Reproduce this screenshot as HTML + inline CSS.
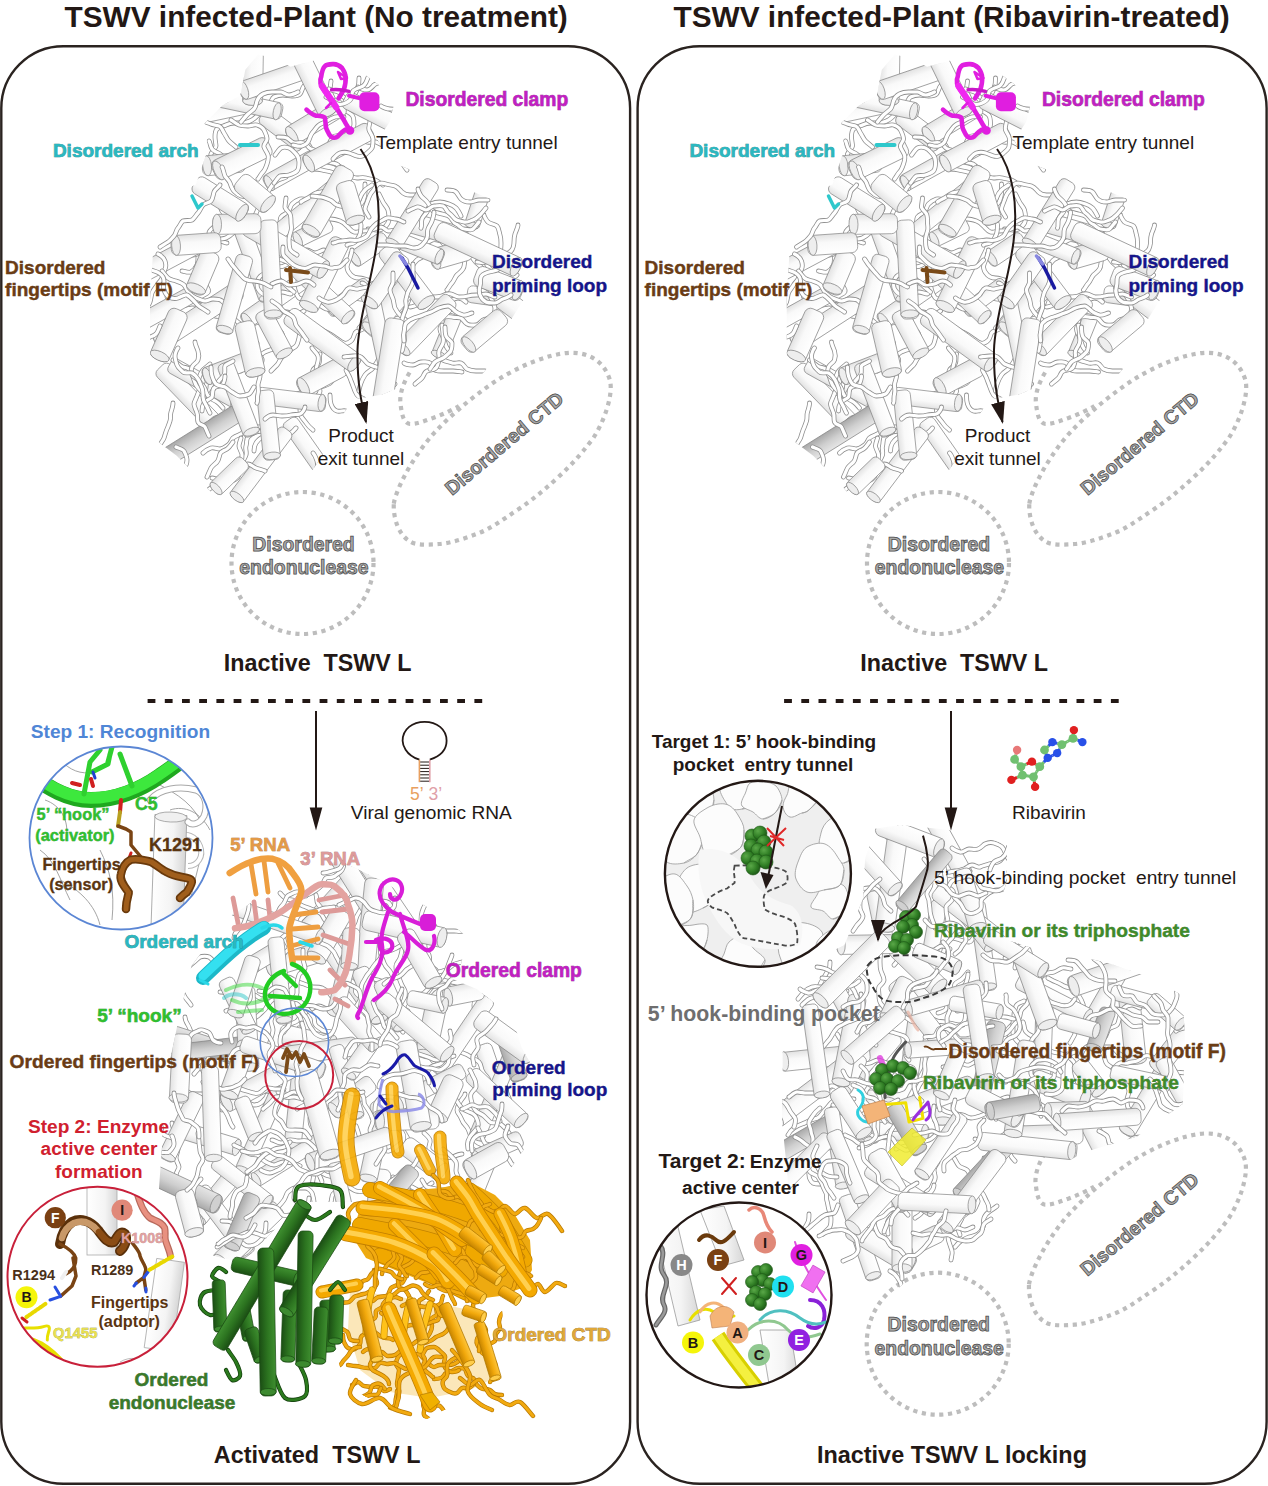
<!DOCTYPE html><html><head><meta charset="utf-8"><style>html,body{margin:0;padding:0;background:#fff;width:1268px;height:1486px;overflow:hidden;}svg{display:block;font-family:"Liberation Sans",sans-serif;}.cw{fill:url(#gW);stroke:#858585;stroke-width:.7}.ew{fill:#eeeeee;stroke:#858585;stroke-width:.7}.cd{fill:url(#gD);stroke:#858585;stroke-width:.7}.ed{fill:#d0d0d0;stroke:#858585;stroke-width:.7}.ow{fill:none;stroke:#8f8f8f;stroke-width:4.8;stroke-linecap:round;stroke-linejoin:round}.iw{fill:none;stroke:#fff;stroke-width:3.2;stroke-linecap:round;stroke-linejoin:round}.cg{fill:url(#gG);stroke:#1a4a12;stroke-width:.7}.eg{fill:#3d8a30;stroke:#1a4a12;stroke-width:.7}.og{fill:none;stroke:#1f5516;stroke-width:4.6;stroke-linecap:round;stroke-linejoin:round}.ig{fill:none;stroke:#3b8a2d;stroke-width:2.8;stroke-linecap:round;stroke-linejoin:round}.co{fill:url(#gO);stroke:#b07800;stroke-width:.7}.eo{fill:#ffcd4a;stroke:#b07800;stroke-width:.7}.oo{fill:none;stroke:#c08400;stroke-width:4.4;stroke-linecap:round;stroke-linejoin:round}.io{fill:none;stroke:#f7b420;stroke-width:2.8;stroke-linecap:round;stroke-linejoin:round}</style></head><body><svg width="1268" height="1486" viewBox="0 0 1268 1486"><defs><linearGradient id="gW" x1="0" y1="0" x2="0" y2="1"><stop offset="0" stop-color="#ffffff"/><stop offset="0.6" stop-color="#f9f9f9"/><stop offset="1" stop-color="#e2e2e2"/></linearGradient><linearGradient id="gD" x1="0" y1="0" x2="0" y2="1"><stop offset="0" stop-color="#e6e6e6"/><stop offset="0.5" stop-color="#cfcfcf"/><stop offset="1" stop-color="#a9a9a9"/></linearGradient><linearGradient id="gG" x1="0" y1="0" x2="0" y2="1"><stop offset="0" stop-color="#3f8f30"/><stop offset="0.5" stop-color="#2c7420"/><stop offset="1" stop-color="#1b4e14"/></linearGradient><linearGradient id="gO" x1="0" y1="0" x2="0" y2="1"><stop offset="0" stop-color="#ffc53a"/><stop offset="0.5" stop-color="#f2a90c"/><stop offset="1" stop-color="#c68400"/></linearGradient><linearGradient id="gV" x1="0" y1="0" x2="1" y2="0"><stop offset="0" stop-color="#ffffff"/><stop offset="0.6" stop-color="#f4f4f4"/><stop offset="1" stop-color="#d6d6d6"/></linearGradient><radialGradient id="gR" cx="0.35" cy="0.35" r="0.7"><stop offset="0" stop-color="#5aa848"/><stop offset="0.6" stop-color="#2f7d24"/><stop offset="1" stop-color="#1d5716"/></radialGradient><marker id="ah" viewBox="0 0 22 14" refX="20" refY="7" markerWidth="22" markerHeight="14" markerUnits="userSpaceOnUse" orient="auto"><path d="M0 0 L22 7 L0 14 Z" fill="#231815"/></marker></defs><rect width="1268" height="1486" fill="#ffffff"/><rect x="1.3" y="46.2" width="628.8" height="1437.6" rx="62" ry="62" fill="none" stroke="#2a2320" stroke-width="2.4"/><rect x="637.6" y="46.2" width="629" height="1437.6" rx="62" ry="62" fill="none" stroke="#2a2320" stroke-width="2.4"/><text x="64.5" y="26.5" font-size="29.8" font-weight="bold" fill="#231815" text-anchor="start">TSWV infected-Plant (No treatment)</text><text x="673.5" y="26.5" font-size="29.8" font-weight="bold" fill="#231815" text-anchor="start">TSWV infected-Plant (Ribavirin-treated)</text><g id="topP"><clipPath id="k1"><path d="M258.2 54.4 L273.7 58.3 L290.5 66.7 L319.8 58.9 L352.1 65.3 L383 88 L395.6 98.1 L389.6 122 L377.8 140.3 L388.6 161 L411.7 170.3 L451.7 183.3 L502 203.4 L533.5 218.1 L542.2 233 L534.8 281.8 L509.6 322.1 L499.5 352.4 L478.1 379.2 L451.5 389.8 L408 400.6 L398.3 388 L381.4 394.8 L353 399.6 L334.4 427.3 L324.4 452.3 L312.8 469.7 L282.8 472.7 L260.6 505 L237.3 505 L217.2 499.4 L196.3 475.4 L176.7 455.8 L155.2 439.6 L150 375.2 L150 299.8 L155.1 220.3 L171.6 196.1 L195.9 184.4 L207.9 149.5 L204.7 123.2 L221.9 106 L240.5 94.9 L245.3 69.8 Z"/></clipPath><g clip-path="url(#k1)"><g transform="translate(291 171)rotate(151)"><rect class="cw" x="-28" y="-8" width="57" height="17" rx="5.1"/><ellipse class="ew" cx="25" rx="3.7" ry="8.4"/></g><g class="ow"><path id="p1" d="M312 80C310 81 306 84 304 86S302 92 300 94S294 96 292 96S286 95 283 95S276 96 274 97S270 104 270 105"/></g><use href="#p1" class="iw"/><g transform="translate(188 396)rotate(46)"><rect class="cw" x="-40" y="-9" width="80" height="18" rx="5.3"/><ellipse class="ew" cx="36" rx="3.9" ry="8.8"/></g><g class="ow"><path id="p2" d="M265 108C264 109 261 112 259 114S254 119 252 120S246 123 243 123S237 123 234 123S228 124 226 125S219 127 217 129S215 134 215 137S216 144 216 146S212 151 211 154S213 161 214 163"/></g><use href="#p2" class="iw"/><g class="ow"><path id="p3" d="M203 453C204 452 208 449 211 448S217 449 220 449S225 447 228 445S231 440 233 438S239 435 241 434S245 428 247 427S253 427 256 427S264 427 265 426"/></g><use href="#p3" class="iw"/><g class="ow"><path id="p4" d="M346 304C348 303 351 299 353 298S360 300 362 299S367 295 369 293S374 289 377 288S383 290 385 290S392 285 393 285"/></g><use href="#p4" class="iw"/><g class="ow"><path id="p5" d="M220 176C221 175 226 172 227 169S227 163 226 160S222 156 220 154S214 152 212 149S210 142 209 141"/></g><use href="#p5" class="iw"/><g class="ow"><path id="p6" d="M249 329C250 328 253 324 255 323S261 323 264 323S270 322 273 320S276 315 278 313S284 312 287 312S293 316 296 315S302 312 304 311"/></g><use href="#p6" class="iw"/><g class="ow"><path id="p7" d="M329 145C329 144 331 139 333 137S339 136 341 135S348 133 350 132S354 127 354 124S354 117 352 115S347 112 345 110S339 108 337 106S334 101 333 98S330 93 330 90S331 82 331 81"/></g><use href="#p7" class="iw"/><g transform="translate(279 298)rotate(145)"><rect class="cw" x="-43" y="-8" width="86" height="17" rx="5.1"/><ellipse class="ew" cx="39" rx="3.7" ry="8.4"/></g><g class="ow"><path id="p8" d="M443 360C445 361 449 362 452 363S458 362 461 363S465 368 467 369S473 371 476 371S483 371 485 371"/></g><use href="#p8" class="iw"/><g transform="translate(369 249)rotate(146)"><rect class="cw" x="-21" y="-9" width="42" height="17" rx="5.2"/><ellipse class="ew" cx="17" rx="3.8" ry="8.7"/></g><g class="ow"><path id="p9" d="M271 231C273 230 277 228 279 226S279 220 281 217S286 214 288 212S290 206 292 204S297 200 300 199S306 200 309 200S315 200 318 199S324 194 325 194"/></g><use href="#p9" class="iw"/><g class="ow"><path id="p10" d="M399 267C400 267 404 270 406 272S410 278 410 280S408 286 408 289S409 295 409 298S407 304 406 307S404 312 402 315S397 319 395 319S389 317 386 317S379 321 378 322"/></g><use href="#p10" class="iw"/><g class="ow"><path id="p11" d="M379 194C380 196 382 200 383 202S387 207 388 210S389 216 389 219S387 225 385 227S379 230 377 230S369 229 368 229"/></g><use href="#p11" class="iw"/><g transform="translate(227 110)rotate(168)"><rect class="cw" x="-35" y="-8" width="70" height="15" rx="4.5"/><ellipse class="ew" cx="32" rx="3.3" ry="7.5"/></g><g class="ow"><path id="p12" d="M284 402C286 401 289 398 292 396S297 394 300 393S305 389 307 387S310 381 311 379S312 372 313 370S318 366 319 363S319 356 320 354"/></g><use href="#p12" class="iw"/><g class="ow"><path id="p13" d="M173 403C173 405 172 409 171 412S171 418 170 421S168 427 167 429S165 435 164 438S160 443 160 446S161 453 161 455"/></g><use href="#p13" class="iw"/><g transform="translate(446 336)rotate(112)"><rect class="cw" x="-23" y="-8" width="46" height="15" rx="4.6"/><ellipse class="ew" cx="20" rx="3.4" ry="7.7"/></g><g class="ow"><path id="p14" d="M300 139C302 140 306 142 308 144S311 149 313 152S316 157 319 159S324 161 327 162S333 163 335 164S342 168 343 168"/></g><use href="#p14" class="iw"/><g class="ow"><path id="p15" d="M335 364C335 365 336 370 336 373S333 379 332 381S327 385 324 386S318 387 315 388S310 390 308 392S303 396 302 399S300 405 300 408S300 414 301 416S305 421 307 424S312 429 313 430"/></g><use href="#p15" class="iw"/><g class="ow"><path id="p16" d="M312 348C313 350 317 353 318 356S318 362 317 365S316 370 316 373S316 379 317 382S320 388 320 391S316 397 315 398"/></g><use href="#p16" class="iw"/><g class="ow"><path id="p17" d="M466 302C465 301 461 298 458 298S452 300 449 301S443 302 441 304S437 309 437 312S441 317 442 320S440 326 440 329S442 334 443 337S445 343 446 346S451 352 451 353"/></g><use href="#p17" class="iw"/><g transform="translate(479 202)rotate(108)"><rect class="cw" x="-27" y="-8" width="54" height="15" rx="4.6"/><ellipse class="ew" cx="24" rx="3.4" ry="7.7"/></g><g class="ow"><path id="p18" d="M167 297C169 297 173 299 175 301S181 304 183 305S189 304 192 304S199 304 201 305S207 308 209 309S212 315 215 316S221 316 224 316S230 317 232 318S239 323 240 324"/></g><use href="#p18" class="iw"/><g transform="translate(488 297)rotate(8)"><rect class="cw" x="-21" y="-9" width="42" height="17" rx="5.1"/><ellipse class="ew" cx="17" rx="3.7" ry="8.5"/></g><g class="ow"><path id="p19" d="M291 323C292 324 297 327 298 329S300 335 299 338S298 344 296 346S291 349 289 351S284 355 282 357S279 363 277 365S272 370 271 371"/></g><use href="#p19" class="iw"/><g class="ow"><path id="p20" d="M352 250C352 251 351 255 350 258S347 264 347 267S349 273 351 275S356 278 359 278S367 280 368 280"/></g><use href="#p20" class="iw"/><g transform="translate(204 383)rotate(29)"><rect class="cw" x="-39" y="-8" width="78" height="16" rx="4.7"/><ellipse class="ew" cx="36" rx="3.4" ry="7.8"/></g><g transform="translate(307 446)rotate(55)"><rect class="cw" x="-32" y="-8" width="65" height="17" rx="5"/><ellipse class="ew" cx="29" rx="3.7" ry="8.3"/></g><g class="ow"><path id="p21" d="M205 240C204 241 201 245 200 248S198 253 198 256S198 263 197 265S193 271 191 272S183 271 182 271"/></g><use href="#p21" class="iw"/><g transform="translate(283 130)rotate(37)"><rect class="cw" x="-26" y="-10" width="52" height="19" rx="5.8"/><ellipse class="ew" cx="22" rx="4.3" ry="9.7"/></g><g transform="translate(204 434)rotate(148)"><rect class="cd" x="-47" y="-9" width="94" height="18" rx="5.3"/><ellipse class="ed" cx="43" rx="3.9" ry="8.8"/></g><g class="ow"><path id="p22" d="M496 263C495 262 490 262 487 261S483 256 481 255S474 253 472 254S466 257 465 260S465 266 463 269S459 273 457 275S454 281 452 283S448 289 447 290"/></g><use href="#p22" class="iw"/><g class="ow"><path id="p23" d="M278 445C277 443 274 440 272 437S268 433 265 432S259 431 256 432S250 435 248 437S247 443 246 446S247 452 246 455S243 461 242 463"/></g><use href="#p23" class="iw"/><g transform="translate(170 307)rotate(151)"><rect class="cw" x="-44" y="-8" width="88" height="17" rx="5"/><ellipse class="ew" cx="40" rx="3.7" ry="8.4"/></g><g class="ow"><path id="p24" d="M188 255C190 255 195 255 197 254S200 248 202 246S208 245 211 244S216 241 219 241S226 243 227 243"/></g><use href="#p24" class="iw"/><g transform="translate(303 212)rotate(141)"><rect class="cw" x="-45" y="-8" width="89" height="16" rx="4.8"/><ellipse class="ew" cx="41" rx="3.5" ry="8"/></g><g transform="translate(316 121)rotate(149)"><rect class="cw" x="-32" y="-10" width="64" height="20" rx="6"/><ellipse class="ew" cx="28" rx="4.4" ry="10"/></g><g class="ow"><path id="p25" d="M324 250C322 250 318 253 315 253S310 250 307 250S301 251 298 252S292 254 290 256S289 263 286 265S279 267 278 267"/></g><use href="#p25" class="iw"/><g transform="translate(322 377)rotate(152)"><rect class="cw" x="-26" y="-10" width="52" height="20" rx="6.1"/><ellipse class="ew" cx="21" rx="4.5" ry="10.2"/></g><g transform="translate(255 263)rotate(70)"><rect class="cw" x="-40" y="-8" width="80" height="17" rx="5.1"/><ellipse class="ew" cx="36" rx="3.7" ry="8.5"/></g><g class="ow"><path id="p26" d="M383 185C381 184 378 181 375 180S369 179 366 178S360 178 357 178S351 176 348 176S342 176 339 175S334 173 331 172S325 171 322 170S315 169 313 169"/></g><use href="#p26" class="iw"/><g class="ow"><path id="p27" d="M468 252C469 254 472 257 474 260S478 264 480 266S484 270 486 272S491 277 492 280S492 287 492 289"/></g><use href="#p27" class="iw"/><g transform="translate(238 103)rotate(12)"><rect class="cw" x="-44" y="-9" width="89" height="17" rx="5.2"/><ellipse class="ew" cx="40" rx="3.8" ry="8.7"/></g><g transform="translate(253 74)rotate(91)"><rect class="cw" x="-31" y="-10" width="62" height="20" rx="5.9"/><ellipse class="ew" cx="27" rx="4.4" ry="9.9"/></g><g class="ow"><path id="p28" d="M315 217C316 218 320 221 323 221S328 219 331 219S337 220 340 221S345 224 347 226S351 231 354 232S360 231 363 231S369 231 372 230S378 227 381 227S386 231 388 231S396 230 397 230"/></g><use href="#p28" class="iw"/><g transform="translate(198 316)rotate(147)"><rect class="cw" x="-50" y="-10" width="100" height="19" rx="5.8"/><ellipse class="ew" cx="46" rx="4.3" ry="9.7"/></g><g class="ow"><path id="p29" d="M236 200C236 201 235 206 236 209S239 214 240 217S240 223 239 226S235 231 233 233S228 237 226 238S218 239 217 240"/></g><use href="#p29" class="iw"/><g class="ow"><path id="p30" d="M278 137C280 137 285 137 287 138S292 143 295 143S301 142 304 143S308 148 311 149S317 150 319 152S324 158 325 159"/></g><use href="#p30" class="iw"/><g transform="translate(512 305)rotate(37)"><rect class="cw" x="-35" y="-10" width="70" height="21" rx="6.2"/><ellipse class="ew" cx="31" rx="4.5" ry="10.3"/></g><g transform="translate(291 399)rotate(7)"><rect class="cw" x="-35" y="-8" width="70" height="17" rx="5.1"/><ellipse class="ew" cx="31" rx="3.7" ry="8.5"/></g><g class="ow"><path id="p31" d="M286 177C285 178 280 179 278 180S273 184 271 187S268 192 267 194S266 201 264 203S259 207 258 209S255 216 254 218"/></g><use href="#p31" class="iw"/><g transform="translate(224 164)rotate(174)"><rect class="cw" x="-21" y="-10" width="43" height="20" rx="6"/><ellipse class="ew" cx="17" rx="4.4" ry="10.1"/></g><g transform="translate(273 80)rotate(161)"><rect class="cw" x="-36" y="-10" width="71" height="19" rx="5.7"/><ellipse class="ew" cx="31" rx="4.2" ry="9.6"/></g><g class="ow"><path id="p32" d="M358 140C360 140 364 141 367 142S373 141 376 142S381 145 384 146S391 146 393 147S396 152 398 155S400 160 402 163S406 169 407 170"/></g><use href="#p32" class="iw"/><g class="ow"><path id="p33" d="M233 442C232 443 230 447 227 449S221 451 220 454S219 460 217 462S212 466 211 468S208 475 207 477"/></g><use href="#p33" class="iw"/><g class="ow"><path id="p34" d="M176 447C178 448 183 449 184 451S187 457 187 460S186 466 184 468S180 473 178 475S172 476 169 478S165 482 163 484S162 490 160 493S157 498 155 500S153 506 152 508S150 516 150 517"/></g><use href="#p34" class="iw"/><g class="ow"><path id="p35" d="M329 89C331 90 335 91 338 92S342 97 345 98S352 97 354 95S357 90 358 87S359 80 359 78"/></g><use href="#p35" class="iw"/><g class="ow"><path id="p36" d="M241 371C239 371 235 370 232 370S226 369 223 369S217 370 214 372S211 377 209 379S206 386 206 388"/></g><use href="#p36" class="iw"/><g transform="translate(348 297)rotate(144)"><rect class="cw" x="-25" y="-8" width="50" height="15" rx="4.5"/><ellipse class="ew" cx="21" rx="3.3" ry="7.5"/></g><g class="ow"><path id="p37" d="M274 258C275 259 279 259 282 260S288 262 290 264S294 269 294 272S294 278 294 281S294 287 295 290S297 296 299 298S305 298 308 299S314 302 316 303S321 306 324 308S331 309 333 310"/></g><use href="#p37" class="iw"/><g class="ow"><path id="p38" d="M294 292C293 291 289 288 287 286S282 282 280 280S276 275 273 274S267 273 264 274S259 277 258 280S257 287 258 289S262 294 265 295S271 296 274 296S279 292 282 292S289 294 291 294"/></g><use href="#p38" class="iw"/><g class="ow"><path id="p39" d="M447 190C449 190 454 190 456 192S459 197 461 199S467 202 470 202S476 200 479 200S486 200 488 200"/></g><use href="#p39" class="iw"/><g class="ow"><path id="p40" d="M236 147C235 146 231 143 229 141S226 136 224 133S222 127 219 126S213 125 211 124S204 122 202 120S200 114 200 111S201 105 202 102S202 96 203 93S204 86 204 85"/></g><use href="#p40" class="iw"/><g class="ow"><path id="p41" d="M301 202C302 201 306 199 308 198S313 194 316 193S322 192 325 191S331 190 334 189S339 185 340 183S342 177 341 174S340 167 338 165S331 163 330 162"/></g><use href="#p41" class="iw"/><g transform="translate(162 262)rotate(152)"><rect class="cw" x="-42" y="-10" width="85" height="19" rx="5.8"/><ellipse class="ew" cx="38" rx="4.2" ry="9.6"/></g><g class="ow"><path id="p42" d="M479 288C480 289 484 291 487 293S491 298 492 300S495 306 495 309S494 315 492 317S486 318 483 320S479 325 476 325S470 326 467 324S463 319 461 318S455 318 452 317S444 317 443 317"/></g><use href="#p42" class="iw"/><g class="ow"><path id="p43" d="M313 453C314 454 316 458 317 461S318 467 316 470S312 475 310 476S304 477 301 479S297 483 294 484S286 483 285 483"/></g><use href="#p43" class="iw"/><g transform="translate(169 335)rotate(114)"><rect class="cw" x="-27" y="-10" width="54" height="20" rx="6.1"/><ellipse class="ew" cx="23" rx="4.5" ry="10.2"/></g><g class="ow"><path id="p44" d="M313 324C314 325 318 327 321 329S326 332 328 333S333 336 336 338S341 342 344 343S350 342 352 340S354 333 356 332S362 330 364 328S368 323 370 322S376 320 379 321S386 323 387 324"/></g><use href="#p44" class="iw"/><g class="ow"><path id="p45" d="M456 247C455 247 450 248 447 247S443 242 441 241S434 239 432 240S426 243 425 246S425 252 424 255S419 258 417 260S412 265 412 268S412 275 412 277"/></g><use href="#p45" class="iw"/><g class="ow"><path id="p46" d="M262 354C263 353 267 351 270 350S276 350 279 348S283 343 283 341S283 334 281 332S275 328 274 327"/></g><use href="#p46" class="iw"/><g class="ow"><path id="p47" d="M369 217C368 215 365 211 365 209S367 203 368 200S370 194 372 192S375 187 377 185S383 183 386 184S392 185 395 186S400 190 402 192S407 195 410 195S418 195 419 195"/></g><use href="#p47" class="iw"/><g transform="translate(451 255)rotate(164)"><rect class="cw" x="-21" y="-10" width="42" height="21" rx="6.2"/><ellipse class="ew" cx="16" rx="4.6" ry="10.3"/></g><g class="ow"><path id="p48" d="M346 370C346 371 349 375 350 378S352 383 353 386S355 392 357 395S362 397 364 399S368 404 369 407S370 413 371 416S374 421 376 423S380 427 383 429S389 430 392 431S399 430 401 430"/></g><use href="#p48" class="iw"/><g class="ow"><path id="p49" d="M158 254C160 255 164 258 165 261S166 267 165 269S163 275 162 278S158 283 157 285S153 290 152 293S151 299 150 302S146 308 145 309"/></g><use href="#p49" class="iw"/><g class="ow"><path id="p50" d="M358 87C359 88 364 90 367 90S372 87 374 85S381 83 382 81S383 75 384 72S385 66 387 63S390 58 393 56S399 55 401 54S409 53 410 53"/></g><use href="#p50" class="iw"/><g class="ow"><path id="p51" d="M404 363C405 364 410 365 413 365S418 362 421 362S428 361 430 363S433 369 435 370S441 371 444 371S450 371 453 371S461 372 462 372"/></g><use href="#p51" class="iw"/><g transform="translate(274 334)rotate(62)"><rect class="cw" x="-26" y="-9" width="51" height="18" rx="5.4"/><ellipse class="ew" cx="22" rx="4" ry="9"/></g><g class="ow"><path id="p52" d="M210 364C209 365 205 368 203 370S200 375 199 378S200 384 200 387S198 393 197 396S194 402 194 404S196 410 197 413S197 419 198 422S204 425 205 427S208 434 209 436"/></g><use href="#p52" class="iw"/><g transform="translate(311 77)rotate(64)"><rect class="cw" x="-44" y="-9" width="87" height="19" rx="5.6"/><ellipse class="ew" cx="39" rx="4.1" ry="9.4"/></g><g transform="translate(436 230)rotate(16)"><rect class="cw" x="-32" y="-10" width="64" height="20" rx="6.1"/><ellipse class="ew" cx="27" rx="4.5" ry="10.2"/></g><g class="ow"><path id="p53" d="M410 307C411 307 416 306 418 304S422 299 425 297S431 297 433 297S440 297 442 296S448 293 451 294S457 297 459 297S465 297 468 296S474 295 477 295S483 294 486 294S493 297 495 297"/></g><use href="#p53" class="iw"/><g class="ow"><path id="p54" d="M229 307C228 306 224 303 222 301S216 299 213 299S207 301 205 301S199 299 196 298S191 295 189 293S186 287 184 285S179 282 176 281S170 280 168 278S163 272 162 271"/></g><use href="#p54" class="iw"/><g transform="translate(226 369)rotate(159)"><rect class="cw" x="-24" y="-9" width="48" height="18" rx="5.3"/><ellipse class="ew" cx="20" rx="3.9" ry="8.9"/></g><g class="ow"><path id="p55" d="M517 275C516 276 512 278 509 279S503 279 500 278S495 274 493 272S489 268 487 265S484 259 485 257S489 250 490 249"/></g><use href="#p55" class="iw"/><g transform="translate(323 294)rotate(43)"><rect class="cw" x="-38" y="-9" width="76" height="17" rx="5.1"/><ellipse class="ew" cx="34" rx="3.8" ry="8.5"/></g><g class="ow"><path id="p56" d="M296 428C295 429 292 433 289 434S283 432 280 432S275 435 272 436S266 436 263 437S258 440 256 443S254 450 254 451"/></g><use href="#p56" class="iw"/><g class="ow"><path id="p57" d="M359 328C360 327 363 324 365 321S369 316 370 314S370 308 370 305S373 299 373 296S371 290 369 288S363 283 362 283"/></g><use href="#p57" class="iw"/><g class="ow"><path id="p58" d="M160 326C159 328 158 332 156 334S150 337 148 338S142 341 140 343S138 350 136 351S130 352 127 353S121 356 120 358S118 364 119 367S121 374 121 376"/></g><use href="#p58" class="iw"/><g transform="translate(313 232)rotate(154)"><rect class="cw" x="-20" y="-8" width="40" height="16" rx="4.9"/><ellipse class="ew" cx="17" rx="3.6" ry="8.2"/></g><g transform="translate(338 148)rotate(152)"><rect class="cw" x="-38" y="-9" width="75" height="19" rx="5.7"/><ellipse class="ew" cx="33" rx="4.2" ry="9.4"/></g><g transform="translate(324 275)rotate(116)"><rect class="cw" x="-40" y="-10" width="79" height="20" rx="6.1"/><ellipse class="ew" cx="35" rx="4.5" ry="10.1"/></g><g transform="translate(418 248)rotate(22)"><rect class="cw" x="-27" y="-8" width="54" height="16" rx="4.8"/><ellipse class="ew" cx="23" rx="3.5" ry="8"/></g><g class="ow"><path id="p59" d="M382 328C381 329 377 333 377 335S377 341 378 344S380 350 380 353S379 359 377 362S374 367 372 369S367 372 365 375S362 380 361 383S359 390 359 391"/></g><use href="#p59" class="iw"/><g transform="translate(412 214)rotate(122)"><rect class="cw" x="-39" y="-9" width="77" height="17" rx="5.2"/><ellipse class="ew" cx="35" rx="3.8" ry="8.7"/></g><g transform="translate(485 331)rotate(140)"><rect class="cw" x="-25" y="-9" width="51" height="19" rx="5.7"/><ellipse class="ew" cx="21" rx="4.2" ry="9.5"/></g><g class="ow"><path id="p60" d="M347 245C348 244 353 244 355 242S359 237 360 234S361 228 361 225S358 220 357 217S356 210 357 208S362 204 363 201S365 196 365 193S365 185 365 184"/></g><use href="#p60" class="iw"/><g class="ow"><path id="p61" d="M221 219C220 221 217 224 215 226S209 230 209 233S210 239 210 242S207 247 207 250S205 256 205 259S207 265 207 268S205 273 204 276S204 283 202 285S195 288 194 289"/></g><use href="#p61" class="iw"/><g transform="translate(391 306)rotate(131)"><rect class="cw" x="-35" y="-10" width="71" height="21" rx="6.2"/><ellipse class="ew" cx="31" rx="4.5" ry="10.3"/></g><g transform="translate(239 399)rotate(69)"><rect class="cw" x="-39" y="-8" width="78" height="17" rx="5"/><ellipse class="ew" cx="35" rx="3.6" ry="8.3"/></g><g transform="translate(203 272)rotate(113)"><rect class="cw" x="-22" y="-10" width="45" height="20" rx="6.1"/><ellipse class="ew" cx="18" rx="4.5" ry="10.2"/></g><g class="ow"><path id="p62" d="M241 438C241 439 239 443 239 446S242 452 242 455S242 461 240 464S236 467 233 469S228 472 226 474S223 480 221 482S216 485 214 486S208 490 207 492S204 498 204 501S207 508 207 509"/></g><use href="#p62" class="iw"/><g class="ow"><path id="p63" d="M208 397C209 396 212 392 213 390S216 385 218 382S222 378 224 375S224 368 225 366S232 362 233 361"/></g><use href="#p63" class="iw"/><g class="ow"><path id="p64" d="M421 228C422 227 421 222 422 219S426 214 427 212S429 205 431 204S437 202 440 202S446 203 449 204S454 206 456 208S460 214 461 216"/></g><use href="#p64" class="iw"/><g transform="translate(261 465)rotate(127)"><rect class="cw" x="-44" y="-8" width="87" height="16" rx="4.9"/><ellipse class="ew" cx="40" rx="3.6" ry="8.2"/></g><g class="ow"><path id="p65" d="M330 395C330 397 330 401 331 404S334 410 337 411S343 410 346 411S351 414 354 414S360 415 363 415S369 412 371 411S375 406 377 404S382 400 383 397S386 392 388 390S394 385 395 384"/></g><use href="#p65" class="iw"/><g transform="translate(242 159)rotate(154)"><rect class="cw" x="-31" y="-10" width="62" height="21" rx="6.2"/><ellipse class="ew" cx="26" rx="4.5" ry="10.3"/></g><g class="ow"><path id="p66" d="M173 360C175 361 178 364 181 366S187 367 189 369S192 374 193 377S195 383 196 385S201 391 202 392"/></g><use href="#p66" class="iw"/><g class="ow"><path id="p67" d="M333 159C334 158 337 154 340 153S346 152 349 153S354 155 357 156S364 156 366 154S371 150 372 148S373 142 373 139S370 133 369 130S370 124 370 121S369 114 368 113"/></g><use href="#p67" class="iw"/><g transform="translate(286 248)rotate(30)"><rect class="cw" x="-47" y="-10" width="94" height="20" rx="5.9"/><ellipse class="ew" cx="43" rx="4.3" ry="9.9"/></g><g transform="translate(328 201)rotate(120)"><rect class="cw" x="-38" y="-10" width="77" height="20" rx="5.9"/><ellipse class="ew" cx="34" rx="4.3" ry="9.8"/></g><g transform="translate(323 340)rotate(36)"><rect class="cw" x="-44" y="-10" width="87" height="20" rx="6"/><ellipse class="ew" cx="39" rx="4.4" ry="10"/></g><g class="ow"><path id="p68" d="M209 187C211 188 215 189 217 192S219 197 220 200S220 206 221 209S224 214 227 215S233 216 236 217S242 216 245 216S250 220 253 221S258 224 260 226S265 229 268 231S274 235 275 236"/></g><use href="#p68" class="iw"/><g class="ow"><path id="p69" d="M391 375C390 374 387 370 385 369S379 368 376 367S370 365 368 364S364 359 361 357S356 356 353 356S345 357 344 357"/></g><use href="#p69" class="iw"/><g transform="translate(269 425)rotate(84)"><rect class="cw" x="-35" y="-8" width="70" height="17" rx="5"/><ellipse class="ew" cx="31" rx="3.7" ry="8.4"/></g><g class="ow"><path id="p70" d="M384 286C382 285 378 283 375 283S370 286 367 287S361 288 358 289S352 287 349 288S345 293 343 295S338 299 336 300S330 303 327 302S320 299 319 298"/></g><use href="#p70" class="iw"/><g transform="translate(271 269)rotate(87)"><rect class="cw" x="-49" y="-9" width="99" height="18" rx="5.4"/><ellipse class="ew" cx="45" rx="4" ry="9"/></g><g class="ow"><path id="p71" d="M272 301C273 302 277 304 279 306S283 311 285 312S291 315 293 317S295 323 296 325S300 330 302 333S306 339 307 340"/></g><use href="#p71" class="iw"/><g transform="translate(380 336)rotate(78)"><rect class="cw" x="-43" y="-8" width="86" height="16" rx="4.9"/><ellipse class="ew" cx="40" rx="3.6" ry="8.1"/></g><g transform="translate(407 277)rotate(53)"><rect class="cw" x="-37" y="-10" width="73" height="20" rx="6"/><ellipse class="ew" cx="32" rx="4.4" ry="10"/></g><g class="ow"><path id="p72" d="M372 185C371 186 367 188 365 190S361 195 360 198S357 204 355 205S349 207 346 207S340 206 337 205S333 201 330 200S324 197 321 197S314 196 312 196"/></g><use href="#p72" class="iw"/><g class="ow"><path id="p73" d="M257 343C257 344 256 349 257 352S261 356 262 359S260 364 260 367S260 373 260 376S258 382 258 385S259 391 258 394S258 402 257 403"/></g><use href="#p73" class="iw"/><g class="ow"><path id="p74" d="M484 215C484 216 486 220 488 222S495 224 497 226S499 232 500 235S501 241 501 243S501 250 500 252S497 258 495 260S489 261 486 262S479 262 477 262"/></g><use href="#p74" class="iw"/><g class="ow"><path id="p75" d="M195 342C195 344 197 348 198 351S199 357 198 360S193 364 192 367S191 374 193 376S198 379 200 382S204 386 205 389S207 395 209 397S214 400 217 402S222 407 223 408"/></g><use href="#p75" class="iw"/><g class="ow"><path id="p76" d="M225 376C225 378 224 383 222 385S216 386 214 388S213 395 212 397S206 400 204 403S202 410 202 411"/></g><use href="#p76" class="iw"/><g class="ow"><path id="p77" d="M344 117C343 117 338 116 335 117S330 119 327 121S322 123 319 125S315 130 313 132S310 137 309 140S305 145 302 146S294 145 293 145"/></g><use href="#p77" class="iw"/><g class="ow"><path id="p78" d="M250 197C249 196 244 197 241 196S236 193 234 191S231 186 230 183S226 178 225 176S223 168 222 167"/></g><use href="#p78" class="iw"/><g class="ow"><path id="p79" d="M518 225C518 227 516 231 515 234S514 240 514 242S513 249 511 251S506 255 503 255S497 253 495 251S489 249 486 248S480 246 477 246S471 250 470 251"/></g><use href="#p79" class="iw"/><g class="ow"><path id="p80" d="M208 312C207 311 203 309 200 307S196 303 194 301S189 296 187 295S181 297 178 298S171 298 169 297S165 293 164 290S164 284 164 281S162 275 159 273S154 271 151 270S144 267 143 267"/></g><use href="#p80" class="iw"/><g transform="translate(426 325)rotate(134)"><rect class="cw" x="-37" y="-9" width="74" height="18" rx="5.3"/><ellipse class="ew" cx="33" rx="3.9" ry="8.9"/></g><g transform="translate(385 280)rotate(125)"><rect class="cw" x="-31" y="-10" width="62" height="19" rx="5.8"/><ellipse class="ew" cx="27" rx="4.3" ry="9.7"/></g><g class="ow"><path id="p81" d="M407 321C406 320 402 317 400 315S396 310 395 308S394 302 393 299S390 293 390 290S393 285 393 282S393 275 393 273"/></g><use href="#p81" class="iw"/><g class="ow"><path id="p82" d="M314 285C313 284 309 281 306 281S301 283 298 284S292 285 289 285S284 281 281 281S274 283 272 284"/></g><use href="#p82" class="iw"/><g class="ow"><path id="p83" d="M254 387C253 388 251 393 249 394S243 396 240 396S234 393 232 392S227 388 225 387S218 386 216 384S213 379 212 376S211 369 211 367"/></g><use href="#p83" class="iw"/><g transform="translate(499 283)rotate(21)"><rect class="cw" x="-25" y="-10" width="50" height="21" rx="6.2"/><ellipse class="ew" cx="20" rx="4.6" ry="10.4"/></g><g class="ow"><path id="p84" d="M413 264C413 266 413 270 413 273S414 279 413 282S411 287 409 290S407 296 406 299S407 305 406 308S404 313 403 316S401 322 402 325S404 330 404 333S405 339 404 342S403 350 402 351"/></g><use href="#p84" class="iw"/><g class="ow"><path id="p85" d="M479 222C478 223 475 227 473 229S467 229 464 229S459 225 456 224S452 219 450 217S445 215 442 214S435 213 433 211S430 206 428 203S424 199 422 197S418 190 418 189"/></g><use href="#p85" class="iw"/><g class="ow"><path id="p86" d="M210 413C209 412 208 408 206 405S203 399 203 397S203 390 202 388S200 382 198 379S194 374 192 373S185 374 183 372S178 368 177 365S175 359 175 356S177 349 178 348"/></g><use href="#p86" class="iw"/><g transform="translate(237 224)rotate(179)"><rect class="cw" x="-24" y="-10" width="48" height="20" rx="6.1"/><ellipse class="ew" cx="20" rx="4.5" ry="10.2"/></g><g transform="translate(388 367)rotate(99)"><rect class="cw" x="-49" y="-10" width="99" height="20" rx="5.9"/><ellipse class="ew" cx="45" rx="4.4" ry="9.9"/></g><g class="ow"><path id="p87" d="M442 325C442 326 443 331 443 334S444 340 443 343S440 348 439 351S440 357 439 360S438 366 436 368S430 370 427 371S424 376 422 378S416 383 415 384"/></g><use href="#p87" class="iw"/><g class="ow"><path id="p88" d="M472 313C470 313 466 316 463 315S457 313 455 311S450 306 448 306S442 307 439 308S434 311 431 312S425 314 423 315S417 317 414 318S408 321 406 323S405 329 404 332S404 339 404 341"/></g><use href="#p88" class="iw"/><g class="ow"><path id="p89" d="M378 245C379 245 384 245 387 245S393 246 396 246S402 246 405 246S411 248 414 248S420 247 422 245S426 241 427 238S427 232 428 229S431 224 432 221S434 214 434 212"/></g><use href="#p89" class="iw"/><g transform="translate(373 113)rotate(27)"><rect class="cw" x="-32" y="-9" width="64" height="18" rx="5.4"/><ellipse class="ew" cx="28" rx="4" ry="9.1"/></g><g class="ow"><path id="p90" d="M265 419C266 418 270 415 273 415S279 416 282 416S288 416 291 415S297 415 300 414S305 408 305 407"/></g><use href="#p90" class="iw"/><g class="ow"><path id="p91" d="M265 471C263 470 259 469 256 468S251 464 248 464S242 467 240 469S240 475 238 477S233 481 230 481S224 480 221 480S214 478 212 478"/></g><use href="#p91" class="iw"/><g transform="translate(250 349)rotate(77)"><rect class="cw" x="-28" y="-10" width="56" height="20" rx="5.9"/><ellipse class="ew" cx="24" rx="4.3" ry="9.8"/></g><g class="ow"><path id="p92" d="M274 183C275 182 278 177 280 176S286 176 289 175S295 173 297 171S299 165 299 162S298 156 296 154S292 149 289 148S283 147 281 148S276 154 275 155"/></g><use href="#p92" class="iw"/><g class="ow"><path id="p93" d="M511 295C510 296 506 298 503 299S498 303 495 303S488 303 486 302S481 298 480 295S479 289 480 286S480 280 481 277S486 273 489 272S495 271 497 270S502 264 502 262"/></g><use href="#p93" class="iw"/><g class="ow"><path id="p94" d="M297 255C296 254 291 252 290 249S289 243 289 240S290 234 291 231S291 225 291 222S291 216 290 214S285 209 285 207S286 199 286 198"/></g><use href="#p94" class="iw"/><g class="ow"><path id="p95" d="M231 120C233 121 236 124 239 125S245 126 248 126S254 124 257 125S263 128 264 130S267 136 267 139S263 144 264 147S267 152 268 155S268 161 267 164S265 170 263 172S259 178 258 179"/></g><use href="#p95" class="iw"/><g transform="translate(229 476)rotate(136)"><rect class="cw" x="-22" y="-8" width="43" height="16" rx="4.8"/><ellipse class="ew" cx="18" rx="3.5" ry="7.9"/></g><g transform="translate(235 294)rotate(106)"><rect class="cw" x="-40" y="-8" width="81" height="17" rx="5"/><ellipse class="ew" cx="37" rx="3.7" ry="8.4"/></g><g class="ow"><path id="p96" d="M381 106C382 107 387 109 390 109S396 110 399 109S403 105 405 102S410 98 411 96S413 90 413 87S412 81 410 78S405 75 403 73S400 67 398 66S391 66 389 65S382 62 381 61"/></g><use href="#p96" class="iw"/><g transform="translate(255 193)rotate(40)"><rect class="cw" x="-21" y="-10" width="42" height="21" rx="6.2"/><ellipse class="ew" cx="17" rx="4.5" ry="10.3"/></g><g transform="translate(478 249)rotate(25)"><rect class="cw" x="-46" y="-10" width="92" height="20" rx="6.1"/><ellipse class="ew" cx="42" rx="4.5" ry="10.2"/></g><g class="ow"><path id="p97" d="M326 97C328 98 332 100 334 102S340 105 343 104S349 102 351 99S351 93 353 91S358 88 361 87S366 83 367 80S370 74 370 71S367 65 366 63"/></g><use href="#p97" class="iw"/><g transform="translate(220 199)rotate(32)"><rect class="cw" x="-30" y="-10" width="60" height="19" rx="5.8"/><ellipse class="ew" cx="26" rx="4.3" ry="9.7"/></g><g class="ow"><path id="p98" d="M298 92C296 93 292 95 289 95S283 92 281 92S275 92 272 92S265 93 263 94S258 98 257 101S256 107 254 109S249 113 247 115S242 121 241 122"/></g><use href="#p98" class="iw"/><g class="ow"><path id="p99" d="M228 259C229 260 231 264 233 266S237 271 239 273S243 278 245 279S251 281 254 281S260 282 263 283S270 287 271 287"/></g><use href="#p99" class="iw"/><g class="ow"><path id="p100" d="M408 211C410 210 414 208 417 207S423 210 426 210S431 206 434 206S440 205 443 206S446 211 449 213S453 217 455 219S461 221 464 222S470 221 473 220S478 217 480 215S485 209 486 208"/></g><use href="#p100" class="iw"/><g transform="translate(196 244)rotate(176)"><rect class="cw" x="-25" y="-10" width="50" height="20" rx="6"/><ellipse class="ew" cx="20" rx="4.4" ry="10"/></g><g class="ow"><path id="p101" d="M430 369C431 368 433 364 435 362S441 359 443 358S448 354 450 352S452 345 452 343S447 339 446 336S445 329 445 327"/></g><use href="#p101" class="iw"/><g class="ow"><path id="p102" d="M283 247C283 249 282 254 284 256S288 260 290 262S295 266 298 267S304 269 307 268S312 265 315 265S321 266 324 266S330 269 333 268S339 268 341 266S346 261 347 260"/></g><use href="#p102" class="iw"/><g class="ow"><path id="p103" d="M333 243C334 243 338 241 341 241S347 240 350 240S356 241 359 240S365 238 367 236S370 230 372 228S376 223 379 222S384 219 387 218S393 219 396 219S403 222 404 222"/></g><use href="#p103" class="iw"/><g transform="translate(350 203)rotate(73)"><rect class="cw" x="-22" y="-10" width="44" height="19" rx="5.8"/><ellipse class="ew" cx="18" rx="4.3" ry="9.7"/></g><g class="ow"><path id="p104" d="M160 247C161 246 165 244 168 242S172 238 174 236S176 230 178 228S181 222 183 221S190 221 192 220S196 215 198 213S201 207 203 205S209 203 211 201S213 195 214 192S219 187 220 185"/></g><use href="#p104" class="iw"/></g><g fill="none" stroke-linecap="round" stroke-linejoin="round"><path d="M324.7 91.4 C320 85 319.5 80 321.2 76.7 C322 71 323 68 324.7 66.3 C327 64 330 64 333.4 64.1 C337 64 340 66 342 68 C344 71 345.5 74 345.5 76.7 C346 81 345 86 343.8 89.7 C342 93 340 96 338.6 98.4" stroke="#e01ee0" stroke-width="4.6"/><path d="M331.6 89.7 C338 89 344 90 349 91.4" stroke="#c818c8" stroke-width="3.5"/><path d="M349 95.8 L360 98.4" stroke="#e01ee0" stroke-width="4"/><path d="M306.5 109.7 C310 113 313 115 316 115.7 C320 116 323 116 324.7 117.5 C326 121 325 125 326.4 128.7 C328 132 329 135 330.8 136.5 C333 138 336 138 337.7 136.5 C340 134 343 131 345.5 129.6 C347 129 349 130 350.7 131.3" stroke="#e01ee0" stroke-width="4.6"/><path d="M336 107 C340 114 344 120 346 124 C348 127 349 129 350.7 131.3" stroke="#e01ee0" stroke-width="4.6"/><path d="M322 86 L336 107" stroke="#f028f0" stroke-width="6.5"/><path d="M338 72 L347 78 L341 79 Z M326 108 L331 103" stroke="#e01ee0" stroke-width="2.5"/><path d="M240 145 L258 145" stroke="#2ec8cc" stroke-width="4"/><path d="M192 196 L198 208 L202 204" stroke="#2ec8cc" stroke-width="3.5"/><path d="M286 270 L308 272.5 M290 268 L291 282" stroke="#7a4a18" stroke-width="4"/><path d="M402 258 L408 268 L418 288" stroke="#1a1aa0" stroke-width="3.5"/><path d="M400 256 L406 264" stroke="#8888e0" stroke-width="3.5"/></g><rect x="359.4" y="92.3" width="20" height="19" rx="5" fill="#e01ee0"/><circle cx="350" cy="130.5" r="4.3" fill="#e01ee0"/><path d="M360.5 149 C376 170 382 204 377 242 C372 280 358 320 357.5 350 C357 385 362 405 366 422" fill="none" stroke="#231815" stroke-width="2" marker-end="url(#ah)"/></g><use href="#topP" transform="translate(636.5 0)"/><g id="disG"><path d="M393.8 503.6 C396 490 410 462 429.3 438.6 C444 421 470 398 498.3 379.4 C520 366 548 354 569.3 352.8 C590 352 604 362 609.7 379.4 C614 394 604 422 592.9 438.6 C580 456 570 466 557.4 478 C542 492 532 500 518 509.6 C502 520 492 528 478.6 533.2 C466 538 452 543 439.1 544 C426 545 414 545 409.6 541.1 C400 536 393 520 393.8 503.6 Z" fill="none" stroke="#bdbdbd" stroke-width="4.2" stroke-dasharray="4.2 4.6"/><path d="M409.6 372.5 C402 385 399 397 400.7 405 C402 416 404 423 410 424 C418 424 424 421 433 418 C444 414 452 410 458.9 406" fill="none" stroke="#bdbdbd" stroke-width="4.2" stroke-dasharray="4.2 4.6"/><circle cx="302.5" cy="563" r="71" fill="none" stroke="#bdbdbd" stroke-width="4.2" stroke-dasharray="4.2 4.6"/><g font-size="19.4" font-weight="bold" fill="#a8a8a8" stroke="#4a4a4a" stroke-width="0.75" text-anchor="middle"><text x="303.5" y="550.8">Disordered</text><text x="304" y="574.3">endonuclease</text></g><text transform="translate(452 496) rotate(-40)" font-size="19.4" font-weight="bold" fill="#a8a8a8" stroke="#4a4a4a" stroke-width="0.75">Disordered CTD</text></g><use href="#disG" transform="translate(635.5 0)"/><use href="#disG" transform="translate(635.2 780.7)"/><text x="405.4" y="105.6" font-size="19.3" font-weight="bold" fill="#c21fc2" text-anchor="start" stroke="#8a1a8a" stroke-width="0.6" paint-order="stroke">Disordered clamp</text><text x="376" y="148.7" font-size="19" font-weight="normal" fill="#231815" text-anchor="start">Template entry tunnel</text><text x="52.9" y="157" font-size="19" font-weight="bold" fill="#2bb8c0" text-anchor="start" stroke="#1a7f86" stroke-width="0.6" paint-order="stroke">Disordered arch</text><text x="5.1" y="273.5" font-size="19" font-weight="bold" fill="#6b3c14" text-anchor="start" stroke="#4a2a0e" stroke-width="0.4" paint-order="stroke">Disordered</text><text x="5.1" y="295.5" font-size="19" font-weight="bold" fill="#6b3c14" text-anchor="start" stroke="#4a2a0e" stroke-width="0.4" paint-order="stroke">fingertips (motif F)</text><text x="492" y="268" font-size="19" font-weight="bold" fill="#15158c" text-anchor="start" stroke="#0e0e60" stroke-width="0.4" paint-order="stroke">Disordered</text><text x="492" y="291.5" font-size="19" font-weight="bold" fill="#15158c" text-anchor="start" stroke="#0e0e60" stroke-width="0.4" paint-order="stroke">priming loop</text><text x="361" y="441.6" font-size="19" font-weight="normal" fill="#231815" text-anchor="middle">Product</text><text x="361" y="465" font-size="19" font-weight="normal" fill="#231815" text-anchor="middle">exit tunnel</text><text x="317.7" y="671.2" font-size="23.3" font-weight="bold" fill="#231815" text-anchor="middle">Inactive&#160;&#160;TSWV L</text><path d="M147.6 701 L483 701" stroke="#231815" stroke-width="4" stroke-dasharray="7.8 9.4" transform="translate(0 0)"/><text x="1041.9" y="105.6" font-size="19.3" font-weight="bold" fill="#c21fc2" text-anchor="start" stroke="#8a1a8a" stroke-width="0.6" paint-order="stroke">Disordered clamp</text><text x="1012.5" y="148.7" font-size="19" font-weight="normal" fill="#231815" text-anchor="start">Template entry tunnel</text><text x="689.4" y="157" font-size="19" font-weight="bold" fill="#2bb8c0" text-anchor="start" stroke="#1a7f86" stroke-width="0.6" paint-order="stroke">Disordered arch</text><text x="644.6" y="273.5" font-size="19" font-weight="bold" fill="#6b3c14" text-anchor="start" stroke="#4a2a0e" stroke-width="0.4" paint-order="stroke">Disordered</text><text x="644.6" y="295.5" font-size="19" font-weight="bold" fill="#6b3c14" text-anchor="start" stroke="#4a2a0e" stroke-width="0.4" paint-order="stroke">fingertips (motif F)</text><text x="1128.5" y="268" font-size="19" font-weight="bold" fill="#15158c" text-anchor="start" stroke="#0e0e60" stroke-width="0.4" paint-order="stroke">Disordered</text><text x="1128.5" y="291.5" font-size="19" font-weight="bold" fill="#15158c" text-anchor="start" stroke="#0e0e60" stroke-width="0.4" paint-order="stroke">priming loop</text><text x="997.5" y="441.6" font-size="19" font-weight="normal" fill="#231815" text-anchor="middle">Product</text><text x="997.5" y="465" font-size="19" font-weight="normal" fill="#231815" text-anchor="middle">exit tunnel</text><text x="954.2" y="671.2" font-size="23.3" font-weight="bold" fill="#231815" text-anchor="middle">Inactive&#160;&#160;TSWV L</text><path d="M147.6 701 L483 701" stroke="#231815" stroke-width="4" stroke-dasharray="7.8 9.4" transform="translate(636.5 0)"/><path d="M316 711 L316 810.5" stroke="#231815" stroke-width="2"/><path d="M309.7 807.5 L322.3 807.5 L316 830.5 Z" fill="#231815"/><path d="M951 711 L951 810.5" stroke="#231815" stroke-width="2"/><path d="M944.7 807.5 L957.3 807.5 L951 830.5 Z" fill="#231815"/><path d="M419.4 759.7 C405 755 402.6 744 402.6 740.8 C402.6 729 412.6 721.8 424.6 721.8 C436.6 721.8 446.6 729 446.6 740.8 C446.6 750 441 756 429.8 759.7" fill="none" stroke="#231815" stroke-width="1.8"/><path d="M419.4 759.7 L419.4 782.2" stroke="#e8a060" stroke-width="1.6"/><path d="M429.8 759.7 L429.8 782.2" stroke="#e0a0a8" stroke-width="1.6"/><path d="M420 " stroke="#231815" stroke-width="1"/><path d="M420.2 762 L429 762 M420.2 765.2 L429 765.2 M420.2 768.4 L429 768.4 M420.2 771.6 L429 771.6 M420.2 774.8 L429 774.8 M420.2 778 L429 778 M420.2 781.2 L429 781.2 " stroke="#231815" stroke-width="1"/><text x="410" y="800" font-size="17.5" font-weight="normal" fill="#e8a060" text-anchor="start">5&#8217;</text><text x="428.5" y="800" font-size="17.5" font-weight="normal" fill="#e0a0a8" text-anchor="start">3&#8217;</text><text x="350.8" y="819.3" font-size="19.1" font-weight="normal" fill="#231815" text-anchor="start">Viral genomic RNA</text><clipPath id="k2"><path d="M339.6 860.5 L379.3 879.8 L438 913.2 L467.9 937.4 L460.5 965.9 L451.7 978.8 L476.6 988.9 L512 1016.8 L521.5 1047.2 L538.1 1077.4 L534.9 1133.4 L512 1166.6 L493.4 1202.7 L430 1207 L359.8 1202 L302.8 1202 L267.5 1236.4 L250.3 1265.1 L205.3 1253.5 L169.9 1232.5 L158.9 1189.6 L162 1146.8 L162 1107.4 L169.1 1064.7 L179.2 1016.5 L191.5 966 L226.1 918.8 L297 873.6 Z"/></clipPath><g clip-path="url(#k2)"><g class="ow"><path id="p105" d="M479 1148C477 1147 473 1145 472 1143S471 1137 470 1134S468 1128 466 1126S462 1121 461 1118S457 1113 457 1110S459 1104 460 1102S465 1096 465 1094"/></g><use href="#p105" class="iw"/><g class="ow"><path id="p106" d="M266 1088C265 1088 260 1087 257 1087S251 1088 249 1089S243 1092 241 1093S237 1098 234 1099S228 1100 225 1098S221 1094 219 1092S212 1090 210 1089"/></g><use href="#p106" class="iw"/><g transform="translate(492 1074)rotate(71)"><rect class="cw" x="-31" y="-9" width="62" height="17" rx="5.2"/><ellipse class="ew" cx="27" rx="3.8" ry="8.6"/></g><g transform="translate(352 1097)rotate(143)"><rect class="cw" x="-26" y="-9" width="52" height="18" rx="5.5"/><ellipse class="ew" cx="22" rx="4" ry="9.2"/></g><g class="ow"><path id="p107" d="M203 1082C204 1083 205 1088 207 1090S212 1094 215 1095S221 1094 223 1093S229 1091 232 1091S238 1092 241 1094S244 1100 246 1101S251 1105 254 1105S260 1104 262 1102S267 1096 267 1095"/></g><use href="#p107" class="iw"/><g class="ow"><path id="p108" d="M220 992C221 992 226 992 228 993S233 997 236 998S242 997 245 996S251 995 254 995S259 999 262 999S268 998 270 996S274 990 275 988"/></g><use href="#p108" class="iw"/><g transform="translate(261 1130)rotate(114)"><rect class="cw" x="-47" y="-8" width="94" height="16" rx="4.7"/><ellipse class="ew" cx="44" rx="3.4" ry="7.8"/></g><g class="ow"><path id="p109" d="M235 1010C236 1012 238 1016 239 1019S242 1024 243 1026S244 1032 245 1035S247 1041 246 1044S243 1049 241 1052S239 1059 239 1060"/></g><use href="#p109" class="iw"/><g transform="translate(392 1127)rotate(60)"><rect class="cw" x="-31" y="-10" width="61" height="20" rx="6"/><ellipse class="ew" cx="26" rx="4.4" ry="9.9"/></g><g class="ow"><path id="p110" d="M320 1065C319 1065 314 1065 311 1065S306 1062 303 1061S298 1057 297 1054S297 1048 297 1045S295 1039 295 1036S298 1030 299 1028"/></g><use href="#p110" class="iw"/><g class="ow"><path id="p111" d="M356 1126C357 1128 358 1132 359 1135S361 1141 363 1143S369 1145 371 1146S377 1147 380 1148S386 1152 389 1151S394 1149 396 1147S402 1143 403 1141S404 1135 402 1132S397 1128 396 1125S396 1118 396 1116"/></g><use href="#p111" class="iw"/><g class="ow"><path id="p112" d="M371 930C372 931 375 935 377 937S379 943 380 946S380 952 381 955S383 960 384 963S387 968 389 970S393 977 393 978"/></g><use href="#p112" class="iw"/><g transform="translate(336 897)rotate(132)"><rect class="cw" x="-47" y="-9" width="93" height="18" rx="5.3"/><ellipse class="ew" cx="43" rx="3.9" ry="8.9"/></g><g class="ow"><path id="p113" d="M222 1110C222 1108 222 1104 221 1101S217 1095 215 1094S209 1094 206 1094S200 1094 197 1094S190 1094 188 1092S185 1087 182 1086S175 1085 173 1085"/></g><use href="#p113" class="iw"/><g class="ow"><path id="p114" d="M496 1068C497 1069 500 1073 501 1076S504 1081 505 1084S506 1090 507 1093S509 1098 510 1101S512 1108 512 1110"/></g><use href="#p114" class="iw"/><g class="ow"><path id="p115" d="M280 893C281 894 284 898 287 899S293 900 295 901S300 905 303 906S308 908 311 909S317 911 320 913S323 918 325 920S328 925 330 927S337 931 338 931"/></g><use href="#p115" class="iw"/><g class="ow"><path id="p116" d="M326 951C327 950 330 947 332 944S337 939 339 938S345 939 348 939S354 940 357 940S363 938 365 936S366 929 368 927S373 924 376 923S384 924 385 924"/></g><use href="#p116" class="iw"/><g class="ow"><path id="p117" d="M416 1040C417 1041 422 1042 424 1044S429 1048 430 1051S430 1057 432 1060S437 1062 439 1065S441 1071 441 1073S439 1079 437 1081S431 1085 428 1085S421 1082 420 1082"/></g><use href="#p117" class="iw"/><g class="ow"><path id="p118" d="M194 1074C195 1073 198 1069 200 1067S205 1063 207 1061S209 1055 209 1052S207 1046 206 1044S203 1039 200 1037S194 1035 192 1033S190 1028 188 1025S185 1018 185 1017"/></g><use href="#p118" class="iw"/><g transform="translate(298 1099)rotate(96)"><rect class="cw" x="-50" y="-8" width="100" height="17" rx="5"/><ellipse class="ew" cx="46" rx="3.7" ry="8.3"/></g><g transform="translate(290 1158)rotate(148)"><rect class="cw" x="-43" y="-8" width="86" height="15" rx="4.5"/><ellipse class="ew" cx="40" rx="3.3" ry="7.5"/></g><g class="ow"><path id="p119" d="M490 1086C490 1084 489 1079 487 1077S483 1073 482 1070S481 1064 479 1062S474 1059 471 1057S466 1054 463 1053S456 1050 455 1049"/></g><use href="#p119" class="iw"/><g class="ow"><path id="p120" d="M190 1207C190 1206 188 1201 187 1199S182 1195 181 1192S180 1186 179 1183S176 1178 176 1175S179 1169 179 1167S176 1161 176 1158S178 1152 178 1149S176 1144 175 1141S174 1135 174 1132S172 1125 172 1123"/></g><use href="#p120" class="iw"/><g transform="translate(390 898)rotate(56)"><rect class="cw" x="-45" y="-8" width="90" height="17" rx="5.1"/><ellipse class="ew" cx="41" rx="3.7" ry="8.4"/></g><g transform="translate(214 1199)rotate(129)"><rect class="cw" x="-29" y="-9" width="58" height="18" rx="5.3"/><ellipse class="ew" cx="25" rx="3.9" ry="8.9"/></g><g class="ow"><path id="p121" d="M360 981C362 980 366 979 369 979S375 979 378 980S384 982 386 984S391 988 392 991S392 997 394 1000S398 1004 400 1006S407 1010 408 1011"/></g><use href="#p121" class="iw"/><g transform="translate(224 1221)rotate(53)"><rect class="cw" x="-41" y="-9" width="83" height="18" rx="5.4"/><ellipse class="ew" cx="37" rx="3.9" ry="8.9"/></g><g transform="translate(261 1084)rotate(152)"><rect class="cw" x="-43" y="-10" width="86" height="20" rx="6"/><ellipse class="ew" cx="39" rx="4.4" ry="10.1"/></g><g transform="translate(494 1096)rotate(113)"><rect class="cw" x="-47" y="-8" width="94" height="16" rx="4.8"/><ellipse class="ew" cx="44" rx="3.5" ry="8"/></g><g transform="translate(249 1236)rotate(136)"><rect class="cw" x="-42" y="-10" width="85" height="21" rx="6.2"/><ellipse class="ew" cx="38" rx="4.6" ry="10.4"/></g><g transform="translate(249 1119)rotate(68)"><rect class="cw" x="-23" y="-8" width="45" height="16" rx="4.8"/><ellipse class="ew" cx="19" rx="3.5" ry="8.1"/></g><g class="ow"><path id="p122" d="M321 1095C319 1095 315 1097 312 1097S306 1099 303 1099S297 1097 294 1097S288 1098 285 1097S279 1093 278 1092"/></g><use href="#p122" class="iw"/><g class="ow"><path id="p123" d="M393 1177C394 1178 396 1183 399 1184S405 1185 408 1186S413 1189 416 1190S422 1190 425 1188S430 1184 432 1183"/></g><use href="#p123" class="iw"/><g transform="translate(202 1045)rotate(18)"><rect class="cd" x="-34" y="-10" width="68" height="19" rx="5.8"/><ellipse class="ed" cx="30" rx="4.2" ry="9.6"/></g><g class="ow"><path id="p124" d="M241 1089C243 1090 247 1091 250 1092S256 1094 259 1093S263 1089 266 1088S272 1089 275 1089S282 1089 284 1089"/></g><use href="#p124" class="iw"/><g class="ow"><path id="p125" d="M272 1140C274 1140 278 1143 281 1143S286 1141 289 1140S295 1141 298 1141S305 1140 307 1141S312 1145 314 1147S317 1152 318 1155S320 1161 320 1164S319 1170 319 1173S322 1180 322 1182"/></g><use href="#p125" class="iw"/><g transform="translate(379 1196)rotate(95)"><rect class="cw" x="-27" y="-10" width="55" height="21" rx="6.3"/><ellipse class="ew" cx="23" rx="4.6" ry="10.5"/></g><g class="ow"><path id="p126" d="M402 949C402 950 401 955 400 958S396 963 396 966S396 972 397 974S400 980 401 983S404 988 405 991S405 997 404 1000S399 1006 398 1007"/></g><use href="#p126" class="iw"/><g class="ow"><path id="p127" d="M340 1007C339 1006 336 1003 334 1000S331 995 329 993S324 989 322 988S315 987 313 987S307 985 304 984S298 982 296 981S290 977 288 977S281 978 279 977S273 972 272 971"/></g><use href="#p127" class="iw"/><g transform="translate(434 1018)rotate(102)"><rect class="cw" x="-41" y="-10" width="82" height="21" rx="6.2"/><ellipse class="ew" cx="37" rx="4.5" ry="10.3"/></g><g transform="translate(184 1189)rotate(25)"><rect class="cd" x="-40" y="-10" width="80" height="20" rx="5.9"/><ellipse class="ed" cx="35" rx="4.3" ry="9.8"/></g><g transform="translate(209 1139)rotate(17)"><rect class="cw" x="-33" y="-9" width="65" height="17" rx="5.1"/><ellipse class="ew" cx="29" rx="3.7" ry="8.5"/></g><g class="ow"><path id="p128" d="M291 984C290 985 287 988 285 990S281 995 279 997S273 999 271 1001S267 1006 266 1008S261 1013 259 1015S254 1018 252 1021S252 1028 252 1030"/></g><use href="#p128" class="iw"/><g transform="translate(456 1194)rotate(161)"><rect class="cw" x="-25" y="-10" width="50" height="19" rx="5.8"/><ellipse class="ew" cx="21" rx="4.3" ry="9.7"/></g><g class="ow"><path id="p129" d="M365 1191C364 1191 359 1192 356 1191S351 1188 349 1187S342 1187 340 1185S336 1180 334 1178S328 1176 326 1175S320 1172 318 1170S315 1163 314 1162"/></g><use href="#p129" class="iw"/><g class="ow"><path id="p130" d="M233 1127C232 1126 230 1122 229 1119S227 1114 225 1111S221 1107 219 1104S218 1098 218 1095S221 1089 223 1088S231 1088 232 1087"/></g><use href="#p130" class="iw"/><g transform="translate(307 956)rotate(163)"><rect class="cw" x="-43" y="-10" width="85" height="20" rx="6"/><ellipse class="ew" cx="38" rx="4.4" ry="10"/></g><g class="ow"><path id="p131" d="M393 911C392 910 391 905 389 903S383 901 380 901S374 902 372 903S365 904 363 906S360 911 358 914S356 919 355 922S351 927 350 930S351 936 351 939S352 946 352 948"/></g><use href="#p131" class="iw"/><g transform="translate(182 1127)rotate(116)"><rect class="cw" x="-37" y="-8" width="74" height="17" rx="5.1"/><ellipse class="ew" cx="33" rx="3.7" ry="8.5"/></g><g transform="translate(214 1048)rotate(173)"><rect class="cd" x="-40" y="-8" width="80" height="16" rx="4.8"/><ellipse class="ed" cx="37" rx="3.5" ry="7.9"/></g><g transform="translate(475 1191)rotate(112)"><rect class="cw" x="-34" y="-9" width="68" height="17" rx="5.2"/><ellipse class="ew" cx="30" rx="3.8" ry="8.7"/></g><g transform="translate(247 1029)rotate(87)"><rect class="cw" x="-43" y="-10" width="85" height="20" rx="5.9"/><ellipse class="ew" cx="38" rx="4.3" ry="9.8"/></g><g class="ow"><path id="p132" d="M410 1003C412 1002 416 1001 419 999S424 996 427 995S431 991 434 989S439 985 441 984S447 986 450 986S456 987 459 988S465 990 468 991S475 992 476 992"/></g><use href="#p132" class="iw"/><g class="ow"><path id="p133" d="M247 982C247 983 250 987 250 990S251 996 250 999S246 1004 243 1005S238 1008 235 1009S228 1010 226 1011"/></g><use href="#p133" class="iw"/><g transform="translate(308 1039)rotate(13)"><rect class="cw" x="-29" y="-9" width="58" height="19" rx="5.6"/><ellipse class="ew" cx="25" rx="4.1" ry="9.3"/></g><g class="ow"><path id="p134" d="M375 1112C375 1110 375 1105 376 1103S380 1098 382 1097S388 1097 391 1097S398 1099 400 1098S406 1093 407 1092"/></g><use href="#p134" class="iw"/><g class="ow"><path id="p135" d="M484 1019C483 1018 478 1016 476 1014S474 1008 474 1005S476 999 478 997S484 995 487 995S494 996 496 997S501 1003 502 1004"/></g><use href="#p135" class="iw"/><g class="ow"><path id="p136" d="M284 1032C285 1031 287 1027 289 1025S295 1023 297 1021S300 1016 303 1014S308 1011 310 1010S316 1006 319 1006S325 1009 327 1009S334 1007 336 1006"/></g><use href="#p136" class="iw"/><g class="ow"><path id="p137" d="M424 1133C425 1134 429 1137 430 1140S428 1146 429 1149S433 1153 436 1155S442 1157 444 1157S451 1158 453 1157S460 1154 462 1154"/></g><use href="#p137" class="iw"/><g class="ow"><path id="p138" d="M463 1189C461 1190 457 1192 455 1193S449 1195 446 1197S444 1202 442 1205S437 1208 435 1210S432 1217 432 1219"/></g><use href="#p138" class="iw"/><g class="ow"><path id="p139" d="M456 1100C457 1101 459 1105 461 1107S466 1111 469 1112S475 1115 476 1117S479 1123 478 1126S475 1131 473 1133S469 1138 468 1141S468 1148 468 1149"/></g><use href="#p139" class="iw"/><g class="ow"><path id="p140" d="M482 1002C484 1002 488 1000 490 998S492 992 492 989S491 983 491 980S494 974 496 972S503 972 505 970S507 964 508 962S513 956 514 954"/></g><use href="#p140" class="iw"/><g transform="translate(497 1098)rotate(43)"><rect class="cw" x="-37" y="-9" width="74" height="18" rx="5.5"/><ellipse class="ew" cx="33" rx="4" ry="9.1"/></g><g transform="translate(348 973)rotate(55)"><rect class="cw" x="-49" y="-9" width="99" height="19" rx="5.7"/><ellipse class="ew" cx="45" rx="4.2" ry="9.5"/></g><g class="ow"><path id="p141" d="M263 1109C264 1108 268 1105 270 1103S274 1098 276 1097S282 1097 285 1096S291 1092 294 1092S300 1094 302 1096S305 1101 307 1103S313 1108 314 1109"/></g><use href="#p141" class="iw"/><g transform="translate(463 1036)rotate(124)"><rect class="cw" x="-46" y="-8" width="92" height="16" rx="4.7"/><ellipse class="ew" cx="42" rx="3.5" ry="7.9"/></g><g class="ow"><path id="p142" d="M443 1149C444 1150 448 1153 450 1155S455 1160 456 1162S456 1168 456 1171S459 1177 459 1180S460 1186 459 1189S456 1194 454 1196S448 1201 447 1202"/></g><use href="#p142" class="iw"/><g transform="translate(329 936)rotate(120)"><rect class="cw" x="-29" y="-10" width="58" height="21" rx="6.2"/><ellipse class="ew" cx="25" rx="4.5" ry="10.3"/></g><g class="ow"><path id="p143" d="M478 1128C479 1130 481 1134 482 1137S484 1143 486 1144S493 1145 495 1147S497 1153 499 1155S506 1156 508 1158S511 1164 513 1165S520 1166 522 1166"/></g><use href="#p143" class="iw"/><g transform="translate(375 1147)rotate(102)"><rect class="cw" x="-36" y="-9" width="72" height="18" rx="5.3"/><ellipse class="ew" cx="32" rx="3.9" ry="8.8"/></g><g class="ow"><path id="p144" d="M201 1179C200 1180 197 1183 195 1186S194 1192 193 1195S195 1200 195 1203S195 1210 196 1212S200 1217 201 1220S201 1227 201 1229"/></g><use href="#p144" class="iw"/><g class="ow"><path id="p145" d="M362 1017C362 1016 362 1011 362 1008S364 1002 363 1000S358 996 356 993S357 987 355 984S350 980 349 979"/></g><use href="#p145" class="iw"/><g transform="translate(353 879)rotate(58)"><rect class="cw" x="-43" y="-10" width="87" height="20" rx="6.1"/><ellipse class="ew" cx="39" rx="4.5" ry="10.2"/></g><g transform="translate(268 956)rotate(149)"><rect class="cw" x="-21" y="-8" width="42" height="17" rx="5"/><ellipse class="ew" cx="17" rx="3.7" ry="8.4"/></g><g transform="translate(369 928)rotate(96)"><rect class="cw" x="-50" y="-10" width="99" height="19" rx="5.8"/><ellipse class="ew" cx="45" rx="4.3" ry="9.7"/></g><g class="ow"><path id="p146" d="M301 1081C300 1079 298 1075 297 1073S296 1066 295 1064S291 1059 289 1057S284 1053 283 1051S280 1045 280 1042S280 1036 282 1033S286 1029 288 1027S289 1021 290 1018S292 1011 292 1009"/></g><use href="#p146" class="iw"/><g class="ow"><path id="p147" d="M274 979C275 978 279 975 281 972S284 967 284 964S282 958 283 955S288 951 289 948S289 942 288 939S287 932 287 931"/></g><use href="#p147" class="iw"/><g transform="translate(238 1070)rotate(110)"><rect class="cw" x="-30" y="-9" width="60" height="19" rx="5.6"/><ellipse class="ew" cx="26" rx="4.1" ry="9.3"/></g><g class="ow"><path id="p148" d="M221 1043C219 1043 215 1042 213 1040S211 1033 208 1032S202 1029 200 1030S194 1032 192 1034S189 1039 187 1042S183 1046 181 1048S176 1052 174 1054S166 1056 165 1056"/></g><use href="#p148" class="iw"/><g class="ow"><path id="p149" d="M429 968C431 968 434 972 437 972S443 971 446 970S450 967 453 965S459 963 462 962S468 961 470 959S474 955 477 953S483 951 484 948S485 942 486 940S492 935 493 934"/></g><use href="#p149" class="iw"/><g class="ow"><path id="p150" d="M452 955C452 956 450 960 449 963S447 969 446 971S443 976 441 979S436 983 434 985S430 989 428 992S425 998 425 1000"/></g><use href="#p150" class="iw"/><g transform="translate(317 1051)rotate(172)"><rect class="cw" x="-41" y="-10" width="82" height="19" rx="5.8"/><ellipse class="ew" cx="37" rx="4.2" ry="9.6"/></g><g class="ow"><path id="p151" d="M172 1138C170 1137 165 1136 163 1134S162 1128 161 1126S156 1122 154 1120S148 1117 146 1115S143 1109 141 1108S134 1107 132 1106"/></g><use href="#p151" class="iw"/><g class="ow"><path id="p152" d="M341 1189C340 1190 335 1191 333 1194S332 1199 331 1202S328 1208 327 1210S326 1217 324 1219S318 1223 316 1222S309 1219 307 1219"/></g><use href="#p152" class="iw"/><g class="ow"><path id="p153" d="M423 917C424 918 428 919 431 921S434 926 436 928S442 931 445 931S451 931 454 931S460 932 463 931S468 929 471 927S476 923 479 923S485 925 488 926S494 926 497 926S504 924 505 924"/></g><use href="#p153" class="iw"/><g transform="translate(346 1082)rotate(73)"><rect class="cw" x="-38" y="-8" width="77" height="15" rx="4.6"/><ellipse class="ew" cx="35" rx="3.4" ry="7.6"/></g><g transform="translate(359 1059)rotate(125)"><rect class="cw" x="-22" y="-9" width="44" height="17" rx="5.1"/><ellipse class="ew" cx="18" rx="3.8" ry="8.5"/></g><g class="ow"><path id="p154" d="M229 1059C230 1058 232 1053 234 1051S239 1048 242 1048S247 1051 250 1051S256 1051 259 1050S266 1049 268 1047S270 1041 271 1038S273 1033 273 1030S271 1024 271 1021S274 1014 274 1012"/></g><use href="#p154" class="iw"/><g class="ow"><path id="p155" d="M454 1056C453 1056 448 1058 445 1059S439 1060 436 1060S431 1058 428 1057S422 1055 419 1054S413 1053 411 1052S404 1049 403 1048"/></g><use href="#p155" class="iw"/><g class="ow"><path id="p156" d="M344 986C344 985 345 980 345 977S346 971 345 968S340 965 339 962S336 957 335 954S331 949 329 947S322 944 321 943"/></g><use href="#p156" class="iw"/><g transform="translate(512 1056)rotate(71)"><rect class="cd" x="-25" y="-8" width="51" height="17" rx="5"/><ellipse class="ed" cx="22" rx="3.6" ry="8.3"/></g><g class="ow"><path id="p157" d="M511 1136C510 1135 508 1131 506 1129S501 1124 499 1123S492 1124 490 1122S486 1118 484 1116S478 1113 476 1111S473 1106 472 1103S470 1097 471 1094S476 1089 476 1087S476 1081 474 1078S471 1071 470 1070"/></g><use href="#p157" class="iw"/><g class="ow"><path id="p158" d="M300 1166C299 1165 295 1164 292 1163S286 1162 283 1162S277 1165 274 1165S268 1163 266 1162S261 1158 259 1156S253 1155 250 1154S245 1151 242 1149S235 1146 234 1145"/></g><use href="#p158" class="iw"/><g transform="translate(242 1182)rotate(38)"><rect class="cw" x="-35" y="-8" width="71" height="16" rx="4.7"/><ellipse class="ew" cx="32" rx="3.5" ry="7.9"/></g><g transform="translate(180 1068)rotate(93)"><rect class="cw" x="-34" y="-10" width="69" height="19" rx="5.7"/><ellipse class="ew" cx="30" rx="4.2" ry="9.6"/></g><g transform="translate(370 995)rotate(68)"><rect class="cw" x="-29" y="-9" width="59" height="18" rx="5.3"/><ellipse class="ew" cx="26" rx="3.9" ry="8.9"/></g><g class="ow"><path id="p159" d="M376 1164C377 1163 379 1159 381 1156S385 1151 385 1149S384 1143 384 1140S384 1134 383 1131S381 1124 380 1122S373 1119 372 1118"/></g><use href="#p159" class="iw"/><g transform="translate(430 1087)rotate(153)"><rect class="cw" x="-38" y="-8" width="77" height="16" rx="4.8"/><ellipse class="ew" cx="35" rx="3.5" ry="7.9"/></g><g class="ow"><path id="p160" d="M403 1032C402 1031 399 1027 398 1025S396 1018 397 1016S402 1012 403 1009S405 1004 407 1001S410 996 413 994S419 995 422 994S427 990 429 988S435 986 438 986S444 985 447 986S452 992 453 993"/></g><use href="#p160" class="iw"/><g class="ow"><path id="p161" d="M204 1060C204 1062 202 1067 202 1069S206 1074 208 1077S211 1082 213 1084S218 1088 221 1089S227 1088 230 1088S235 1086 238 1085S244 1080 245 1079"/></g><use href="#p161" class="iw"/><g class="ow"><path id="p162" d="M436 970C435 969 431 967 430 964S430 958 429 955S425 950 425 947S424 941 424 938S421 933 421 930S421 924 421 921S421 915 422 912S425 905 426 904"/></g><use href="#p162" class="iw"/><g class="ow"><path id="p163" d="M338 1110C339 1108 341 1104 341 1101S339 1095 340 1092S343 1087 344 1084S344 1078 345 1075S350 1071 352 1070S359 1071 361 1070S366 1066 369 1065S376 1066 378 1066"/></g><use href="#p163" class="iw"/><g class="ow"><path id="p164" d="M450 1031C450 1033 452 1037 451 1040S447 1045 446 1048S446 1054 445 1057S442 1063 440 1064S433 1065 431 1067S427 1072 427 1075S429 1081 430 1083S434 1089 435 1091"/></g><use href="#p164" class="iw"/><g class="ow"><path id="p165" d="M471 1192C469 1192 465 1193 462 1193S456 1190 453 1190S448 1192 445 1192S439 1195 436 1195S430 1197 427 1197S423 1192 420 1191S414 1188 412 1187"/></g><use href="#p165" class="iw"/><g class="ow"><path id="p166" d="M215 963C214 962 211 958 209 957S202 956 200 957S196 961 193 963S189 967 187 969S180 971 179 973S176 979 176 982S179 987 181 990S184 995 185 997S190 1003 191 1005"/></g><use href="#p166" class="iw"/><g class="ow"><path id="p167" d="M298 898C300 898 304 896 307 895S312 893 315 891S320 887 322 885S324 879 326 878S333 878 335 876S340 873 342 870S344 864 344 861S342 854 342 853"/></g><use href="#p167" class="iw"/><g class="ow"><path id="p168" d="M172 1136C173 1137 174 1142 174 1144S171 1150 169 1152S162 1151 160 1153S156 1158 155 1160S151 1166 149 1167S143 1169 140 1170S134 1167 132 1168S127 1172 124 1172S118 1173 115 1172S109 1167 108 1166"/></g><use href="#p168" class="iw"/><g transform="translate(283 1057)rotate(19)"><rect class="cw" x="-44" y="-8" width="88" height="17" rx="5"/><ellipse class="ew" cx="40" rx="3.6" ry="8.3"/></g><g class="ow"><path id="p169" d="M349 899C348 900 345 904 342 905S337 908 334 909S328 911 325 910S320 907 318 904S317 897 316 895"/></g><use href="#p169" class="iw"/><g class="ow"><path id="p170" d="M290 1142C289 1143 286 1146 284 1147S277 1148 275 1149S269 1152 267 1153S262 1157 260 1159S257 1164 255 1166S248 1171 247 1172"/></g><use href="#p170" class="iw"/><g class="ow"><path id="p171" d="M410 1053C410 1054 412 1059 414 1061S418 1066 421 1067S427 1068 430 1068S436 1070 439 1070S445 1067 447 1065S449 1059 449 1057S447 1051 445 1049S438 1046 436 1046"/></g><use href="#p171" class="iw"/><g class="ow"><path id="p172" d="M408 941C406 942 403 944 400 946S395 949 392 950S386 951 384 952S381 958 379 960S375 964 373 967S370 972 368 974S365 979 363 982S361 988 361 991S361 997 360 1000S356 1006 356 1007"/></g><use href="#p172" class="iw"/><g transform="translate(393 1005)rotate(66)"><rect class="cw" x="-28" y="-9" width="55" height="19" rx="5.6"/><ellipse class="ew" cx="23" rx="4.1" ry="9.4"/></g><g transform="translate(424 1159)rotate(37)"><rect class="cw" x="-26" y="-10" width="51" height="20" rx="6"/><ellipse class="ew" cx="21" rx="4.4" ry="10.1"/></g><g transform="translate(446 1099)rotate(115)"><rect class="cw" x="-24" y="-10" width="48" height="21" rx="6.3"/><ellipse class="ew" cx="19" rx="4.6" ry="10.5"/></g><g class="ow"><path id="p173" d="M372 1138C372 1137 370 1132 370 1130S373 1124 373 1121S371 1115 370 1113S367 1108 365 1105S365 1099 363 1096S358 1091 357 1090"/></g><use href="#p173" class="iw"/><g transform="translate(464 994)rotate(169)"><rect class="cw" x="-20" y="-9" width="41" height="19" rx="5.6"/><ellipse class="ew" cx="16" rx="4.1" ry="9.3"/></g><g transform="translate(189 1213)rotate(75)"><rect class="cw" x="-24" y="-10" width="48" height="19" rx="5.7"/><ellipse class="ew" cx="20" rx="4.2" ry="9.6"/></g><g transform="translate(407 1120)rotate(178)"><rect class="cw" x="-32" y="-10" width="64" height="21" rx="6.2"/><ellipse class="ew" cx="27" rx="4.5" ry="10.3"/></g><g class="ow"><path id="p174" d="M247 1177C247 1179 246 1184 245 1186S239 1189 237 1191S234 1196 233 1199S233 1205 232 1208S230 1215 230 1217"/></g><use href="#p174" class="iw"/><g class="ow"><path id="p175" d="M331 1032C329 1031 324 1032 322 1030S316 1027 315 1024S315 1018 313 1016S309 1010 307 1009S299 1009 298 1009"/></g><use href="#p175" class="iw"/><g transform="translate(415 1027)rotate(40)"><rect class="cw" x="-46" y="-9" width="92" height="19" rx="5.7"/><ellipse class="ew" cx="42" rx="4.2" ry="9.4"/></g><g transform="translate(342 985)rotate(104)"><rect class="cw" x="-32" y="-8" width="64" height="16" rx="4.8"/><ellipse class="ew" cx="29" rx="3.5" ry="7.9"/></g><g transform="translate(498 1149)rotate(156)"><rect class="cw" x="-26" y="-8" width="53" height="17" rx="5"/><ellipse class="ew" cx="23" rx="3.7" ry="8.3"/></g><g transform="translate(349 1149)rotate(161)"><rect class="cw" x="-45" y="-9" width="90" height="18" rx="5.5"/><ellipse class="ew" cx="41" rx="4" ry="9.2"/></g><g class="ow"><path id="p176" d="M418 1158C417 1160 415 1164 413 1166S407 1168 405 1169S400 1174 398 1176S393 1179 391 1181S388 1186 387 1189S384 1194 384 1197S383 1204 383 1206S389 1212 390 1213"/></g><use href="#p176" class="iw"/><g class="ow"><path id="p177" d="M508 1126C508 1128 505 1132 505 1135S508 1141 510 1143S516 1143 518 1145S521 1150 523 1153S528 1157 531 1158S538 1157 540 1157"/></g><use href="#p177" class="iw"/><g transform="translate(506 1037)rotate(36)"><rect class="cw" x="-35" y="-10" width="69" height="21" rx="6.3"/><ellipse class="ew" cx="30" rx="4.6" ry="10.5"/></g><g class="ow"><path id="p178" d="M363 1092C362 1092 358 1094 355 1094S349 1092 346 1091S340 1090 337 1090S333 1094 330 1096S325 1100 323 1101S317 1103 314 1104S308 1104 305 1105S299 1108 297 1109"/></g><use href="#p178" class="iw"/><g transform="translate(414 1086)rotate(80)"><rect class="cw" x="-46" y="-10" width="92" height="21" rx="6.3"/><ellipse class="ew" cx="41" rx="4.6" ry="10.5"/></g><g class="ow"><path id="p179" d="M279 1073C280 1074 284 1078 285 1080S284 1086 283 1089S282 1095 281 1098S277 1103 276 1106S274 1112 275 1115S279 1119 281 1121S284 1127 286 1129S292 1130 295 1130S302 1130 304 1131S309 1137 310 1138"/></g><use href="#p179" class="iw"/><g transform="translate(358 1024)rotate(48)"><rect class="cw" x="-31" y="-10" width="62" height="20" rx="5.9"/><ellipse class="ew" cx="27" rx="4.3" ry="9.8"/></g><g class="ow"><path id="p180" d="M278 1207C279 1206 282 1203 284 1200S286 1194 288 1192S293 1188 296 1188S302 1188 305 1188S311 1191 312 1193S314 1201 314 1202"/></g><use href="#p180" class="iw"/><g class="ow"><path id="p181" d="M462 1109C464 1109 468 1106 471 1105S476 1107 479 1107S486 1106 488 1107S493 1111 495 1113S499 1119 500 1121"/></g><use href="#p181" class="iw"/><g transform="translate(399 1187)rotate(130)"><rect class="cd" x="-24" y="-8" width="48" height="17" rx="5.1"/><ellipse class="ed" cx="20" rx="3.7" ry="8.5"/></g><g class="ow"><path id="p182" d="M372 1050C372 1049 372 1044 372 1041S370 1036 369 1033S370 1027 369 1024S368 1018 367 1015S362 1011 361 1008S362 1002 361 999S361 993 359 990S354 987 351 985S344 983 343 983"/></g><use href="#p182" class="iw"/><g class="ow"><path id="p183" d="M261 1170C262 1171 267 1173 270 1173S275 1171 278 1170S283 1167 285 1164S287 1159 288 1156S289 1149 288 1147S286 1141 284 1139S280 1134 277 1133S271 1130 269 1131S264 1134 261 1136S256 1142 255 1143"/></g><use href="#p183" class="iw"/><g transform="translate(486 1161)rotate(151)"><rect class="cw" x="-23" y="-10" width="46" height="21" rx="6.2"/><ellipse class="ew" cx="18" rx="4.6" ry="10.4"/></g><g transform="translate(428 1002)rotate(12)"><rect class="cw" x="-21" y="-8" width="41" height="16" rx="4.8"/><ellipse class="ew" cx="17" rx="3.5" ry="8"/></g><g class="ow"><path id="p184" d="M303 950C303 951 303 956 303 959S305 965 305 968S300 972 299 975S297 981 297 984S297 990 297 993S294 998 293 1001S294 1007 295 1010S299 1015 300 1017S302 1024 302 1026"/></g><use href="#p184" class="iw"/><g transform="translate(238 1006)rotate(64)"><rect class="cw" x="-30" y="-8" width="59" height="16" rx="4.8"/><ellipse class="ew" cx="26" rx="3.5" ry="8.1"/></g><g class="ow"><path id="p185" d="M373 1002C373 1003 375 1007 376 1010S380 1015 381 1017S383 1023 384 1026S389 1029 391 1031S396 1037 397 1038"/></g><use href="#p185" class="iw"/><g class="ow"><path id="p186" d="M276 943C277 942 281 939 283 937S288 933 290 932S296 929 298 927S299 921 301 919S305 915 308 913S314 912 317 911S322 908 325 908S333 907 334 907"/></g><use href="#p186" class="iw"/><g transform="translate(244 987)rotate(108)"><rect class="cw" x="-32" y="-8" width="63" height="16" rx="4.9"/><ellipse class="ew" cx="28" rx="3.6" ry="8.2"/></g><g class="ow"><path id="p187" d="M300 1008C301 1010 303 1014 305 1016S308 1021 309 1024S312 1029 314 1032S319 1036 322 1037S328 1036 330 1035S334 1030 335 1027S336 1021 337 1018S339 1013 340 1010S340 1002 340 1001"/></g><use href="#p187" class="iw"/><g class="ow"><path id="p188" d="M442 1009C442 1007 439 1003 439 1000S438 994 439 991S444 988 446 986S449 980 452 979S458 979 461 977S464 972 466 970S474 971 475 971"/></g><use href="#p188" class="iw"/><g class="ow"><path id="p189" d="M222 1221C224 1221 229 1221 231 1222S236 1227 237 1229S237 1236 238 1238S242 1243 245 1245S251 1246 254 1245S259 1242 261 1240S264 1235 265 1232S266 1225 266 1223"/></g><use href="#p189" class="iw"/><g transform="translate(350 949)rotate(93)"><rect class="cw" x="-21" y="-9" width="42" height="17" rx="5.1"/><ellipse class="ew" cx="17" rx="3.8" ry="8.5"/></g><g transform="translate(340 1188)rotate(77)"><rect class="cw" x="-26" y="-8" width="52" height="15" rx="4.5"/><ellipse class="ew" cx="23" rx="3.3" ry="7.5"/></g><g transform="translate(277 922)rotate(19)"><rect class="cw" x="-49" y="-8" width="98" height="16" rx="4.9"/><ellipse class="ew" cx="45" rx="3.6" ry="8.2"/></g><g transform="translate(405 929)rotate(13)"><rect class="cw" x="-43" y="-10" width="85" height="20" rx="6.1"/><ellipse class="ew" cx="38" rx="4.5" ry="10.1"/></g><g class="ow"><path id="p190" d="M339 905C341 904 345 902 348 901S353 898 356 898S362 900 364 902S367 907 370 909S375 911 378 912S385 913 387 912S393 909 394 907S395 899 395 898"/></g><use href="#p190" class="iw"/><g class="ow"><path id="p191" d="M187 1190C188 1189 192 1186 193 1184S196 1179 197 1176S198 1170 199 1167S203 1162 203 1159S200 1154 200 1151S199 1145 199 1142S198 1134 198 1133"/></g><use href="#p191" class="iw"/><g class="ow"><path id="p192" d="M310 1118C310 1120 310 1125 312 1127S316 1131 318 1134S322 1139 323 1141S322 1147 321 1150S317 1155 317 1158S317 1164 317 1167S315 1173 314 1175S313 1183 312 1184"/></g><use href="#p192" class="iw"/><g transform="translate(242 1222)rotate(113)"><rect class="cd" x="-30" y="-8" width="60" height="17" rx="5.1"/><ellipse class="ed" cx="26" rx="3.7" ry="8.4"/></g><g class="ow"><path id="p193" d="M397 1047C396 1046 392 1044 389 1043S383 1044 380 1043S375 1040 372 1040S366 1041 363 1041S357 1040 354 1041S350 1046 348 1048S346 1055 345 1057"/></g><use href="#p193" class="iw"/><g class="ow"><path id="p194" d="M323 873C324 873 329 872 332 871S338 870 340 868S343 862 345 860S351 859 354 860S360 861 363 862S367 866 370 868S376 871 378 871"/></g><use href="#p194" class="iw"/><g class="ow"><path id="p195" d="M429 1083C429 1082 428 1077 426 1075S420 1072 417 1071S411 1071 408 1072S403 1074 400 1074S394 1074 391 1075S385 1077 383 1079S379 1085 379 1087"/></g><use href="#p195" class="iw"/><g class="ow"><path id="p196" d="M384 984C385 983 388 980 391 979S397 978 400 976S404 972 406 970S411 967 413 965S418 959 418 958"/></g><use href="#p196" class="iw"/><g class="ow"><path id="p197" d="M234 938C234 936 236 932 238 930S243 926 244 923S246 918 247 915S249 909 249 906S247 900 246 897S244 892 242 889S236 885 235 884"/></g><use href="#p197" class="iw"/><g class="ow"><path id="p198" d="M242 1151C243 1151 248 1153 251 1153S257 1153 259 1152S266 1149 268 1150S273 1154 276 1155S282 1155 285 1157S290 1159 292 1161S296 1166 298 1168S304 1171 306 1172S312 1174 315 1174S322 1171 323 1170"/></g><use href="#p198" class="iw"/><g class="ow"><path id="p199" d="M402 989C402 991 399 995 398 998S401 1003 400 1006S398 1012 397 1014S391 1017 390 1020S389 1026 388 1029S385 1034 383 1037S380 1043 380 1045"/></g><use href="#p199" class="iw"/><g class="ow"><path id="p200" d="M399 1094C401 1095 405 1096 408 1097S414 1097 417 1098S423 1100 425 1102S429 1107 431 1108S437 1111 439 1113S442 1120 442 1121"/></g><use href="#p200" class="iw"/><g class="ow"><path id="p201" d="M306 896C305 896 301 893 298 892S292 894 289 895S286 900 284 903S280 907 279 910S274 916 273 917"/></g><use href="#p201" class="iw"/><g class="ow"><path id="p202" d="M232 1042C232 1040 230 1036 231 1033S235 1028 238 1027S243 1028 246 1028S253 1026 255 1027S261 1030 263 1031S268 1035 270 1038S273 1043 273 1046S269 1051 269 1054S271 1060 272 1063S275 1070 275 1071"/></g><use href="#p202" class="iw"/><g class="ow"><path id="p203" d="M217 1247C218 1247 222 1244 224 1243S229 1240 232 1238S238 1236 241 1235S246 1232 249 1232S255 1233 258 1234S264 1237 266 1236S272 1233 275 1232S282 1233 283 1233"/></g><use href="#p203" class="iw"/><g class="ow"><path id="p204" d="M302 1023C302 1024 304 1028 304 1031S305 1037 305 1040S302 1046 301 1049S302 1055 301 1058S298 1064 297 1065"/></g><use href="#p204" class="iw"/><g transform="translate(280 980)rotate(84)"><rect class="cw" x="-43" y="-8" width="87" height="16" rx="4.7"/><ellipse class="ew" cx="40" rx="3.5" ry="7.9"/></g><g class="ow"><path id="p205" d="M255 1225C254 1227 252 1231 250 1233S245 1237 242 1237S236 1235 233 1235S228 1238 225 1239S219 1244 218 1244"/></g><use href="#p205" class="iw"/><g class="ow"><path id="p206" d="M340 1165C338 1166 335 1169 332 1169S326 1169 323 1169S317 1171 314 1172S308 1173 306 1175S302 1180 301 1182S296 1186 295 1189S294 1195 294 1198S298 1202 300 1205S305 1211 306 1212"/></g><use href="#p206" class="iw"/><g class="ow"><path id="p207" d="M502 1104C502 1105 502 1110 501 1112S499 1118 498 1121S497 1127 495 1129S490 1132 487 1133S480 1134 478 1135S473 1139 472 1142S472 1149 472 1151"/></g><use href="#p207" class="iw"/><g class="ow"><path id="p208" d="M474 1065C474 1063 472 1059 473 1056S477 1051 478 1048S476 1042 477 1039S481 1035 484 1033S488 1029 490 1027S495 1021 496 1019"/></g><use href="#p208" class="iw"/><g transform="translate(319 1115)rotate(74)"><rect class="cw" x="-46" y="-10" width="92" height="21" rx="6.2"/><ellipse class="ew" cx="41" rx="4.6" ry="10.4"/></g><g class="ow"><path id="p209" d="M299 1056C299 1057 296 1061 296 1064S298 1070 298 1073S297 1079 297 1082S297 1088 298 1091S301 1097 302 1099"/></g><use href="#p209" class="iw"/><g class="ow"><path id="p210" d="M246 1218C247 1217 252 1215 254 1213S257 1208 260 1206S266 1206 269 1206S275 1207 277 1208S281 1214 283 1215S289 1215 292 1215S299 1215 301 1214S306 1209 307 1207S309 1200 309 1198"/></g><use href="#p210" class="iw"/><g transform="translate(212 1114)rotate(88)"><rect class="cw" x="-48" y="-8" width="95" height="17" rx="5.1"/><ellipse class="ew" cx="44" rx="3.7" ry="8.5"/></g><g class="ow"><path id="p211" d="M259 991C261 991 266 993 268 992S273 987 276 987S282 988 284 989S287 995 289 997S295 999 298 1000S302 1004 305 1005S311 1005 314 1006S320 1009 323 1009S329 1009 332 1007S336 1001 337 1000"/></g><use href="#p211" class="iw"/><g transform="translate(420 959)rotate(60)"><rect class="cw" x="-32" y="-9" width="63" height="19" rx="5.7"/><ellipse class="ew" cx="27" rx="4.2" ry="9.4"/></g><g class="ow"><path id="p212" d="M422 1180C423 1181 425 1186 427 1187S433 1188 436 1189S442 1190 445 1190S451 1192 454 1192S461 1193 463 1193"/></g><use href="#p212" class="iw"/><g class="ow"><path id="p213" d="M199 1137C199 1135 199 1130 198 1128S193 1124 191 1122S184 1121 183 1119S180 1113 179 1111S177 1105 176 1102S174 1095 174 1093"/></g><use href="#p213" class="iw"/></g><g opacity="0.9"><path d="M352 1096C351 1103 346 1126 346 1140S351 1172 352 1178" fill="none" stroke="#c07e00" stroke-width="17" stroke-linecap="round"/><path d="M352 1096C351 1103 346 1126 346 1140S351 1172 352 1178" fill="none" stroke="#f4a900" stroke-width="15.4" stroke-linecap="round"/><path d="M352 1096C351 1103 346 1126 346 1140S351 1172 352 1178" fill="none" stroke="#ffd050" stroke-width="5.4" stroke-linecap="round" transform="translate(-1 -1.5)"/><path d="M392 1088C392 1093 393 1109 394 1120S397 1147 398 1152" fill="none" stroke="#c07e00" stroke-width="13" stroke-linecap="round"/><path d="M392 1088C392 1093 393 1109 394 1120S397 1147 398 1152" fill="none" stroke="#f4a900" stroke-width="11.4" stroke-linecap="round"/><path d="M392 1088C392 1093 393 1109 394 1120S397 1147 398 1152" fill="none" stroke="#ffd050" stroke-width="4.2" stroke-linecap="round" transform="translate(-1 -1.5)"/><path d="M440 1137C440 1141 441 1153 442 1160S444 1175 444 1178" fill="none" stroke="#c07e00" stroke-width="13" stroke-linecap="round"/><path d="M440 1137C440 1141 441 1153 442 1160S444 1175 444 1178" fill="none" stroke="#f4a900" stroke-width="11.4" stroke-linecap="round"/><path d="M440 1137C440 1141 441 1153 442 1160S444 1175 444 1178" fill="none" stroke="#ffd050" stroke-width="4.2" stroke-linecap="round" transform="translate(-1 -1.5)"/><path d="M420 1150C422 1153 428 1167 430 1170" fill="none" stroke="#c07e00" stroke-width="12" stroke-linecap="round"/><path d="M420 1150C422 1153 428 1167 430 1170" fill="none" stroke="#f4a900" stroke-width="10.4" stroke-linecap="round"/><path d="M420 1150C422 1153 428 1167 430 1170" fill="none" stroke="#ffd050" stroke-width="3.8" stroke-linecap="round" transform="translate(-1 -1.5)"/></g><path d="M360 1208 L390 1192 L440 1188 L470 1182 L495 1195 L515 1215 L530 1240 L532 1270 L522 1288 L500 1296 L470 1300 L440 1288 L400 1272 L366 1258 L352 1236 Z" fill="#eeaa10" stroke="none"/><path d="M370 1190C378 1192 403 1196 420 1200S462 1212 470 1215" fill="none" stroke="#c08200" stroke-width="16" stroke-linecap="round" stroke-linejoin="round"/><path d="M370 1190C378 1192 403 1196 420 1200S462 1212 470 1215" fill="none" stroke="#f0a800" stroke-width="14.6" stroke-linecap="round" stroke-linejoin="round"/><path d="M360 1225C368 1227 393 1231 410 1235S445 1244 460 1250S493 1267 500 1270" fill="none" stroke="#c08200" stroke-width="16" stroke-linecap="round" stroke-linejoin="round"/><path d="M360 1225C368 1227 393 1231 410 1235S445 1244 460 1250S493 1267 500 1270" fill="none" stroke="#f0a800" stroke-width="14.6" stroke-linecap="round" stroke-linejoin="round"/><path d="M380 1255C388 1258 415 1268 430 1275S463 1292 470 1295" fill="none" stroke="#c08200" stroke-width="15" stroke-linecap="round" stroke-linejoin="round"/><path d="M380 1255C388 1258 415 1268 430 1275S463 1292 470 1295" fill="none" stroke="#f0a800" stroke-width="13.6" stroke-linecap="round" stroke-linejoin="round"/><path d="M470 1190C475 1195 491 1208 500 1220S521 1253 525 1260" fill="none" stroke="#c08200" stroke-width="15" stroke-linecap="round" stroke-linejoin="round"/><path d="M470 1190C475 1195 491 1208 500 1220S521 1253 525 1260" fill="none" stroke="#f0a800" stroke-width="13.6" stroke-linecap="round" stroke-linejoin="round"/><path d="M350 1290 L420 1300 L470 1310 L488 1340 L500 1375 L470 1390 L430 1398 L390 1392 L360 1370 L348 1330 Z" fill="#f2ae18" opacity="0.3"/><clipPath id="clOL"><path d="M300 1240 L430 1250 L500 1290 L505 1340 L540 1400 L520 1419 L477 1406 L444 1410 L427 1419 L390 1410 L345 1385 L330 1330 Z"/></clipPath><g clip-path="url(#clOL)"><path d="M390 1389C389 1389 386 1392 384 1391S380 1388 378 1387S373 1387 371 1387S366 1386 364 1386S360 1382 358 1382S353 1385 352 1385" fill="none" stroke="#b87800" stroke-width="4.4" stroke-linecap="round" stroke-linejoin="round"/><path d="M390 1389C389 1389 386 1392 384 1391S380 1388 378 1387S373 1387 371 1387S366 1386 364 1386S360 1382 358 1382S353 1385 352 1385" fill="none" stroke="#f2aa10" stroke-width="3" stroke-linecap="round" stroke-linejoin="round"/><path d="M397 1391C397 1392 397 1395 396 1398S396 1403 395 1405S391 1407 390 1409S389 1414 389 1416S389 1421 390 1423S394 1425 396 1427S398 1431 399 1433S400 1438 401 1440S406 1443 407 1444" fill="none" stroke="#b87800" stroke-width="4.4" stroke-linecap="round" stroke-linejoin="round"/><path d="M397 1391C397 1392 397 1395 396 1398S396 1403 395 1405S391 1407 390 1409S389 1414 389 1416S389 1421 390 1423S394 1425 396 1427S398 1431 399 1433S400 1438 401 1440S406 1443 407 1444" fill="none" stroke="#f2aa10" stroke-width="3" stroke-linecap="round" stroke-linejoin="round"/><path d="M382 1274C382 1273 383 1270 385 1268S387 1264 389 1263S393 1260 394 1258S393 1253 393 1251S395 1246 397 1245S401 1242 403 1241S405 1235 405 1234" fill="none" stroke="#b87800" stroke-width="4.4" stroke-linecap="round" stroke-linejoin="round"/><path d="M382 1274C382 1273 383 1270 385 1268S387 1264 389 1263S393 1260 394 1258S393 1253 393 1251S395 1246 397 1245S401 1242 403 1241S405 1235 405 1234" fill="none" stroke="#f2aa10" stroke-width="3" stroke-linecap="round" stroke-linejoin="round"/><path d="M406 1276C406 1277 404 1280 403 1282S399 1284 397 1285S392 1287 391 1288S389 1293 388 1295S388 1300 387 1302S383 1305 382 1307S377 1309 376 1311S377 1316 375 1318S371 1320 370 1322S369 1328 369 1329" fill="none" stroke="#b87800" stroke-width="4.4" stroke-linecap="round" stroke-linejoin="round"/><path d="M406 1276C406 1277 404 1280 403 1282S399 1284 397 1285S392 1287 391 1288S389 1293 388 1295S388 1300 387 1302S383 1305 382 1307S377 1309 376 1311S377 1316 375 1318S371 1320 370 1322S369 1328 369 1329" fill="none" stroke="#f2aa10" stroke-width="3" stroke-linecap="round" stroke-linejoin="round"/><path d="M443 1296C442 1297 442 1301 441 1303S436 1305 436 1307S437 1312 437 1314S432 1317 431 1319S432 1324 432 1326S431 1331 430 1333S428 1337 426 1338S421 1339 419 1340S414 1343 413 1344" fill="none" stroke="#b87800" stroke-width="4.4" stroke-linecap="round" stroke-linejoin="round"/><path d="M443 1296C442 1297 442 1301 441 1303S436 1305 436 1307S437 1312 437 1314S432 1317 431 1319S432 1324 432 1326S431 1331 430 1333S428 1337 426 1338S421 1339 419 1340S414 1343 413 1344" fill="none" stroke="#f2aa10" stroke-width="3" stroke-linecap="round" stroke-linejoin="round"/><path d="M393 1340C392 1339 389 1338 386 1338S382 1337 380 1336S376 1332 374 1332S369 1332 367 1333S362 1335 361 1337S361 1342 360 1344S357 1348 355 1349S350 1349 348 1348S345 1344 344 1342S343 1336 343 1335" fill="none" stroke="#b87800" stroke-width="4.4" stroke-linecap="round" stroke-linejoin="round"/><path d="M393 1340C392 1339 389 1338 386 1338S382 1337 380 1336S376 1332 374 1332S369 1332 367 1333S362 1335 361 1337S361 1342 360 1344S357 1348 355 1349S350 1349 348 1348S345 1344 344 1342S343 1336 343 1335" fill="none" stroke="#f2aa10" stroke-width="3" stroke-linecap="round" stroke-linejoin="round"/><path d="M434 1379C435 1379 438 1379 441 1378S444 1374 446 1373S450 1372 452 1371S456 1368 459 1368S464 1368 465 1369S466 1374 468 1376S473 1377 474 1379S476 1384 477 1385S481 1389 483 1389S488 1389 490 1390S493 1393 495 1394S501 1395 502 1395" fill="none" stroke="#b87800" stroke-width="4.4" stroke-linecap="round" stroke-linejoin="round"/><path d="M434 1379C435 1379 438 1379 441 1378S444 1374 446 1373S450 1372 452 1371S456 1368 459 1368S464 1368 465 1369S466 1374 468 1376S473 1377 474 1379S476 1384 477 1385S481 1389 483 1389S488 1389 490 1390S493 1393 495 1394S501 1395 502 1395" fill="none" stroke="#f2aa10" stroke-width="3" stroke-linecap="round" stroke-linejoin="round"/><path d="M374 1270C374 1271 374 1274 375 1277S377 1281 377 1283S375 1287 373 1289S369 1292 367 1293S362 1294 360 1295S355 1296 354 1297S351 1301 349 1302S344 1302 342 1303S339 1307 338 1309S334 1311 332 1313S330 1317 329 1319S329 1325 329 1326" fill="none" stroke="#b87800" stroke-width="4.4" stroke-linecap="round" stroke-linejoin="round"/><path d="M374 1270C374 1271 374 1274 375 1277S377 1281 377 1283S375 1287 373 1289S369 1292 367 1293S362 1294 360 1295S355 1296 354 1297S351 1301 349 1302S344 1302 342 1303S339 1307 338 1309S334 1311 332 1313S330 1317 329 1319S329 1325 329 1326" fill="none" stroke="#f2aa10" stroke-width="3" stroke-linecap="round" stroke-linejoin="round"/><path d="M429 1291C428 1292 427 1295 425 1297S420 1299 419 1301S419 1305 419 1308S416 1312 416 1314S418 1319 419 1321S423 1324 425 1324S430 1323 432 1322S437 1321 438 1320S439 1315 441 1313S444 1309 445 1308" fill="none" stroke="#b87800" stroke-width="4.4" stroke-linecap="round" stroke-linejoin="round"/><path d="M429 1291C428 1292 427 1295 425 1297S420 1299 419 1301S419 1305 419 1308S416 1312 416 1314S418 1319 419 1321S423 1324 425 1324S430 1323 432 1322S437 1321 438 1320S439 1315 441 1313S444 1309 445 1308" fill="none" stroke="#f2aa10" stroke-width="3" stroke-linecap="round" stroke-linejoin="round"/><path d="M398 1397C398 1396 400 1392 399 1390S397 1386 397 1384S398 1379 398 1377S399 1372 399 1370S396 1366 396 1364S397 1359 398 1357S402 1354 404 1354S409 1355 411 1355S416 1354 418 1354S423 1358 424 1359" fill="none" stroke="#b87800" stroke-width="4.4" stroke-linecap="round" stroke-linejoin="round"/><path d="M398 1397C398 1396 400 1392 399 1390S397 1386 397 1384S398 1379 398 1377S399 1372 399 1370S396 1366 396 1364S397 1359 398 1357S402 1354 404 1354S409 1355 411 1355S416 1354 418 1354S423 1358 424 1359" fill="none" stroke="#f2aa10" stroke-width="3" stroke-linecap="round" stroke-linejoin="round"/><path d="M433 1377C432 1377 430 1374 428 1373S424 1369 423 1367S425 1363 425 1360S422 1356 423 1354S425 1349 427 1348S432 1347 434 1347S438 1349 440 1351S444 1354 445 1356S444 1360 444 1363S445 1368 446 1369S450 1372 452 1372S458 1371 459 1370" fill="none" stroke="#b87800" stroke-width="4.4" stroke-linecap="round" stroke-linejoin="round"/><path d="M433 1377C432 1377 430 1374 428 1373S424 1369 423 1367S425 1363 425 1360S422 1356 423 1354S425 1349 427 1348S432 1347 434 1347S438 1349 440 1351S444 1354 445 1356S444 1360 444 1363S445 1368 446 1369S450 1372 452 1372S458 1371 459 1370" fill="none" stroke="#f2aa10" stroke-width="3" stroke-linecap="round" stroke-linejoin="round"/><path d="M385 1389C384 1388 382 1385 380 1384S375 1384 373 1385S371 1390 370 1392S366 1395 364 1396S360 1398 358 1399S354 1401 351 1401S347 1398 345 1398S340 1397 338 1398S335 1402 333 1402S327 1401 326 1401" fill="none" stroke="#b87800" stroke-width="4.4" stroke-linecap="round" stroke-linejoin="round"/><path d="M385 1389C384 1388 382 1385 380 1384S375 1384 373 1385S371 1390 370 1392S366 1395 364 1396S360 1398 358 1399S354 1401 351 1401S347 1398 345 1398S340 1397 338 1398S335 1402 333 1402S327 1401 326 1401" fill="none" stroke="#f2aa10" stroke-width="3" stroke-linecap="round" stroke-linejoin="round"/><path d="M358 1341C357 1341 353 1341 351 1340S349 1335 348 1333S344 1330 342 1329S337 1328 335 1327S331 1324 330 1323S328 1318 327 1316S322 1316 320 1315S315 1316 313 1315S309 1312 308 1311S303 1307 302 1306" fill="none" stroke="#b87800" stroke-width="4.4" stroke-linecap="round" stroke-linejoin="round"/><path d="M358 1341C357 1341 353 1341 351 1340S349 1335 348 1333S344 1330 342 1329S337 1328 335 1327S331 1324 330 1323S328 1318 327 1316S322 1316 320 1315S315 1316 313 1315S309 1312 308 1311S303 1307 302 1306" fill="none" stroke="#f2aa10" stroke-width="3" stroke-linecap="round" stroke-linejoin="round"/><path d="M489 1344C490 1344 494 1342 495 1341S495 1336 496 1334S500 1330 500 1328S499 1324 499 1322S500 1317 501 1315S505 1311 507 1311S512 1310 514 1311S517 1314 518 1316S521 1321 521 1323S520 1327 519 1330S518 1334 517 1336S514 1341 513 1342" fill="none" stroke="#b87800" stroke-width="4.4" stroke-linecap="round" stroke-linejoin="round"/><path d="M489 1344C490 1344 494 1342 495 1341S495 1336 496 1334S500 1330 500 1328S499 1324 499 1322S500 1317 501 1315S505 1311 507 1311S512 1310 514 1311S517 1314 518 1316S521 1321 521 1323S520 1327 519 1330S518 1334 517 1336S514 1341 513 1342" fill="none" stroke="#f2aa10" stroke-width="3" stroke-linecap="round" stroke-linejoin="round"/><path d="M360 1347C358 1347 355 1347 353 1349S350 1352 349 1354S346 1358 344 1360S342 1364 340 1365S335 1366 333 1368S330 1370 328 1372S324 1375 323 1377S322 1381 321 1384S320 1389 319 1390S314 1392 312 1393S307 1396 306 1396" fill="none" stroke="#b87800" stroke-width="4.4" stroke-linecap="round" stroke-linejoin="round"/><path d="M360 1347C358 1347 355 1347 353 1349S350 1352 349 1354S346 1358 344 1360S342 1364 340 1365S335 1366 333 1368S330 1370 328 1372S324 1375 323 1377S322 1381 321 1384S320 1389 319 1390S314 1392 312 1393S307 1396 306 1396" fill="none" stroke="#f2aa10" stroke-width="3" stroke-linecap="round" stroke-linejoin="round"/><path d="M466 1348C466 1349 466 1353 465 1355S462 1358 460 1360S456 1363 454 1364S450 1365 447 1365S443 1365 440 1365S436 1367 434 1367S429 1364 428 1363" fill="none" stroke="#b87800" stroke-width="4.4" stroke-linecap="round" stroke-linejoin="round"/><path d="M466 1348C466 1349 466 1353 465 1355S462 1358 460 1360S456 1363 454 1364S450 1365 447 1365S443 1365 440 1365S436 1367 434 1367S429 1364 428 1363" fill="none" stroke="#f2aa10" stroke-width="3" stroke-linecap="round" stroke-linejoin="round"/><path d="M424 1339C424 1338 423 1335 422 1333S419 1329 418 1327S413 1325 411 1325S407 1327 404 1327S400 1327 397 1327S394 1324 392 1322S389 1319 387 1317S382 1314 381 1313" fill="none" stroke="#b87800" stroke-width="4.4" stroke-linecap="round" stroke-linejoin="round"/><path d="M424 1339C424 1338 423 1335 422 1333S419 1329 418 1327S413 1325 411 1325S407 1327 404 1327S400 1327 397 1327S394 1324 392 1322S389 1319 387 1317S382 1314 381 1313" fill="none" stroke="#f2aa10" stroke-width="3" stroke-linecap="round" stroke-linejoin="round"/><path d="M401 1299C400 1299 397 1297 395 1297S390 1298 388 1299S384 1302 383 1304S384 1309 385 1311S388 1314 389 1316S394 1320 395 1321" fill="none" stroke="#b87800" stroke-width="4.4" stroke-linecap="round" stroke-linejoin="round"/><path d="M401 1299C400 1299 397 1297 395 1297S390 1298 388 1299S384 1302 383 1304S384 1309 385 1311S388 1314 389 1316S394 1320 395 1321" fill="none" stroke="#f2aa10" stroke-width="3" stroke-linecap="round" stroke-linejoin="round"/><path d="M441 1357C440 1357 436 1356 434 1357S430 1360 429 1362S426 1366 425 1367S420 1368 418 1369S413 1371 411 1372S407 1374 405 1375S401 1378 400 1380S399 1384 399 1386S399 1391 399 1393S399 1398 398 1400S397 1406 396 1407" fill="none" stroke="#b87800" stroke-width="4.4" stroke-linecap="round" stroke-linejoin="round"/><path d="M441 1357C440 1357 436 1356 434 1357S430 1360 429 1362S426 1366 425 1367S420 1368 418 1369S413 1371 411 1372S407 1374 405 1375S401 1378 400 1380S399 1384 399 1386S399 1391 399 1393S399 1398 398 1400S397 1406 396 1407" fill="none" stroke="#f2aa10" stroke-width="3" stroke-linecap="round" stroke-linejoin="round"/><path d="M402 1306C403 1305 407 1304 408 1303S410 1298 409 1296S407 1292 405 1290S400 1289 399 1287S398 1282 398 1280S399 1275 400 1273S401 1268 403 1267S407 1265 409 1264S413 1261 414 1259S415 1253 415 1252" fill="none" stroke="#b87800" stroke-width="4.4" stroke-linecap="round" stroke-linejoin="round"/><path d="M402 1306C403 1305 407 1304 408 1303S410 1298 409 1296S407 1292 405 1290S400 1289 399 1287S398 1282 398 1280S399 1275 400 1273S401 1268 403 1267S407 1265 409 1264S413 1261 414 1259S415 1253 415 1252" fill="none" stroke="#f2aa10" stroke-width="3" stroke-linecap="round" stroke-linejoin="round"/><path d="M427 1402C428 1402 431 1404 434 1405S439 1405 440 1406S444 1410 444 1412S443 1417 442 1419S440 1423 439 1425S434 1426 432 1428S430 1433 430 1434" fill="none" stroke="#b87800" stroke-width="4.4" stroke-linecap="round" stroke-linejoin="round"/><path d="M427 1402C428 1402 431 1404 434 1405S439 1405 440 1406S444 1410 444 1412S443 1417 442 1419S440 1423 439 1425S434 1426 432 1428S430 1433 430 1434" fill="none" stroke="#f2aa10" stroke-width="3" stroke-linecap="round" stroke-linejoin="round"/><path d="M406 1369C405 1369 402 1367 400 1366S396 1363 394 1363S389 1364 387 1364S382 1362 380 1363S377 1367 375 1368S371 1368 368 1368S364 1368 361 1367S357 1366 355 1366S349 1365 348 1365" fill="none" stroke="#b87800" stroke-width="4.4" stroke-linecap="round" stroke-linejoin="round"/><path d="M406 1369C405 1369 402 1367 400 1366S396 1363 394 1363S389 1364 387 1364S382 1362 380 1363S377 1367 375 1368S371 1368 368 1368S364 1368 361 1367S357 1366 355 1366S349 1365 348 1365" fill="none" stroke="#f2aa10" stroke-width="3" stroke-linecap="round" stroke-linejoin="round"/><path d="M478 1337C477 1338 476 1342 477 1344S479 1348 480 1350S483 1354 485 1355S490 1356 491 1357S494 1361 495 1363S496 1368 496 1370S496 1375 495 1377S490 1381 490 1382" fill="none" stroke="#b87800" stroke-width="4.4" stroke-linecap="round" stroke-linejoin="round"/><path d="M478 1337C477 1338 476 1342 477 1344S479 1348 480 1350S483 1354 485 1355S490 1356 491 1357S494 1361 495 1363S496 1368 496 1370S496 1375 495 1377S490 1381 490 1382" fill="none" stroke="#f2aa10" stroke-width="3" stroke-linecap="round" stroke-linejoin="round"/><path d="M379 1348C378 1349 374 1350 373 1352S372 1356 372 1359S370 1363 370 1365S372 1370 374 1371S378 1373 380 1374S384 1376 386 1378S389 1383 389 1384" fill="none" stroke="#b87800" stroke-width="4.4" stroke-linecap="round" stroke-linejoin="round"/><path d="M379 1348C378 1349 374 1350 373 1352S372 1356 372 1359S370 1363 370 1365S372 1370 374 1371S378 1373 380 1374S384 1376 386 1378S389 1383 389 1384" fill="none" stroke="#f2aa10" stroke-width="3" stroke-linecap="round" stroke-linejoin="round"/><path d="M433 1300C432 1299 429 1299 427 1297S423 1294 422 1292S420 1288 418 1287S413 1285 411 1286S407 1288 405 1289S400 1289 398 1291S395 1294 393 1295S388 1296 386 1296S381 1297 379 1297S374 1300 373 1301" fill="none" stroke="#b87800" stroke-width="4.4" stroke-linecap="round" stroke-linejoin="round"/><path d="M433 1300C432 1299 429 1299 427 1297S423 1294 422 1292S420 1288 418 1287S413 1285 411 1286S407 1288 405 1289S400 1289 398 1291S395 1294 393 1295S388 1296 386 1296S381 1297 379 1297S374 1300 373 1301" fill="none" stroke="#f2aa10" stroke-width="3" stroke-linecap="round" stroke-linejoin="round"/><path d="M413 1310C414 1310 416 1306 418 1306S423 1307 425 1307S429 1304 431 1304S436 1306 437 1308S438 1313 440 1315S445 1315 446 1317S450 1320 450 1323S449 1327 448 1329S445 1333 443 1334S438 1336 436 1337S433 1340 430 1341S425 1343 424 1343" fill="none" stroke="#b87800" stroke-width="4.4" stroke-linecap="round" stroke-linejoin="round"/><path d="M413 1310C414 1310 416 1306 418 1306S423 1307 425 1307S429 1304 431 1304S436 1306 437 1308S438 1313 440 1315S445 1315 446 1317S450 1320 450 1323S449 1327 448 1329S445 1333 443 1334S438 1336 436 1337S433 1340 430 1341S425 1343 424 1343" fill="none" stroke="#f2aa10" stroke-width="3" stroke-linecap="round" stroke-linejoin="round"/><path d="M476 1300C475 1301 473 1304 473 1306S474 1311 475 1313S478 1317 479 1319S481 1323 483 1325S486 1329 486 1331S484 1335 483 1337S481 1342 480 1344S479 1350 479 1351" fill="none" stroke="#b87800" stroke-width="4.4" stroke-linecap="round" stroke-linejoin="round"/><path d="M476 1300C475 1301 473 1304 473 1306S474 1311 475 1313S478 1317 479 1319S481 1323 483 1325S486 1329 486 1331S484 1335 483 1337S481 1342 480 1344S479 1350 479 1351" fill="none" stroke="#f2aa10" stroke-width="3" stroke-linecap="round" stroke-linejoin="round"/><path d="M381 1388C380 1389 379 1393 378 1394S373 1395 371 1395S366 1397 364 1397S359 1397 357 1398S352 1399 350 1398S345 1395 344 1394" fill="none" stroke="#b87800" stroke-width="4.4" stroke-linecap="round" stroke-linejoin="round"/><path d="M381 1388C380 1389 379 1393 378 1394S373 1395 371 1395S366 1397 364 1397S359 1397 357 1398S352 1399 350 1398S345 1395 344 1394" fill="none" stroke="#f2aa10" stroke-width="3" stroke-linecap="round" stroke-linejoin="round"/><path d="M423 1401C423 1402 423 1406 424 1408S423 1413 424 1415S428 1418 430 1420S435 1421 436 1423S436 1428 437 1429S441 1432 442 1434S445 1439 444 1441S442 1446 441 1447S436 1448 434 1448S428 1446 427 1446" fill="none" stroke="#b87800" stroke-width="4.4" stroke-linecap="round" stroke-linejoin="round"/><path d="M423 1401C423 1402 423 1406 424 1408S423 1413 424 1415S428 1418 430 1420S435 1421 436 1423S436 1428 437 1429S441 1432 442 1434S445 1439 444 1441S442 1446 441 1447S436 1448 434 1448S428 1446 427 1446" fill="none" stroke="#f2aa10" stroke-width="3" stroke-linecap="round" stroke-linejoin="round"/><path d="M399 1330C400 1331 401 1334 401 1337S401 1341 401 1344S402 1349 400 1351S397 1354 395 1355S390 1356 388 1356S384 1353 382 1352S377 1353 375 1353S371 1349 369 1349S364 1351 363 1352" fill="none" stroke="#b87800" stroke-width="4.4" stroke-linecap="round" stroke-linejoin="round"/><path d="M399 1330C400 1331 401 1334 401 1337S401 1341 401 1344S402 1349 400 1351S397 1354 395 1355S390 1356 388 1356S384 1353 382 1352S377 1353 375 1353S371 1349 369 1349S364 1351 363 1352" fill="none" stroke="#f2aa10" stroke-width="3" stroke-linecap="round" stroke-linejoin="round"/><path d="M474 1384C473 1385 471 1387 469 1388S464 1387 462 1388S459 1392 457 1393S452 1393 450 1392S445 1390 444 1388S442 1383 443 1381S446 1378 447 1376S447 1371 447 1369S448 1363 449 1362S453 1359 455 1358S461 1356 462 1356" fill="none" stroke="#b87800" stroke-width="4.4" stroke-linecap="round" stroke-linejoin="round"/><path d="M474 1384C473 1385 471 1387 469 1388S464 1387 462 1388S459 1392 457 1393S452 1393 450 1392S445 1390 444 1388S442 1383 443 1381S446 1378 447 1376S447 1371 447 1369S448 1363 449 1362S453 1359 455 1358S461 1356 462 1356" fill="none" stroke="#f2aa10" stroke-width="3" stroke-linecap="round" stroke-linejoin="round"/><path d="M402 1279C401 1279 398 1278 396 1277S393 1273 391 1272S387 1271 384 1270S380 1268 378 1269S374 1271 372 1273S370 1277 368 1279S363 1280 362 1282S359 1287 358 1288" fill="none" stroke="#b87800" stroke-width="4.4" stroke-linecap="round" stroke-linejoin="round"/><path d="M402 1279C401 1279 398 1278 396 1277S393 1273 391 1272S387 1271 384 1270S380 1268 378 1269S374 1271 372 1273S370 1277 368 1279S363 1280 362 1282S359 1287 358 1288" fill="none" stroke="#f2aa10" stroke-width="3" stroke-linecap="round" stroke-linejoin="round"/></g><path d="M480 1204C482 1205 491 1212 495 1212S502 1206 505 1206S512 1214 515 1214S521 1207 525 1208S533 1217 537 1218S544 1212 548 1214S560 1228 562 1231" fill="none" stroke="#b87800" stroke-width="4.4" stroke-linecap="round" stroke-linejoin="round"/><path d="M480 1204C482 1205 491 1212 495 1212S502 1206 505 1206S512 1214 515 1214S521 1207 525 1208S533 1217 537 1218S544 1212 548 1214S560 1228 562 1231" fill="none" stroke="#f2aa10" stroke-width="3" stroke-linecap="round" stroke-linejoin="round"/><path d="M530 1290C531 1289 536 1284 538 1284S542 1292 545 1292S553 1284 556 1283S564 1286 565 1286" fill="none" stroke="#b87800" stroke-width="4.4" stroke-linecap="round" stroke-linejoin="round"/><path d="M530 1290C531 1289 536 1284 538 1284S542 1292 545 1292S553 1284 556 1283S564 1286 565 1286" fill="none" stroke="#f2aa10" stroke-width="3" stroke-linecap="round" stroke-linejoin="round"/><path d="M460 1378C462 1379 467 1385 470 1385S477 1378 480 1380S487 1392 490 1395S497 1398 500 1400S507 1405 510 1405S516 1400 520 1402S531 1414 533 1416" fill="none" stroke="#b87800" stroke-width="4.4" stroke-linecap="round" stroke-linejoin="round"/><path d="M460 1378C462 1379 467 1385 470 1385S477 1378 480 1380S487 1392 490 1395S497 1398 500 1400S507 1405 510 1405S516 1400 520 1402S531 1414 533 1416" fill="none" stroke="#f2aa10" stroke-width="3" stroke-linecap="round" stroke-linejoin="round"/><path d="M452 1350C454 1352 459 1358 462 1362S469 1371 470 1376S466 1387 468 1392S476 1401 480 1404S490 1409 492 1410" fill="none" stroke="#b87800" stroke-width="4.4" stroke-linecap="round" stroke-linejoin="round"/><path d="M452 1350C454 1352 459 1358 462 1362S469 1371 470 1376S466 1387 468 1392S476 1401 480 1404S490 1409 492 1410" fill="none" stroke="#f2aa10" stroke-width="3" stroke-linecap="round" stroke-linejoin="round"/><path d="M356 1380C355 1382 349 1390 350 1394S357 1403 362 1404S375 1397 380 1398S387 1405 392 1408S407 1413 410 1414" fill="none" stroke="#b87800" stroke-width="4.4" stroke-linecap="round" stroke-linejoin="round"/><path d="M356 1380C355 1382 349 1390 350 1394S357 1403 362 1404S375 1397 380 1398S387 1405 392 1408S407 1413 410 1414" fill="none" stroke="#f2aa10" stroke-width="3" stroke-linecap="round" stroke-linejoin="round"/><path d="M481 1229C482 1228 485 1226 486 1224S486 1219 485 1217S482 1214 481 1212S482 1207 482 1205S479 1201 478 1199S475 1195 474 1193S472 1189 471 1187S469 1182 468 1180" fill="none" stroke="#b87800" stroke-width="4.4" stroke-linecap="round" stroke-linejoin="round"/><path d="M481 1229C482 1228 485 1226 486 1224S486 1219 485 1217S482 1214 481 1212S482 1207 482 1205S479 1201 478 1199S475 1195 474 1193S472 1189 471 1187S469 1182 468 1180" fill="none" stroke="#f2aa10" stroke-width="3" stroke-linecap="round" stroke-linejoin="round"/><path d="M523 1257C522 1256 520 1252 518 1251S513 1251 512 1249S510 1245 509 1243S507 1238 506 1237S501 1234 499 1234S494 1236 493 1238S491 1243 492 1245S496 1247 497 1249S498 1255 499 1256" fill="none" stroke="#b87800" stroke-width="4.4" stroke-linecap="round" stroke-linejoin="round"/><path d="M523 1257C522 1256 520 1252 518 1251S513 1251 512 1249S510 1245 509 1243S507 1238 506 1237S501 1234 499 1234S494 1236 493 1238S491 1243 492 1245S496 1247 497 1249S498 1255 499 1256" fill="none" stroke="#f2aa10" stroke-width="3" stroke-linecap="round" stroke-linejoin="round"/><path d="M496 1211C497 1212 499 1215 500 1217S500 1222 501 1224S501 1229 502 1231S507 1232 509 1233S511 1238 512 1239S515 1244 517 1245S522 1247 523 1248" fill="none" stroke="#b87800" stroke-width="4.4" stroke-linecap="round" stroke-linejoin="round"/><path d="M496 1211C497 1212 499 1215 500 1217S500 1222 501 1224S501 1229 502 1231S507 1232 509 1233S511 1238 512 1239S515 1244 517 1245S522 1247 523 1248" fill="none" stroke="#f2aa10" stroke-width="3" stroke-linecap="round" stroke-linejoin="round"/><path d="M508 1294C509 1293 511 1291 513 1289S514 1285 515 1283S517 1278 518 1276S522 1273 524 1273S530 1275 531 1276" fill="none" stroke="#b87800" stroke-width="4.4" stroke-linecap="round" stroke-linejoin="round"/><path d="M508 1294C509 1293 511 1291 513 1289S514 1285 515 1283S517 1278 518 1276S522 1273 524 1273S530 1275 531 1276" fill="none" stroke="#f2aa10" stroke-width="3" stroke-linecap="round" stroke-linejoin="round"/><path d="M490 1204C489 1205 485 1205 483 1207S479 1209 478 1211S476 1216 475 1218S471 1220 470 1222S468 1227 467 1229S467 1233 467 1236S465 1240 465 1242S464 1248 464 1249" fill="none" stroke="#b87800" stroke-width="4.4" stroke-linecap="round" stroke-linejoin="round"/><path d="M490 1204C489 1205 485 1205 483 1207S479 1209 478 1211S476 1216 475 1218S471 1220 470 1222S468 1227 467 1229S467 1233 467 1236S465 1240 465 1242S464 1248 464 1249" fill="none" stroke="#f2aa10" stroke-width="3" stroke-linecap="round" stroke-linejoin="round"/><path d="M440 1191C441 1191 445 1191 447 1192S450 1196 452 1197S457 1196 459 1197S463 1199 465 1200S467 1204 469 1206S472 1209 474 1211S479 1213 481 1213" fill="none" stroke="#b87800" stroke-width="4.4" stroke-linecap="round" stroke-linejoin="round"/><path d="M440 1191C441 1191 445 1191 447 1192S450 1196 452 1197S457 1196 459 1197S463 1199 465 1200S467 1204 469 1206S472 1209 474 1211S479 1213 481 1213" fill="none" stroke="#f2aa10" stroke-width="3" stroke-linecap="round" stroke-linejoin="round"/><path d="M472 1292C471 1293 468 1295 466 1295S462 1294 459 1293S455 1292 453 1291S448 1291 446 1291S441 1289 439 1288S438 1282 438 1281" fill="none" stroke="#b87800" stroke-width="4.4" stroke-linecap="round" stroke-linejoin="round"/><path d="M472 1292C471 1293 468 1295 466 1295S462 1294 459 1293S455 1292 453 1291S448 1291 446 1291S441 1289 439 1288S438 1282 438 1281" fill="none" stroke="#f2aa10" stroke-width="3" stroke-linecap="round" stroke-linejoin="round"/><path d="M416 1278C417 1277 419 1274 421 1273S426 1273 428 1272S432 1268 433 1267S437 1264 438 1262S441 1257 441 1255" fill="none" stroke="#b87800" stroke-width="4.4" stroke-linecap="round" stroke-linejoin="round"/><path d="M416 1278C417 1277 419 1274 421 1273S426 1273 428 1272S432 1268 433 1267S437 1264 438 1262S441 1257 441 1255" fill="none" stroke="#f2aa10" stroke-width="3" stroke-linecap="round" stroke-linejoin="round"/><path d="M347 1228C347 1227 348 1223 349 1221S348 1216 348 1214S349 1210 351 1208S354 1204 356 1204S361 1203 363 1203S368 1203 370 1203S375 1202 377 1202S383 1204 384 1204" fill="none" stroke="#b87800" stroke-width="4.4" stroke-linecap="round" stroke-linejoin="round"/><path d="M347 1228C347 1227 348 1223 349 1221S348 1216 348 1214S349 1210 351 1208S354 1204 356 1204S361 1203 363 1203S368 1203 370 1203S375 1202 377 1202S383 1204 384 1204" fill="none" stroke="#f2aa10" stroke-width="3" stroke-linecap="round" stroke-linejoin="round"/><path d="M510 1232C511 1233 513 1236 515 1237S520 1238 522 1237S524 1232 526 1231S531 1230 533 1229S537 1226 538 1224S541 1219 541 1218" fill="none" stroke="#b87800" stroke-width="4.4" stroke-linecap="round" stroke-linejoin="round"/><path d="M510 1232C511 1233 513 1236 515 1237S520 1238 522 1237S524 1232 526 1231S531 1230 533 1229S537 1226 538 1224S541 1219 541 1218" fill="none" stroke="#f2aa10" stroke-width="3" stroke-linecap="round" stroke-linejoin="round"/><path d="M397 1238C397 1239 398 1243 398 1245S399 1250 399 1252S402 1256 402 1258S399 1263 399 1265S402 1269 403 1271S406 1276 407 1276" fill="none" stroke="#b87800" stroke-width="4.4" stroke-linecap="round" stroke-linejoin="round"/><path d="M397 1238C397 1239 398 1243 398 1245S399 1250 399 1252S402 1256 402 1258S399 1263 399 1265S402 1269 403 1271S406 1276 407 1276" fill="none" stroke="#f2aa10" stroke-width="3" stroke-linecap="round" stroke-linejoin="round"/><path d="M425 1284C426 1285 430 1287 432 1287S436 1285 438 1285S443 1284 445 1286S448 1289 449 1291S451 1296 452 1298S455 1303 455 1304" fill="none" stroke="#b87800" stroke-width="4.4" stroke-linecap="round" stroke-linejoin="round"/><path d="M425 1284C426 1285 430 1287 432 1287S436 1285 438 1285S443 1284 445 1286S448 1289 449 1291S451 1296 452 1298S455 1303 455 1304" fill="none" stroke="#f2aa10" stroke-width="3" stroke-linecap="round" stroke-linejoin="round"/><path d="M495 1270C493 1270 490 1272 488 1272S484 1269 482 1268S478 1266 476 1265S472 1262 470 1261S467 1258 465 1256S464 1251 462 1250S457 1248 456 1246S454 1242 452 1240S448 1236 448 1235" fill="none" stroke="#b87800" stroke-width="4.4" stroke-linecap="round" stroke-linejoin="round"/><path d="M495 1270C493 1270 490 1272 488 1272S484 1269 482 1268S478 1266 476 1265S472 1262 470 1261S467 1258 465 1256S464 1251 462 1250S457 1248 456 1246S454 1242 452 1240S448 1236 448 1235" fill="none" stroke="#f2aa10" stroke-width="3" stroke-linecap="round" stroke-linejoin="round"/><path d="M467 1301C467 1300 467 1296 467 1294S466 1289 467 1287S470 1284 472 1282S476 1279 476 1277S476 1272 475 1270S472 1266 471 1264S469 1259 467 1258S462 1257 460 1258S456 1263 455 1263" fill="none" stroke="#b87800" stroke-width="4.4" stroke-linecap="round" stroke-linejoin="round"/><path d="M467 1301C467 1300 467 1296 467 1294S466 1289 467 1287S470 1284 472 1282S476 1279 476 1277S476 1272 475 1270S472 1266 471 1264S469 1259 467 1258S462 1257 460 1258S456 1263 455 1263" fill="none" stroke="#f2aa10" stroke-width="3" stroke-linecap="round" stroke-linejoin="round"/><path d="M453 1198C452 1198 448 1199 446 1198S441 1196 440 1194S439 1190 439 1188S439 1183 438 1181S434 1176 433 1175" fill="none" stroke="#b87800" stroke-width="4.4" stroke-linecap="round" stroke-linejoin="round"/><path d="M453 1198C452 1198 448 1199 446 1198S441 1196 440 1194S439 1190 439 1188S439 1183 438 1181S434 1176 433 1175" fill="none" stroke="#f2aa10" stroke-width="3" stroke-linecap="round" stroke-linejoin="round"/><path d="M358 1240C359 1240 363 1240 365 1241S367 1246 368 1247S372 1250 373 1252S376 1256 376 1259S377 1263 377 1265S376 1270 376 1272S375 1277 375 1279S375 1284 375 1286S373 1292 372 1293" fill="none" stroke="#b87800" stroke-width="4.4" stroke-linecap="round" stroke-linejoin="round"/><path d="M358 1240C359 1240 363 1240 365 1241S367 1246 368 1247S372 1250 373 1252S376 1256 376 1259S377 1263 377 1265S376 1270 376 1272S375 1277 375 1279S375 1284 375 1286S373 1292 372 1293" fill="none" stroke="#f2aa10" stroke-width="3" stroke-linecap="round" stroke-linejoin="round"/><path d="M366 1332C366 1328 367 1317 368 1310S371 1293 372 1290" fill="none" stroke="#c08400" stroke-width="7" stroke-linecap="round" stroke-linejoin="round"/><path d="M366 1332C366 1328 367 1317 368 1310S371 1293 372 1290" fill="none" stroke="#ffc21a" stroke-width="5.6" stroke-linecap="round" stroke-linejoin="round"/><path d="M384 1336C384 1333 385 1323 386 1316S389 1299 390 1296" fill="none" stroke="#c08400" stroke-width="7" stroke-linecap="round" stroke-linejoin="round"/><path d="M384 1336C384 1333 385 1323 386 1316S389 1299 390 1296" fill="none" stroke="#ffc21a" stroke-width="5.6" stroke-linecap="round" stroke-linejoin="round"/><path d="M402 1346C402 1342 404 1330 405 1322S409 1304 410 1300" fill="none" stroke="#c08400" stroke-width="7" stroke-linecap="round" stroke-linejoin="round"/><path d="M402 1346C402 1342 404 1330 405 1322S409 1304 410 1300" fill="none" stroke="#ffc21a" stroke-width="5.6" stroke-linecap="round" stroke-linejoin="round"/><path d="M420 1350C421 1346 422 1334 424 1326S429 1308 430 1304" fill="none" stroke="#c08400" stroke-width="7" stroke-linecap="round" stroke-linejoin="round"/><path d="M420 1350C421 1346 422 1334 424 1326S429 1308 430 1304" fill="none" stroke="#ffc21a" stroke-width="5.6" stroke-linecap="round" stroke-linejoin="round"/><path d="M389 1309C392 1317 403 1341 410 1357S427 1397 430 1405" fill="none" stroke="#c07e00" stroke-width="15" stroke-linecap="round"/><path d="M389 1309C392 1317 403 1341 410 1357S427 1397 430 1405" fill="none" stroke="#f4a900" stroke-width="13.4" stroke-linecap="round"/><path d="M389 1309C392 1317 403 1341 410 1357S427 1397 430 1405" fill="none" stroke="#ffd050" stroke-width="4.8" stroke-linecap="round" transform="translate(-1 -1.5)"/><path d="M322 1292C328 1291 351 1286 357 1285" fill="none" stroke="#c07e00" stroke-width="13" stroke-linecap="round"/><path d="M322 1292C328 1291 351 1286 357 1285" fill="none" stroke="#f4a900" stroke-width="11.4" stroke-linecap="round"/><path d="M322 1292C328 1291 351 1286 357 1285" fill="none" stroke="#ffd050" stroke-width="4.2" stroke-linecap="round" transform="translate(-1 -1.5)"/><path d="M420 1195C423 1200 434 1216 440 1225S452 1246 455 1250" fill="none" stroke="#c07e00" stroke-width="14" stroke-linecap="round"/><path d="M420 1195C423 1200 434 1216 440 1225S452 1246 455 1250" fill="none" stroke="#f4a900" stroke-width="12.4" stroke-linecap="round"/><path d="M420 1195C423 1200 434 1216 440 1225S452 1246 455 1250" fill="none" stroke="#ffd050" stroke-width="4.5" stroke-linecap="round" transform="translate(-1 -1.5)"/><path d="M395 1225C399 1229 412 1242 420 1250S437 1271 440 1275" fill="none" stroke="#c07e00" stroke-width="14" stroke-linecap="round"/><path d="M395 1225C399 1229 412 1242 420 1250S437 1271 440 1275" fill="none" stroke="#f4a900" stroke-width="12.4" stroke-linecap="round"/><path d="M395 1225C399 1229 412 1242 420 1250S437 1271 440 1275" fill="none" stroke="#ffd050" stroke-width="4.5" stroke-linecap="round" transform="translate(-1 -1.5)"/><path d="M345 1233C353 1235 380 1239 395 1244S425 1257 434 1263S446 1278 448 1281" fill="none" stroke="#c07e00" stroke-width="16" stroke-linecap="round"/><path d="M345 1233C353 1235 380 1239 395 1244S425 1257 434 1263S446 1278 448 1281" fill="none" stroke="#f4a900" stroke-width="14.4" stroke-linecap="round"/><path d="M345 1233C353 1235 380 1239 395 1244S425 1257 434 1263S446 1278 448 1281" fill="none" stroke="#ffd050" stroke-width="5.1" stroke-linecap="round" transform="translate(-1 -1.5)"/><path d="M434 1254C438 1258 448 1268 455 1275S472 1293 476 1297" fill="none" stroke="#c07e00" stroke-width="15" stroke-linecap="round"/><path d="M434 1254C438 1258 448 1268 455 1275S472 1293 476 1297" fill="none" stroke="#f4a900" stroke-width="13.4" stroke-linecap="round"/><path d="M434 1254C438 1258 448 1268 455 1275S472 1293 476 1297" fill="none" stroke="#ffd050" stroke-width="4.8" stroke-linecap="round" transform="translate(-1 -1.5)"/><path d="M380 1188C387 1192 406 1201 420 1210S455 1235 462 1240" fill="none" stroke="#c07e00" stroke-width="14" stroke-linecap="round"/><path d="M380 1188C387 1192 406 1201 420 1210S455 1235 462 1240" fill="none" stroke="#f4a900" stroke-width="12.4" stroke-linecap="round"/><path d="M380 1188C387 1192 406 1201 420 1210S455 1235 462 1240" fill="none" stroke="#ffd050" stroke-width="4.5" stroke-linecap="round" transform="translate(-1 -1.5)"/><path d="M363 1208C369 1209 388 1210 400 1212S425 1216 437 1220S464 1235 470 1238" fill="none" stroke="#c07e00" stroke-width="15" stroke-linecap="round"/><path d="M363 1208C369 1209 388 1210 400 1212S425 1216 437 1220S464 1235 470 1238" fill="none" stroke="#f4a900" stroke-width="13.4" stroke-linecap="round"/><path d="M363 1208C369 1209 388 1210 400 1212S425 1216 437 1220S464 1235 470 1238" fill="none" stroke="#ffd050" stroke-width="4.8" stroke-linecap="round" transform="translate(-1 -1.5)"/><path d="M500 1214C502 1218 509 1231 512 1240S519 1265 520 1270" fill="none" stroke="#c07e00" stroke-width="13" stroke-linecap="round"/><path d="M500 1214C502 1218 509 1231 512 1240S519 1265 520 1270" fill="none" stroke="#f4a900" stroke-width="11.4" stroke-linecap="round"/><path d="M500 1214C502 1218 509 1231 512 1240S519 1265 520 1270" fill="none" stroke="#ffd050" stroke-width="4.2" stroke-linecap="round" transform="translate(-1 -1.5)"/><path d="M457 1183C459 1186 466 1194 470 1200S474 1208 480 1217S497 1243 505 1255S526 1284 530 1290" fill="none" stroke="#c07e00" stroke-width="15" stroke-linecap="round"/><path d="M457 1183C459 1186 466 1194 470 1200S474 1208 480 1217S497 1243 505 1255S526 1284 530 1290" fill="none" stroke="#f4a900" stroke-width="13.4" stroke-linecap="round"/><path d="M457 1183C459 1186 466 1194 470 1200S474 1208 480 1217S497 1243 505 1255S526 1284 530 1290" fill="none" stroke="#ffd050" stroke-width="4.8" stroke-linecap="round" transform="translate(-1 -1.5)"/><g transform="translate(370 1331)rotate(76)"><rect class="co" x="-32" y="-6" width="64" height="12" rx="3.6"/><ellipse class="eo" cx="29" rx="2.6" ry="6"/></g><g transform="translate(457 1335)rotate(67)"><rect class="co" x="-34" y="-6" width="67" height="12" rx="3.6"/><ellipse class="eo" cx="31" rx="2.6" ry="6"/></g><g transform="translate(487 1351)rotate(73)"><rect class="co" x="-30" y="-6" width="61" height="11" rx="3.3"/><ellipse class="eo" cx="28" rx="2.4" ry="5.5"/></g><g transform="translate(417 1322)rotate(73)"><rect class="co" x="-24" y="-6" width="47" height="11" rx="3.3"/><ellipse class="eo" cx="21" rx="2.4" ry="5.5"/></g><g transform="translate(476 1241)rotate(38)"><rect class="co" x="-18" y="-6" width="36" height="13" rx="3.9"/><ellipse class="eo" cx="15" rx="2.9" ry="6.5"/></g><g transform="translate(494 1263)rotate(45)"><rect class="co" x="-13" y="-6" width="25" height="12" rx="3.6"/><ellipse class="eo" cx="10" rx="2.6" ry="6"/></g><g transform="translate(476 1295)rotate(28)"><rect class="co" x="-11" y="-6" width="21" height="11" rx="3.3"/><ellipse class="eo" cx="8" rx="2.4" ry="5.5"/></g><g transform="translate(474 1314)rotate(19)"><rect class="co" x="-12" y="-6" width="24" height="11" rx="3.3"/><ellipse class="eo" cx="10" rx="2.4" ry="5.5"/></g><g transform="translate(510 1296)rotate(31)"><rect class="co" x="-12" y="-6" width="23" height="11" rx="3.3"/><ellipse class="eo" cx="9" rx="2.4" ry="5.5"/></g><g transform="translate(489 1275)rotate(32)"><rect class="co" x="-13" y="-6" width="26" height="11" rx="3.3"/><ellipse class="eo" cx="11" rx="2.4" ry="5.5"/></g><path d="M420 1395 L432 1392 L440 1402 L430 1410 Z" fill="#f0b000" stroke="#b07800" stroke-width="0.7"/><path d="M295 1200C296 1198 294 1190 298 1187S313 1184 320 1185S336 1186 340 1190S342 1204 343 1207" fill="none" stroke="#123c0c" stroke-width="4.2" stroke-linecap="round" stroke-linejoin="round"/><path d="M295 1200C296 1198 294 1190 298 1187S313 1184 320 1185S336 1186 340 1190S342 1204 343 1207" fill="none" stroke="#2c7a1e" stroke-width="2.8" stroke-linecap="round" stroke-linejoin="round"/><path d="M222 1290C219 1290 209 1290 205 1292S199 1301 200 1305S206 1314 210 1315S220 1312 222 1312" fill="none" stroke="#123c0c" stroke-width="4.2" stroke-linecap="round" stroke-linejoin="round"/><path d="M222 1290C219 1290 209 1290 205 1292S199 1301 200 1305S206 1314 210 1315S220 1312 222 1312" fill="none" stroke="#2c7a1e" stroke-width="2.8" stroke-linecap="round" stroke-linejoin="round"/><path d="M274 1375C276 1379 280 1394 285 1398S302 1399 305 1396S307 1385 306 1380S301 1368 300 1366" fill="none" stroke="#123c0c" stroke-width="4.2" stroke-linecap="round" stroke-linejoin="round"/><path d="M274 1375C276 1379 280 1394 285 1398S302 1399 305 1396S307 1385 306 1380S301 1368 300 1366" fill="none" stroke="#2c7a1e" stroke-width="2.8" stroke-linecap="round" stroke-linejoin="round"/><path d="M228 1350C229 1352 234 1358 236 1362S241 1373 240 1376S234 1381 232 1380S227 1372 226 1370" fill="none" stroke="#123c0c" stroke-width="4.2" stroke-linecap="round" stroke-linejoin="round"/><path d="M228 1350C229 1352 234 1358 236 1362S241 1373 240 1376S234 1381 232 1380S227 1372 226 1370" fill="none" stroke="#2c7a1e" stroke-width="2.8" stroke-linecap="round" stroke-linejoin="round"/><path d="M226 1272C225 1271 220 1267 218 1268S212 1274 212 1276S219 1281 220 1282" fill="none" stroke="#123c0c" stroke-width="4.2" stroke-linecap="round" stroke-linejoin="round"/><path d="M226 1272C225 1271 220 1267 218 1268S212 1274 212 1276S219 1281 220 1282" fill="none" stroke="#2c7a1e" stroke-width="2.8" stroke-linecap="round" stroke-linejoin="round"/><path d="M300 1210C302 1212 310 1220 315 1220S328 1213 330 1212" fill="none" stroke="#123c0c" stroke-width="4.2" stroke-linecap="round" stroke-linejoin="round"/><path d="M300 1210C302 1212 310 1220 315 1220S328 1213 330 1212" fill="none" stroke="#2c7a1e" stroke-width="2.8" stroke-linecap="round" stroke-linejoin="round"/><path d="M330 1290C331 1289 336 1282 338 1282S344 1289 345 1290" fill="none" stroke="#123c0c" stroke-width="4.2" stroke-linecap="round" stroke-linejoin="round"/><path d="M330 1290C331 1289 336 1282 338 1282S344 1289 345 1290" fill="none" stroke="#2c7a1e" stroke-width="2.8" stroke-linecap="round" stroke-linejoin="round"/><g transform="translate(289 1326)rotate(92)"><rect class="cg" x="-36" y="-7" width="72" height="14" rx="4.2"/><ellipse class="eg" cx="33" rx="3.1" ry="7"/></g><g transform="translate(328 1326)rotate(87)"><rect class="cg" x="-26" y="-6" width="52" height="13" rx="3.9"/><ellipse class="eg" cx="23" rx="2.9" ry="6.5"/></g><g transform="translate(246 1320)rotate(79)"><rect class="cg" x="-20" y="-6" width="41" height="13" rx="3.9"/><ellipse class="eg" cx="18" rx="2.9" ry="6.5"/></g><g transform="translate(266 1272)rotate(13)"><rect class="cg" x="-35" y="-8" width="70" height="15" rx="4.5"/><ellipse class="eg" cx="32" rx="3.3" ry="7.5"/></g><g transform="translate(256 1345)rotate(71)"><rect class="cg" x="-18" y="-7" width="36" height="14" rx="4.2"/><ellipse class="eg" cx="15" rx="3.1" ry="7"/></g><g transform="translate(320 1336)rotate(93)"><rect class="cg" x="-29" y="-7" width="57" height="14" rx="4.2"/><ellipse class="eg" cx="25" rx="3.1" ry="7"/></g><g transform="translate(336 1320)rotate(92)"><rect class="cg" x="-25" y="-7" width="49" height="14" rx="4.2"/><ellipse class="eg" cx="21" rx="3.1" ry="7"/></g><g transform="translate(220 1306)rotate(88)"><rect class="cg" x="-26" y="-6" width="52" height="13" rx="3.9"/><ellipse class="eg" cx="23" rx="2.9" ry="6.5"/></g><g transform="translate(315 1266)rotate(122)"><rect class="cg" x="-57" y="-8" width="114" height="16" rx="4.6"/><ellipse class="eg" cx="54" rx="3.4" ry="7.8"/></g><g transform="translate(304 1299)rotate(91)"><rect class="cg" x="-68" y="-8" width="136" height="15" rx="4.5"/><ellipse class="eg" cx="65" rx="3.3" ry="7.5"/></g><g transform="translate(262 1275)rotate(-59)"><rect class="cg" x="-85" y="-8" width="170" height="16" rx="4.6"/><ellipse class="eg" cx="82" rx="3.4" ry="7.8"/></g><g transform="translate(267 1322)rotate(89)"><rect class="cg" x="-74" y="-8" width="148" height="16" rx="4.8"/><ellipse class="eg" cx="70" rx="3.5" ry="8"/></g><g fill="none" stroke-linecap="round" stroke-linejoin="round"><path d="M239 928 L233 898 M257 924 L254 902 M270 918 L268 900 M319 900 L345 895 M322 912 L348 909 M323 935 L349 944 M330 970 L345 985 M335 999 L348 1006" stroke="#dd9a98" stroke-width="4.8"/><path d="M235 928.3 C248 927 265 921 279.4 912.9 C290 906 300 898 303.6 895.2 C312 889 318 884 321.3 884.2 C328 884 333 885 334.6 886.4 C342 892 347 898 347.8 904 C352 915 353 922 352.2 928.3 C352 938 351 945 350 950.4 C349 960 347 967 345.6 972.5 C342 982 338 987 334.6 990.1 C330 992 325 992 321.3 992.3" stroke="#e3a3a0" stroke-width="6.5"/><path d="M251 864 L256 894 M264 861 L268 892 M278 863 L290 888 M293 915 L316 912 M292 929 L318 927 M291 946 L318 939 M292 958 L318 958" stroke="#ee9e40" stroke-width="4.8"/><path d="M229.7 873 C236 869 244 864 250.7 862 C258 859 265 858 272.7 858.8 C282 861 289 867 292.6 873 C298 880 302 886 301.4 890.8 C300 898 297 905 294.8 910.7 C292 918 290 923 289.3 928.3 C289 935 290 941 290.4 946 C291 952 292 957 292.6 961.4" stroke="#f0a040" stroke-width="6.5"/><path d="M203 978 C222 960 242 940 264 928" stroke="#1cb8c8" stroke-width="14"/><path d="M203 976 C222 958 242 938 264 926" stroke="#34e0f0" stroke-width="9"/><path d="M262 928 C270 924 278 924 282 928 M300 942 L312 946" stroke="#2ad8e8" stroke-width="3.5"/><path d="M200 980 L208 984" stroke="#2ad8e8" stroke-width="3"/><g opacity="0.5"><path d="M226 990 C236 985 250 982 262 988 M232 1000 C244 1006 258 1004 270 996 M238 1012 L262 1010" stroke="#38d838" stroke-width="4"/><path d="M224 998 C230 993 240 993 246 998" stroke="#30c8c8" stroke-width="4"/></g><path d="M292 964 C305 968 312 980 310 992 C308 1006 296 1014 284 1014 C272 1013 264 1004 265 993 C266 983 274 974 284 971 M282 972 L296 986 M270 996 L300 998" stroke="#22cc22" stroke-width="4.5"/><path d="M392 912 C384 906 378 898 380 890 C382 882 390 878 396 880 C402 882 404 890 400 896 C396 902 390 900 390 894 M388 912 C384 925 380 935 382 945 C384 958 378 968 372 978 C366 990 364 1000 360 1010 C358 1014 356 1016 358 1018 M392 912 C400 916 410 920 420 924 M400 914 C404 930 410 940 408 950 C406 960 396 968 392 980 C388 990 380 996 374 1000 M376 940 C384 936 394 940 392 948 C388 956 378 952 380 944 M366 942 L378 942 M404 932 C410 936 418 946 426 950 C432 952 436 944 434 936" stroke="#d81ed8" stroke-width="4.2"/></g><rect x="420" y="914" width="16" height="17" rx="5" fill="#d81ed8"/><path d="M283 1058 L287 1049 L292 1058 L296 1052 L300 1062 L304 1054 L309 1066 M288 1056 L286 1072" fill="none" stroke="#7a4a18" stroke-width="3.8" stroke-linejoin="round" stroke-linecap="round"/><path d="M382.8 1079 C380 1090 378 1100 379.5 1105 C384 1110 390 1112 395.7 1111.6 C405 1111 414 1110 421.6 1108 C426 1104 424 1096 418 1094" fill="none" stroke="#8c8ce8" stroke-width="3" opacity="0.85"/><path d="M395.7 1063 C398 1058 402 1054 405.4 1055 C410 1058 412 1064 415 1066 C420 1069 426 1070 428 1073 C432 1078 434 1082 434.5 1085.7 M395.7 1063 C392 1068 388 1072 383 1074 M376 1118 C380 1112 386 1108 392 1106 M386 1104 L380 1096" fill="none" stroke="#1a1aa8" stroke-width="3" stroke-linecap="round"/><circle cx="294.4" cy="1042.3" r="34.2" fill="none" stroke="#5b86d4" stroke-width="1.6"/><circle cx="299.2" cy="1074.9" r="34" fill="none" stroke="#c8203a" stroke-width="2"/><text x="230.2" y="850.7" font-size="18.6" font-weight="bold" fill="#e39a48" text-anchor="start" stroke="#a0601c" stroke-width="0.5" paint-order="stroke">5&#8217; RNA</text><text x="300.3" y="864.6" font-size="18.6" font-weight="bold" fill="#dd9a9a" text-anchor="start" stroke="#a06060" stroke-width="0.5" paint-order="stroke">3&#8217; RNA</text><text x="124.4" y="948" font-size="19" font-weight="bold" fill="#2bb8c0" text-anchor="start" stroke="#1a7f86" stroke-width="0.6" paint-order="stroke">Ordered arch</text><text x="97.2" y="1022.4" font-size="19" font-weight="bold" fill="#2fbf2f" text-anchor="start" stroke="#1a8a1a" stroke-width="0.5" paint-order="stroke">5&#8217; &#8220;hook&#8221;</text><text x="9.6" y="1067.8" font-size="19.2" font-weight="bold" fill="#6b3c14" text-anchor="start" stroke="#4a2a0e" stroke-width="0.4" paint-order="stroke">Ordered fingertips (motif F)</text><text x="445.8" y="976.8" font-size="19.3" font-weight="bold" fill="#c21fc2" text-anchor="start" stroke="#8a1a8a" stroke-width="0.6" paint-order="stroke">Ordered clamp</text><text x="491.8" y="1073.8" font-size="19" font-weight="bold" fill="#15158c" text-anchor="start" stroke="#0e0e60" stroke-width="0.4" paint-order="stroke">Ordered</text><text x="492.3" y="1095.9" font-size="19" font-weight="bold" fill="#15158c" text-anchor="start" stroke="#0e0e60" stroke-width="0.4" paint-order="stroke">priming loop</text><text x="492.5" y="1341" font-size="19" font-weight="bold" fill="#e0a838" text-anchor="start" stroke="#8a6010" stroke-width="0.6" paint-order="stroke">Ordered CTD</text><text x="171.5" y="1386" font-size="19" font-weight="bold" fill="#3a7a2a" text-anchor="middle" stroke="#2a5a1a" stroke-width="0.5" paint-order="stroke">Ordered</text><text x="172" y="1408.8" font-size="19" font-weight="bold" fill="#3a7a2a" text-anchor="middle" stroke="#2a5a1a" stroke-width="0.5" paint-order="stroke">endonuclease</text><text x="317.2" y="1462.8" font-size="23.4" font-weight="bold" fill="#231815" text-anchor="middle">Activated&#160;&#160;TSWV L</text><text x="30.8" y="738.4" font-size="19.1" font-weight="bold" fill="#4f86d6" text-anchor="start">Step 1: Recognition</text><text x="98.5" y="1133.4" font-size="19.1" font-weight="bold" fill="#d0202e" text-anchor="middle">Step 2: Enzyme</text><text x="99" y="1155.4" font-size="19.1" font-weight="bold" fill="#d0202e" text-anchor="middle">active center</text><text x="98.8" y="1178" font-size="19" font-weight="bold" fill="#d0202e" text-anchor="middle">formation</text><g><path d="M1073.9 730.1 L1073.5 734.2" stroke="#e02020" stroke-width="3"/><path d="M1073.5 734.2 L1073 738.3" stroke="#70c070" stroke-width="3"/><path d="M1073 738.3 L1077.7 740.2" stroke="#70c070" stroke-width="3"/><path d="M1077.7 740.2 L1082.4 742.1" stroke="#2850e8" stroke-width="3"/><path d="M1073 738.3 L1067.5 741.5" stroke="#70c070" stroke-width="3"/><path d="M1067.5 741.5 L1061.9 744.6" stroke="#70c070" stroke-width="3"/><path d="M1061.9 744.6 L1057.2 743.4" stroke="#70c070" stroke-width="3"/><path d="M1057.2 743.4 L1052.4 742.1" stroke="#2850e8" stroke-width="3"/><path d="M1052.4 742.1 L1048.5 746" stroke="#2850e8" stroke-width="3"/><path d="M1048.5 746 L1044.5 750" stroke="#70c070" stroke-width="3"/><path d="M1044.5 750 L1046.1 754" stroke="#70c070" stroke-width="3"/><path d="M1046.1 754 L1047.7 757.9" stroke="#2850e8" stroke-width="3"/><path d="M1061.9 744.6 L1059.6 748.9" stroke="#70c070" stroke-width="3"/><path d="M1059.6 748.9 L1057.2 753.1" stroke="#2850e8" stroke-width="3"/><path d="M1057.2 753.1 L1052.5 755.5" stroke="#2850e8" stroke-width="3"/><path d="M1052.5 755.5 L1047.7 757.9" stroke="#2850e8" stroke-width="3"/><path d="M1047.7 757.9 L1043.8 762.3" stroke="#2850e8" stroke-width="3"/><path d="M1043.8 762.3 L1039.8 766.7" stroke="#70c070" stroke-width="3"/><path d="M1039.8 766.7 L1035.8 764.2" stroke="#70c070" stroke-width="3"/><path d="M1035.8 764.2 L1031.9 761.6" stroke="#e02020" stroke-width="3"/><path d="M1031.9 761.6 L1026.4 764.2" stroke="#e02020" stroke-width="3"/><path d="M1026.4 764.2 L1020.9 766.7" stroke="#70c070" stroke-width="3"/><path d="M1020.9 766.7 L1017.8 763" stroke="#70c070" stroke-width="3"/><path d="M1017.8 763 L1014.6 759.4" stroke="#70c070" stroke-width="3"/><path d="M1014.6 759.4 L1015.9 754.7" stroke="#70c070" stroke-width="3"/><path d="M1015.9 754.7 L1017.1 750" stroke="#e87878" stroke-width="3"/><path d="M1020.9 766.7 L1021.7 771" stroke="#70c070" stroke-width="3"/><path d="M1021.7 771 L1022.5 775.2" stroke="#70c070" stroke-width="3"/><path d="M1022.5 775.2 L1017 777.5" stroke="#70c070" stroke-width="3"/><path d="M1017 777.5 L1011.4 779.9" stroke="#e02020" stroke-width="3"/><path d="M1022.5 775.2 L1028 776" stroke="#70c070" stroke-width="3"/><path d="M1028 776 L1033.5 776.8" stroke="#70c070" stroke-width="3"/><path d="M1033.5 776.8 L1036.7 771.8" stroke="#70c070" stroke-width="3"/><path d="M1036.7 771.8 L1039.8 766.7" stroke="#70c070" stroke-width="3"/><path d="M1033.5 776.8 L1034.3 781.8" stroke="#70c070" stroke-width="3"/><path d="M1034.3 781.8 L1035.1 786.9" stroke="#e02020" stroke-width="3"/><circle cx="1073.9" cy="730.1" r="4.2" fill="#e02020"/><circle cx="1073" cy="738.3" r="4.4" fill="#70c070"/><circle cx="1082.4" cy="742.1" r="4.2" fill="#2850e8"/><circle cx="1061.9" cy="744.6" r="4.4" fill="#70c070"/><circle cx="1052.4" cy="742.1" r="4.2" fill="#2850e8"/><circle cx="1044.5" cy="750" r="4.4" fill="#70c070"/><circle cx="1057.2" cy="753.1" r="4.2" fill="#2850e8"/><circle cx="1047.7" cy="757.9" r="4.2" fill="#2850e8"/><circle cx="1039.8" cy="766.7" r="4.4" fill="#70c070"/><circle cx="1031.9" cy="761.6" r="4.2" fill="#e02020"/><circle cx="1020.9" cy="766.7" r="4.4" fill="#70c070"/><circle cx="1014.6" cy="759.4" r="4.4" fill="#70c070"/><circle cx="1017.1" cy="750" r="4.2" fill="#e87878"/><circle cx="1022.5" cy="775.2" r="4.4" fill="#70c070"/><circle cx="1011.4" cy="779.9" r="4.2" fill="#e02020"/><circle cx="1033.5" cy="776.8" r="4.4" fill="#70c070"/><circle cx="1035.1" cy="786.9" r="4.2" fill="#e02020"/></g><text x="1012" y="819.4" font-size="19" font-weight="normal" fill="#231815" text-anchor="start">Ribavirin</text><text x="651.7" y="748.4" font-size="19" font-weight="bold" fill="#231815" text-anchor="start">Target 1: 5&#8217; hook-binding</text><text x="763" y="770.7" font-size="19" font-weight="bold" fill="#231815" text-anchor="middle">pocket&#160;&#160;entry tunnel</text><clipPath id="k3"><path d="M874.7 828.7 L899.8 824.9 L940.7 829 L976.7 833.2 L1007 845.3 L1007 881.1 L997.3 910.2 L1005.7 939.5 L1032.7 948.2 L1073.4 955.1 L1108.9 963.3 L1152.9 978.6 L1182.8 995.8 L1185 1039.9 L1182.9 1103.7 L1137.1 1136.4 L1086.6 1151.5 L1037.7 1176 L1001 1203.5 L1001 1213.2 L989.6 1245 L956.4 1261.6 L917.3 1271.4 L890.6 1295 L865.6 1286.2 L819.5 1250.3 L792.3 1225.3 L782 1120.3 L783 1039.7 L787.2 981.4 L816.3 959 L844.5 944.9 L863.1 898.5 L865.1 858.7 Z"/></clipPath><g clip-path="url(#k3)"><g class="ow"><path id="p214" d="M929 923C931 924 936 923 938 925S943 929 945 931S949 936 951 937S957 939 960 940S966 942 969 942S973 937 975 936S982 934 984 935S989 938 992 940S997 943 1000 944S1007 946 1008 947"/></g><use href="#p214" class="iw"/><g transform="translate(983 946)rotate(82)"><rect class="cw" x="-45" y="-8" width="90" height="16" rx="4.8"/><ellipse class="ew" cx="41" rx="3.5" ry="8"/></g><g class="ow"><path id="p215" d="M1015 968C1015 967 1016 962 1016 959S1015 953 1015 950S1016 944 1017 942S1021 937 1022 935S1025 929 1026 926S1029 921 1030 918S1032 912 1034 910S1041 907 1042 907"/></g><use href="#p215" class="iw"/><g transform="translate(913 1065)rotate(118)"><rect class="cw" x="-48" y="-10" width="95" height="19" rx="5.8"/><ellipse class="ew" cx="43" rx="4.2" ry="9.6"/></g><g transform="translate(942 1101)rotate(88)"><rect class="cw" x="-25" y="-9" width="49" height="19" rx="5.6"/><ellipse class="ew" cx="20" rx="4.1" ry="9.4"/></g><g transform="translate(881 919)rotate(78)"><rect class="cw" x="-29" y="-8" width="57" height="17" rx="5"/><ellipse class="ew" cx="25" rx="3.7" ry="8.4"/></g><g transform="translate(915 1034)rotate(98)"><rect class="cw" x="-50" y="-9" width="100" height="18" rx="5.3"/><ellipse class="ew" cx="46" rx="3.9" ry="8.9"/></g><g class="ow"><path id="p216" d="M896 1024C894 1024 890 1025 887 1026S881 1026 878 1027S874 1032 873 1034S870 1040 869 1042S866 1048 864 1050S858 1050 855 1051S849 1053 846 1054S841 1058 839 1059S833 1064 832 1065"/></g><use href="#p216" class="iw"/><g class="ow"><path id="p217" d="M985 933C984 932 979 931 976 931S970 931 967 931S961 930 958 931S954 936 952 938S948 942 946 945S944 952 943 953"/></g><use href="#p217" class="iw"/><g transform="translate(892 1131)rotate(3)"><rect class="cw" x="-36" y="-8" width="73" height="17" rx="5"/><ellipse class="ew" cx="33" rx="3.7" ry="8.4"/></g><g class="ow"><path id="p218" d="M1029 1001C1028 1002 1023 1003 1021 1005S1018 1010 1017 1013S1015 1019 1014 1022S1010 1026 1008 1029S1006 1034 1005 1037S1000 1041 999 1044S996 1050 995 1052"/></g><use href="#p218" class="iw"/><g transform="translate(946 842)rotate(61)"><rect class="cw" x="-41" y="-9" width="82" height="18" rx="5.4"/><ellipse class="ew" cx="37" rx="3.9" ry="8.9"/></g><g transform="translate(872 1117)rotate(92)"><rect class="cw" x="-27" y="-8" width="53" height="15" rx="4.5"/><ellipse class="ew" cx="23" rx="3.3" ry="7.5"/></g><g class="ow"><path id="p219" d="M924 859C925 860 928 865 930 866S937 864 939 865S943 871 946 872S952 871 955 871S961 870 964 869S969 865 972 865S978 868 980 867S986 865 989 864S995 863 998 862S1003 857 1004 856"/></g><use href="#p219" class="iw"/><g transform="translate(933 938)rotate(100)"><rect class="cw" x="-38" y="-8" width="76" height="16" rx="4.7"/><ellipse class="ew" cx="35" rx="3.5" ry="7.9"/></g><g transform="translate(1133 1030)rotate(84)"><rect class="cw" x="-35" y="-10" width="69" height="21" rx="6.2"/><ellipse class="ew" cx="30" rx="4.6" ry="10.4"/></g><g transform="translate(1112 984)rotate(120)"><rect class="cw" x="-43" y="-9" width="85" height="17" rx="5.1"/><ellipse class="ew" cx="39" rx="3.7" ry="8.5"/></g><g class="ow"><path id="p220" d="M955 1247C956 1246 959 1242 961 1241S966 1238 969 1237S975 1236 978 1234S982 1230 983 1227S983 1221 984 1218S987 1213 990 1211S996 1207 997 1206"/></g><use href="#p220" class="iw"/><g transform="translate(878 1055)rotate(130)"><rect class="cw" x="-28" y="-10" width="57" height="19" rx="5.8"/><ellipse class="ew" cx="24" rx="4.2" ry="9.6"/></g><g transform="translate(860 1237)rotate(71)"><rect class="cw" x="-44" y="-8" width="89" height="16" rx="4.7"/><ellipse class="ew" cx="41" rx="3.5" ry="7.9"/></g><g class="ow"><path id="p221" d="M838 1097C837 1098 833 1101 831 1103S827 1108 825 1110S821 1115 819 1117S813 1119 811 1120S805 1123 802 1124S797 1126 794 1128S789 1133 788 1135"/></g><use href="#p221" class="iw"/><g class="ow"><path id="p222" d="M1101 1038C1101 1040 1100 1044 1100 1047S1103 1053 1104 1056S1105 1062 1107 1064S1112 1067 1114 1069S1118 1074 1120 1077S1125 1080 1126 1083S1129 1088 1129 1091S1127 1097 1127 1100S1127 1107 1129 1109S1134 1114 1135 1115"/></g><use href="#p222" class="iw"/><g class="ow"><path id="p223" d="M809 1214C809 1215 809 1220 808 1222S805 1228 803 1230S799 1235 798 1238S797 1244 796 1246S791 1250 789 1252S786 1257 784 1259S780 1265 778 1266S772 1267 769 1267S762 1269 760 1269"/></g><use href="#p223" class="iw"/><g class="ow"><path id="p224" d="M963 1025C962 1025 957 1025 954 1024S948 1023 945 1022S939 1022 937 1021S931 1018 928 1018S923 1020 920 1021S913 1022 911 1021S906 1017 903 1016S897 1018 894 1018S890 1014 887 1012S880 1009 879 1008"/></g><use href="#p224" class="iw"/><g transform="translate(891 883)rotate(98)"><rect class="cw" x="-50" y="-10" width="99" height="20" rx="6.1"/><ellipse class="ew" cx="45" rx="4.5" ry="10.2"/></g><g class="ow"><path id="p225" d="M932 1046C931 1047 926 1049 925 1052S926 1058 925 1061S925 1067 925 1070S924 1076 923 1079S920 1084 919 1086S916 1092 915 1095S913 1100 911 1103S908 1110 908 1111"/></g><use href="#p225" class="iw"/><g transform="translate(1146 1099)rotate(121)"><rect class="cw" x="-41" y="-9" width="82" height="17" rx="5.1"/><ellipse class="ew" cx="37" rx="3.8" ry="8.6"/></g><g transform="translate(969 915)rotate(52)"><rect class="cw" x="-43" y="-10" width="85" height="20" rx="5.9"/><ellipse class="ew" cx="38" rx="4.3" ry="9.8"/></g><g class="ow"><path id="p226" d="M863 1124C864 1123 867 1119 868 1116S870 1110 869 1107S864 1102 864 1100S865 1094 866 1091S871 1086 871 1084S870 1077 870 1075S874 1070 876 1067S881 1063 883 1062"/></g><use href="#p226" class="iw"/><g class="ow"><path id="p227" d="M1006 1082C1004 1082 1000 1081 997 1080S992 1076 991 1073S989 1068 988 1065S988 1059 988 1056S991 1050 992 1047S993 1040 993 1039"/></g><use href="#p227" class="iw"/><g transform="translate(974 920)rotate(38)"><rect class="cw" x="-49" y="-9" width="97" height="18" rx="5.5"/><ellipse class="ew" cx="45" rx="4" ry="9.1"/></g><g class="ow"><path id="p228" d="M1048 978C1050 979 1053 981 1056 982S1062 985 1064 986S1070 988 1073 989S1077 993 1079 996S1082 1001 1083 1004S1084 1010 1084 1013S1085 1019 1084 1022S1079 1025 1077 1027S1076 1033 1074 1036S1071 1042 1070 1043"/></g><use href="#p228" class="iw"/><g class="ow"><path id="p229" d="M915 1218C916 1217 921 1215 922 1212S923 1206 924 1203S924 1197 925 1194S930 1190 931 1188S934 1182 935 1179S934 1173 934 1170S937 1164 938 1162"/></g><use href="#p229" class="iw"/><g class="ow"><path id="p230" d="M894 965C895 964 898 960 900 959S907 958 909 957S914 954 917 953S922 949 925 949S931 951 934 950S939 946 942 946S949 948 950 949"/></g><use href="#p230" class="iw"/><g transform="translate(902 1189)rotate(32)"><rect class="cw" x="-41" y="-9" width="81" height="18" rx="5.4"/><ellipse class="ew" cx="37" rx="4" ry="9.1"/></g><g transform="translate(930 1100)rotate(160)"><rect class="cw" x="-47" y="-10" width="94" height="20" rx="5.9"/><ellipse class="ew" cx="43" rx="4.3" ry="9.8"/></g><g class="ow"><path id="p231" d="M896 1149C898 1148 902 1147 905 1146S911 1146 914 1145S919 1143 922 1142S928 1141 931 1139S936 1135 937 1132S937 1126 936 1123S933 1118 933 1115S934 1107 934 1106"/></g><use href="#p231" class="iw"/><g class="ow"><path id="p232" d="M1002 1145C1001 1145 996 1147 994 1149S992 1154 991 1157S991 1164 989 1166S983 1168 981 1170S978 1175 977 1178S976 1184 977 1187S981 1191 983 1194S985 1199 987 1202S989 1209 989 1210"/></g><use href="#p232" class="iw"/><g transform="translate(923 1241)rotate(154)"><rect class="cw" x="-21" y="-9" width="42" height="18" rx="5.4"/><ellipse class="ew" cx="17" rx="3.9" ry="8.9"/></g><g transform="translate(825 1057)rotate(174)"><rect class="cw" x="-45" y="-10" width="91" height="19" rx="5.8"/><ellipse class="ew" cx="41" rx="4.3" ry="9.7"/></g><g transform="translate(797 1143)rotate(150)"><rect class="cd" x="-44" y="-9" width="88" height="18" rx="5.4"/><ellipse class="ed" cx="40" rx="4" ry="9"/></g><g class="ow"><path id="p233" d="M1078 1083C1077 1082 1076 1077 1075 1074S1075 1068 1075 1065S1072 1060 1070 1058S1065 1055 1062 1054S1056 1053 1053 1052S1047 1050 1045 1048S1041 1044 1039 1042S1034 1037 1032 1036S1026 1033 1025 1030S1024 1023 1023 1022"/></g><use href="#p233" class="iw"/><g class="ow"><path id="p234" d="M1023 1047C1022 1046 1019 1043 1017 1041S1013 1036 1013 1033S1013 1027 1013 1024S1014 1018 1014 1015S1015 1009 1016 1006S1023 1002 1024 1001"/></g><use href="#p234" class="iw"/><g transform="translate(918 967)rotate(44)"><rect class="cw" x="-33" y="-10" width="67" height="21" rx="6.3"/><ellipse class="ew" cx="29" rx="4.6" ry="10.5"/></g><g class="ow"><path id="p235" d="M922 1101C921 1100 917 1097 916 1094S914 1089 914 1086S917 1080 916 1077S915 1070 913 1068S908 1066 905 1065S899 1064 896 1064S890 1063 887 1063S881 1060 878 1060S873 1062 870 1063S863 1064 861 1064"/></g><use href="#p235" class="iw"/><g class="ow"><path id="p236" d="M954 1158C955 1159 957 1164 959 1166S965 1168 967 1170S970 1175 971 1178S974 1183 974 1186S975 1192 975 1195S974 1201 973 1204S970 1209 968 1212S963 1215 962 1218S959 1223 958 1226S960 1234 960 1235"/></g><use href="#p236" class="iw"/><g class="ow"><path id="p237" d="M1030 995C1029 997 1029 1001 1027 1004S1022 1008 1021 1011S1020 1017 1019 1019S1014 1024 1013 1026S1009 1031 1007 1033S1001 1035 999 1036S995 1043 994 1044"/></g><use href="#p237" class="iw"/><g class="ow"><path id="p238" d="M830 962C830 964 830 969 828 971S825 976 823 979S820 984 819 987S818 993 817 995S811 998 809 999S803 1004 802 1005"/></g><use href="#p238" class="iw"/><g transform="translate(937 959)rotate(23)"><rect class="cw" x="-25" y="-8" width="50" height="15" rx="4.6"/><ellipse class="ew" cx="22" rx="3.4" ry="7.6"/></g><g transform="translate(811 1092)rotate(143)"><rect class="cw" x="-48" y="-10" width="96" height="20" rx="6"/><ellipse class="ew" cx="43" rx="4.4" ry="9.9"/></g><g class="ow"><path id="p239" d="M1042 1144C1041 1144 1036 1144 1033 1144S1028 1147 1025 1147S1019 1146 1016 1146S1010 1145 1007 1145S1002 1148 999 1150S995 1155 992 1156S985 1158 984 1158"/></g><use href="#p239" class="iw"/><g class="ow"><path id="p240" d="M975 1139C976 1139 980 1142 983 1142S989 1140 992 1139S998 1138 1000 1137S1006 1134 1007 1131S1009 1126 1009 1123S1008 1115 1008 1114"/></g><use href="#p240" class="iw"/><g class="ow"><path id="p241" d="M833 1105C835 1106 837 1110 840 1112S845 1114 848 1115S853 1119 855 1121S857 1128 859 1129S864 1131 867 1132S872 1136 875 1137S881 1138 884 1137S888 1133 890 1131S898 1129 899 1129"/></g><use href="#p241" class="iw"/><g transform="translate(1090 1078)rotate(52)"><rect class="cw" x="-21" y="-9" width="41" height="18" rx="5.5"/><ellipse class="ew" cx="16" rx="4.1" ry="9.2"/></g><g class="ow"><path id="p242" d="M973 1227C972 1227 968 1230 965 1230S959 1227 956 1228S950 1231 949 1233S948 1239 949 1242S951 1248 952 1251S951 1258 951 1260"/></g><use href="#p242" class="iw"/><g class="ow"><path id="p243" d="M948 925C948 923 948 919 947 916S946 909 946 907S951 902 952 900S954 893 953 891S947 887 946 885S946 879 945 876S945 869 944 867S937 863 936 862"/></g><use href="#p243" class="iw"/><g transform="translate(881 1247)rotate(31)"><rect class="cw" x="-38" y="-10" width="76" height="20" rx="6.1"/><ellipse class="ew" cx="33" rx="4.5" ry="10.2"/></g><g class="ow"><path id="p244" d="M798 999C799 998 802 994 804 992S809 988 812 987S818 987 821 987S827 987 830 987S836 988 839 988S846 991 847 991"/></g><use href="#p244" class="iw"/><g class="ow"><path id="p245" d="M938 1106C939 1107 943 1110 945 1111S951 1113 954 1114S960 1114 963 1115S968 1118 971 1118S977 1117 980 1116S985 1114 988 1112S994 1110 996 1108S998 1102 1000 1100S1007 1097 1008 1097"/></g><use href="#p245" class="iw"/><g transform="translate(1044 1035)rotate(92)"><rect class="cw" x="-47" y="-8" width="94" height="17" rx="5"/><ellipse class="ew" cx="43" rx="3.7" ry="8.4"/></g><g transform="translate(970 900)rotate(74)"><rect class="cw" x="-32" y="-9" width="64" height="18" rx="5.3"/><ellipse class="ew" cx="28" rx="3.9" ry="8.8"/></g><g transform="translate(921 1015)rotate(52)"><rect class="cw" x="-43" y="-9" width="87" height="19" rx="5.7"/><ellipse class="ew" cx="39" rx="4.2" ry="9.5"/></g><g transform="translate(987 1064)rotate(103)"><rect class="cd" x="-44" y="-10" width="88" height="19" rx="5.8"/><ellipse class="ed" cx="40" rx="4.3" ry="9.7"/></g><g class="ow"><path id="p246" d="M1069 1007C1068 1007 1063 1006 1061 1005S1055 1004 1052 1002S1047 999 1045 997S1040 992 1040 990S1042 983 1041 981S1037 975 1035 974S1029 972 1027 971S1023 966 1021 964S1017 958 1014 957S1007 958 1005 958"/></g><use href="#p246" class="iw"/><g class="ow"><path id="p247" d="M885 945C884 947 882 951 881 953S880 959 880 962S880 968 881 971S884 977 884 980S880 985 879 987S879 993 879 996S880 1003 882 1005S885 1011 888 1011S894 1011 897 1011S904 1011 906 1011"/></g><use href="#p247" class="iw"/><g class="ow"><path id="p248" d="M968 972C967 973 964 977 962 979S956 982 955 984S954 990 953 993S949 997 948 1000S947 1007 946 1009S939 1013 938 1013"/></g><use href="#p248" class="iw"/><g class="ow"><path id="p249" d="M909 1060C908 1059 905 1055 905 1052S908 1046 908 1043S906 1037 904 1036S898 1034 895 1033S889 1032 887 1030S883 1025 880 1024S874 1023 871 1025S866 1031 866 1032"/></g><use href="#p249" class="iw"/><g class="ow"><path id="p250" d="M1140 1008C1139 1008 1135 1005 1132 1005S1126 1006 1124 1008S1121 1014 1120 1016S1119 1023 1117 1025S1111 1027 1109 1029S1107 1035 1105 1037S1099 1042 1098 1043"/></g><use href="#p250" class="iw"/><g class="ow"><path id="p251" d="M898 1100C897 1100 893 1103 890 1104S884 1102 881 1102S876 1105 874 1107S869 1110 866 1112S860 1117 859 1117"/></g><use href="#p251" class="iw"/><g class="ow"><path id="p252" d="M993 1026C992 1026 987 1027 985 1028S981 1034 979 1035S973 1037 970 1038S964 1039 961 1039S956 1035 954 1033S949 1029 948 1027S947 1021 947 1018S950 1012 950 1009S949 1002 949 1000"/></g><use href="#p252" class="iw"/><g class="ow"><path id="p253" d="M900 1195C901 1196 903 1201 902 1203S899 1209 898 1211S893 1215 891 1217S887 1223 887 1225S888 1233 888 1234"/></g><use href="#p253" class="iw"/><g transform="translate(939 1048)rotate(176)"><rect class="cw" x="-34" y="-8" width="69" height="16" rx="4.7"/><ellipse class="ew" cx="31" rx="3.4" ry="7.8"/></g><g class="ow"><path id="p254" d="M1065 1121C1064 1121 1059 1123 1057 1125S1056 1131 1054 1133S1049 1137 1047 1138S1040 1140 1038 1140S1033 1136 1031 1134S1025 1132 1022 1133S1016 1134 1014 1136S1011 1142 1010 1145S1009 1151 1010 1154S1014 1160 1015 1161"/></g><use href="#p254" class="iw"/><g class="ow"><path id="p255" d="M952 848C953 849 957 851 960 852S966 849 969 849S975 850 978 849S983 845 985 844S991 842 994 843S1000 845 1002 847S1005 852 1006 855S1010 860 1011 863S1009 870 1009 872"/></g><use href="#p255" class="iw"/><g class="ow"><path id="p256" d="M887 837C888 836 893 835 895 833S898 828 900 826S901 820 902 817S907 813 908 810S906 804 906 801S909 796 910 793S913 786 914 785"/></g><use href="#p256" class="iw"/><g transform="translate(1095 1136)rotate(63)"><rect class="cw" x="-34" y="-9" width="68" height="18" rx="5.3"/><ellipse class="ew" cx="30" rx="3.9" ry="8.9"/></g><g transform="translate(991 1162)rotate(133)"><rect class="cd" x="-49" y="-9" width="98" height="18" rx="5.4"/><ellipse class="ed" cx="45" rx="4" ry="9"/></g><g class="ow"><path id="p257" d="M899 988C901 988 905 990 908 990S913 989 916 988S923 987 925 986S929 981 931 978S935 974 937 972S941 968 943 965S947 961 948 958S949 952 948 949S944 943 943 942"/></g><use href="#p257" class="iw"/><g transform="translate(1133 998)rotate(15)"><rect class="cw" x="-23" y="-8" width="46" height="15" rx="4.6"/><ellipse class="ew" cx="20" rx="3.4" ry="7.7"/></g><g class="ow"><path id="p258" d="M837 1034C838 1035 840 1040 842 1041S848 1043 851 1044S857 1043 860 1043S865 1040 868 1041S875 1044 876 1045"/></g><use href="#p258" class="iw"/><g class="ow"><path id="p259" d="M996 1119C997 1118 1000 1114 1002 1112S1008 1111 1011 1109S1015 1104 1017 1103S1023 1103 1026 1102S1032 1100 1035 1101S1041 1105 1043 1106"/></g><use href="#p259" class="iw"/><g class="ow"><path id="p260" d="M1095 1086C1094 1086 1089 1087 1086 1087S1080 1087 1077 1088S1072 1091 1070 1094S1069 1100 1069 1103S1070 1109 1072 1111S1078 1115 1080 1116"/></g><use href="#p260" class="iw"/><g class="ow"><path id="p261" d="M1113 1069C1114 1068 1117 1064 1120 1063S1126 1064 1128 1063S1134 1062 1137 1061S1142 1057 1145 1056S1153 1057 1154 1058"/></g><use href="#p261" class="iw"/><g class="ow"><path id="p262" d="M794 1127C795 1125 796 1120 795 1118S791 1113 790 1111S787 1105 785 1103S780 1101 777 1099S771 1097 769 1095S765 1089 764 1088"/></g><use href="#p262" class="iw"/><g class="ow"><path id="p263" d="M913 1147C912 1148 907 1151 905 1150S899 1147 897 1145S894 1139 892 1138S886 1136 883 1137S877 1139 875 1140S870 1144 867 1145S860 1148 859 1148"/></g><use href="#p263" class="iw"/><g class="ow"><path id="p264" d="M822 1184C820 1184 815 1184 813 1183S809 1178 809 1175S808 1169 808 1166S810 1160 810 1157S811 1151 812 1148S813 1142 813 1139S811 1134 811 1131S808 1125 809 1122S812 1117 814 1114S819 1109 820 1108"/></g><use href="#p264" class="iw"/><g class="ow"><path id="p265" d="M1125 1057C1123 1056 1119 1054 1117 1052S1113 1047 1110 1047S1104 1047 1101 1047S1095 1045 1092 1045S1086 1047 1084 1049S1081 1056 1080 1057"/></g><use href="#p265" class="iw"/><g class="ow"><path id="p266" d="M925 1037C926 1036 931 1037 934 1036S937 1030 939 1029S946 1028 948 1029S953 1033 955 1036S959 1040 961 1042S968 1045 970 1045"/></g><use href="#p266" class="iw"/><g class="ow"><path id="p267" d="M957 1011C958 1011 963 1010 966 1009S972 1008 974 1006S978 1001 980 999S985 995 986 992S986 985 986 983"/></g><use href="#p267" class="iw"/><g transform="translate(1174 1047)rotate(128)"><rect class="cw" x="-31" y="-10" width="61" height="20" rx="6.1"/><ellipse class="ew" cx="26" rx="4.5" ry="10.2"/></g><g class="ow"><path id="p268" d="M943 1067C944 1067 948 1065 951 1065S957 1063 960 1063S966 1066 969 1065S974 1062 977 1061S984 1061 986 1061"/></g><use href="#p268" class="iw"/><g class="ow"><path id="p269" d="M990 870C990 869 992 864 994 862S999 860 1002 858S1006 854 1007 851S1009 845 1010 843S1014 838 1014 835S1015 829 1015 826S1016 819 1015 817S1010 812 1009 810S1009 802 1009 801"/></g><use href="#p269" class="iw"/><g transform="translate(866 945)rotate(179)"><rect class="cw" x="-30" y="-9" width="59" height="19" rx="5.7"/><ellipse class="ew" cx="25" rx="4.2" ry="9.5"/></g><g transform="translate(1101 1030)rotate(110)"><rect class="cd" x="-23" y="-8" width="46" height="16" rx="4.9"/><ellipse class="ed" cx="19" rx="3.6" ry="8.1"/></g><g transform="translate(837 1148)rotate(81)"><rect class="cw" x="-41" y="-8" width="82" height="15" rx="4.6"/><ellipse class="ew" cx="38" rx="3.4" ry="7.7"/></g><g class="ow"><path id="p270" d="M979 991C978 992 974 994 972 996S968 1001 967 1004S967 1010 966 1013S966 1019 964 1022S959 1026 957 1027S951 1024 948 1025S942 1028 940 1030S938 1036 939 1039S943 1044 944 1046"/></g><use href="#p270" class="iw"/><g class="ow"><path id="p271" d="M844 1149C843 1148 838 1146 836 1146S830 1148 827 1148S821 1151 818 1151S813 1149 810 1147S805 1144 803 1142S797 1138 795 1137"/></g><use href="#p271" class="iw"/><g transform="translate(1048 1135)rotate(178)"><rect class="cw" x="-35" y="-10" width="70" height="20" rx="5.9"/><ellipse class="ew" cx="31" rx="4.3" ry="9.9"/></g><g class="ow"><path id="p272" d="M1170 1066C1171 1067 1173 1071 1176 1072S1182 1072 1185 1073S1191 1075 1194 1076S1200 1076 1202 1077S1206 1082 1208 1084S1214 1086 1217 1087S1222 1089 1225 1091S1228 1097 1230 1098S1237 1099 1239 1101S1243 1107 1244 1108"/></g><use href="#p272" class="iw"/><g transform="translate(910 837)rotate(21)"><rect class="cw" x="-35" y="-10" width="70" height="20" rx="5.9"/><ellipse class="ew" cx="31" rx="4.3" ry="9.8"/></g><g class="ow"><path id="p273" d="M932 1006C933 1005 933 1000 934 997S940 994 942 993S948 993 951 992S957 991 960 989S965 986 966 983S968 976 968 974"/></g><use href="#p273" class="iw"/><g transform="translate(850 1073)rotate(117)"><rect class="cw" x="-21" y="-10" width="42" height="19" rx="5.8"/><ellipse class="ew" cx="17" rx="4.3" ry="9.7"/></g><g transform="translate(850 1014)rotate(62)"><rect class="cw" x="-33" y="-8" width="65" height="17" rx="5"/><ellipse class="ew" cx="29" rx="3.7" ry="8.4"/></g><g class="ow"><path id="p274" d="M823 1234C824 1233 827 1230 829 1228S831 1222 831 1219S830 1213 829 1210S828 1204 827 1201S827 1195 826 1193S823 1187 822 1184S819 1179 818 1177S812 1174 810 1172S809 1164 808 1163"/></g><use href="#p274" class="iw"/><g class="ow"><path id="p275" d="M929 876C929 877 931 881 931 884S928 890 927 893S929 898 929 901S930 907 930 910S931 916 932 919S935 926 935 928"/></g><use href="#p275" class="iw"/><g class="ow"><path id="p276" d="M1099 1131C1101 1132 1105 1134 1107 1136S1108 1143 1110 1144S1116 1148 1119 1148S1124 1145 1127 1143S1131 1139 1134 1138S1140 1137 1143 1137S1150 1139 1152 1139"/></g><use href="#p276" class="iw"/><g transform="translate(1054 999)rotate(27)"><rect class="cw" x="-41" y="-8" width="82" height="16" rx="4.8"/><ellipse class="ew" cx="38" rx="3.5" ry="7.9"/></g><g transform="translate(849 1041)rotate(101)"><rect class="cw" x="-47" y="-9" width="93" height="18" rx="5.5"/><ellipse class="ew" cx="42" rx="4.1" ry="9.2"/></g><g class="ow"><path id="p277" d="M815 1051C816 1050 821 1049 823 1047S827 1042 829 1040S832 1035 834 1032S837 1027 840 1026S845 1023 848 1022S854 1020 856 1019S861 1014 862 1012S863 1006 863 1003S861 996 861 994"/></g><use href="#p277" class="iw"/><g class="ow"><path id="p278" d="M1176 1031C1177 1030 1182 1028 1185 1028S1190 1029 1193 1030S1199 1033 1202 1034S1208 1034 1210 1032S1214 1027 1216 1025S1222 1022 1225 1022S1231 1025 1233 1025"/></g><use href="#p278" class="iw"/><g class="ow"><path id="p279" d="M1071 969C1069 969 1065 967 1062 968S1057 971 1054 972S1048 972 1045 974S1040 978 1039 980S1038 987 1039 989S1043 994 1045 996S1049 1001 1051 1002S1057 1004 1060 1005S1066 1006 1069 1005S1074 1000 1075 999"/></g><use href="#p279" class="iw"/><g transform="translate(1167 1012)rotate(41)"><rect class="cw" x="-22" y="-8" width="44" height="16" rx="4.7"/><ellipse class="ew" cx="18" rx="3.5" ry="7.9"/></g><g class="ow"><path id="p280" d="M838 1205C837 1207 836 1212 834 1213S827 1214 825 1215S820 1218 818 1220S813 1224 811 1226S806 1230 804 1232S801 1238 799 1240S793 1239 790 1241S787 1247 785 1248S779 1251 776 1251S769 1250 768 1250"/></g><use href="#p280" class="iw"/><g transform="translate(1061 1089)rotate(21)"><rect class="cw" x="-31" y="-10" width="61" height="21" rx="6.3"/><ellipse class="ew" cx="26" rx="4.6" ry="10.5"/></g><g transform="translate(795 1171)rotate(135)"><rect class="cw" x="-49" y="-9" width="97" height="17" rx="5.1"/><ellipse class="ew" cx="45" rx="3.8" ry="8.6"/></g><g class="ow"><path id="p281" d="M789 1097C791 1096 794 1092 797 1092S803 1093 805 1093S812 1093 814 1093S820 1091 823 1090S828 1087 831 1086S837 1088 839 1090S843 1095 845 1097S853 1099 854 1099"/></g><use href="#p281" class="iw"/><g transform="translate(1176 1085)rotate(61)"><rect class="cw" x="-30" y="-8" width="60" height="16" rx="4.7"/><ellipse class="ew" cx="27" rx="3.5" ry="7.9"/></g><g transform="translate(902 1235)rotate(90)"><rect class="cw" x="-37" y="-10" width="75" height="20" rx="5.9"/><ellipse class="ew" cx="33" rx="4.3" ry="9.8"/></g><g class="ow"><path id="p282" d="M884 1232C884 1231 886 1227 887 1224S890 1219 892 1216S895 1211 898 1210S904 1208 907 1208S913 1208 916 1208S922 1210 925 1210S932 1212 933 1212"/></g><use href="#p282" class="iw"/><g transform="translate(944 998)rotate(164)"><rect class="cw" x="-41" y="-8" width="82" height="16" rx="4.7"/><ellipse class="ew" cx="37" rx="3.5" ry="7.9"/></g><g transform="translate(1027 1146)rotate(6)"><rect class="cw" x="-49" y="-9" width="99" height="18" rx="5.5"/><ellipse class="ew" cx="45" rx="4" ry="9.2"/></g><g transform="translate(1067 1111)rotate(178)"><rect class="cw" x="-23" y="-9" width="45" height="18" rx="5.3"/><ellipse class="ew" cx="19" rx="3.9" ry="8.8"/></g><g class="ow"><path id="p283" d="M1045 1014C1044 1015 1039 1018 1038 1020S1039 1027 1039 1029S1036 1035 1034 1037S1031 1042 1029 1045S1027 1051 1024 1052S1018 1054 1015 1054S1009 1053 1006 1053S999 1051 998 1051"/></g><use href="#p283" class="iw"/><g transform="translate(1097 1119)rotate(176)"><rect class="cw" x="-44" y="-9" width="88" height="17" rx="5.2"/><ellipse class="ew" cx="40" rx="3.8" ry="8.7"/></g><g transform="translate(1034 987)rotate(70)"><rect class="cw" x="-45" y="-10" width="89" height="20" rx="6"/><ellipse class="ew" cx="40" rx="4.4" ry="9.9"/></g><g class="ow"><path id="p284" d="M1119 987C1120 988 1121 993 1123 995S1130 995 1132 996S1135 1002 1138 1003S1144 1004 1146 1006S1150 1011 1152 1013S1158 1015 1161 1015S1167 1014 1169 1012S1173 1008 1174 1005S1177 999 1177 996S1176 989 1176 987"/></g><use href="#p284" class="iw"/><g class="ow"><path id="p285" d="M857 1032C858 1031 859 1026 862 1024S868 1023 870 1022S875 1017 877 1016S883 1013 885 1011S887 1004 888 1003"/></g><use href="#p285" class="iw"/><g class="ow"><path id="p286" d="M1085 1024C1086 1022 1088 1018 1091 1016S1096 1015 1099 1014S1105 1011 1107 1010S1113 1009 1116 1009S1122 1010 1125 1011S1130 1014 1133 1015S1139 1016 1142 1017S1146 1022 1149 1022S1156 1022 1158 1022"/></g><use href="#p286" class="iw"/><g class="ow"><path id="p287" d="M873 1218C874 1219 874 1224 875 1227S877 1233 879 1235S885 1237 887 1240S889 1245 892 1247S898 1248 900 1250S905 1256 906 1257"/></g><use href="#p287" class="iw"/><g class="ow"><path id="p288" d="M819 1236C820 1236 824 1233 827 1232S832 1230 835 1230S842 1229 844 1230S850 1232 852 1234S857 1239 857 1242S859 1248 858 1251S854 1256 852 1257S845 1260 843 1261"/></g><use href="#p288" class="iw"/><g class="ow"><path id="p289" d="M1014 1019C1012 1019 1008 1017 1005 1017S999 1016 996 1016S991 1018 988 1018S982 1017 979 1018S973 1021 971 1022S965 1023 962 1025S958 1029 955 1031S951 1035 949 1037S942 1041 941 1042"/></g><use href="#p289" class="iw"/><g transform="translate(924 880)rotate(130)"><rect class="cd" x="-37" y="-8" width="75" height="15" rx="4.5"/><ellipse class="ed" cx="34" rx="3.3" ry="7.5"/></g><g transform="translate(1107 975)rotate(161)"><rect class="cw" x="-39" y="-10" width="79" height="21" rx="6.3"/><ellipse class="ew" cx="35" rx="4.6" ry="10.4"/></g><g transform="translate(941 1146)rotate(124)"><rect class="cw" x="-38" y="-8" width="76" height="16" rx="4.9"/><ellipse class="ew" cx="34" rx="3.6" ry="8.2"/></g><g transform="translate(897 1000)rotate(116)"><rect class="cw" x="-24" y="-9" width="48" height="18" rx="5.4"/><ellipse class="ew" cx="20" rx="3.9" ry="8.9"/></g><g class="ow"><path id="p290" d="M861 1066C862 1067 866 1070 867 1073S866 1079 867 1082S872 1085 874 1088S877 1092 879 1095S880 1103 880 1104"/></g><use href="#p290" class="iw"/><g class="ow"><path id="p291" d="M925 920C926 921 929 925 931 926S937 926 940 926S946 923 949 923S955 924 957 925S962 929 964 932S966 938 966 940S962 945 961 948S956 953 955 954"/></g><use href="#p291" class="iw"/><g transform="translate(816 1051)rotate(82)"><rect class="cw" x="-47" y="-8" width="94" height="16" rx="4.7"/><ellipse class="ew" cx="44" rx="3.4" ry="7.8"/></g><g class="ow"><path id="p292" d="M843 1007C844 1006 848 1004 851 1003S857 1003 860 1001S864 997 866 994S867 988 867 985S865 979 863 977S858 973 856 973S849 973 847 975S842 980 840 980S834 979 831 979S824 978 822 978"/></g><use href="#p292" class="iw"/><g class="ow"><path id="p293" d="M897 1110C895 1109 891 1106 888 1106S883 1109 880 1111S876 1115 875 1118S874 1124 874 1127S877 1133 876 1136S872 1141 870 1142S864 1144 861 1144S856 1141 853 1139S846 1136 845 1135"/></g><use href="#p293" class="iw"/><g transform="translate(1020 1089)rotate(99)"><rect class="cw" x="-49" y="-9" width="97" height="18" rx="5.5"/><ellipse class="ew" cx="45" rx="4" ry="9.2"/></g><g class="ow"><path id="p294" d="M913 1233C914 1233 919 1235 922 1235S928 1233 931 1234S937 1234 940 1235S946 1234 949 1235S954 1238 957 1239S963 1241 966 1241S972 1241 974 1239S979 1235 981 1233S982 1227 984 1224S990 1220 991 1219"/></g><use href="#p294" class="iw"/><g class="ow"><path id="p295" d="M944 1171C944 1169 943 1164 945 1162S950 1158 952 1156S957 1153 959 1151S966 1150 968 1149S974 1146 976 1144S979 1139 980 1136S979 1130 979 1127S984 1121 984 1120"/></g><use href="#p295" class="iw"/><g transform="translate(995 1106)rotate(27)"><rect class="cw" x="-30" y="-10" width="60" height="21" rx="6.2"/><ellipse class="ew" cx="25" rx="4.6" ry="10.4"/></g><g transform="translate(1141 1079)rotate(12)"><rect class="cw" x="-31" y="-8" width="61" height="15" rx="4.5"/><ellipse class="ew" cx="27" rx="3.3" ry="7.5"/></g><g class="ow"><path id="p296" d="M1115 981C1113 981 1109 981 1106 981S1100 981 1097 980S1091 978 1089 976S1085 971 1083 969S1079 964 1077 962S1070 960 1068 960"/></g><use href="#p296" class="iw"/><g class="ow"><path id="p297" d="M891 911C890 910 886 907 885 905S884 899 882 896S879 891 876 889S871 888 868 888S862 889 859 889S852 886 850 885"/></g><use href="#p297" class="iw"/><g class="ow"><path id="p298" d="M862 1241C862 1239 865 1236 867 1233S871 1229 872 1226S875 1220 877 1219S883 1217 885 1215S889 1210 892 1209S898 1208 901 1209S907 1214 908 1215"/></g><use href="#p298" class="iw"/><g class="ow"><path id="p299" d="M887 1166C888 1165 889 1160 889 1157S888 1151 888 1149S889 1143 889 1140S890 1133 891 1131S895 1125 896 1123"/></g><use href="#p299" class="iw"/><g class="ow"><path id="p300" d="M1046 1094C1047 1094 1052 1095 1055 1094S1061 1091 1062 1089S1063 1083 1063 1080S1063 1074 1063 1071S1063 1065 1064 1062S1067 1055 1068 1054"/></g><use href="#p300" class="iw"/><g class="ow"><path id="p301" d="M940 1110C940 1109 938 1104 938 1102S938 1095 938 1093S935 1087 933 1085S929 1080 926 1079S920 1080 917 1081S911 1080 908 1082S905 1088 903 1089S897 1091 894 1091S887 1091 885 1091"/></g><use href="#p301" class="iw"/><g transform="translate(1016 953)rotate(32)"><rect class="cw" x="-35" y="-8" width="71" height="17" rx="5"/><ellipse class="ew" cx="32" rx="3.7" ry="8.3"/></g><g transform="translate(851 1113)rotate(57)"><rect class="cw" x="-28" y="-9" width="57" height="18" rx="5.5"/><ellipse class="ew" cx="24" rx="4.1" ry="9.2"/></g><g class="ow"><path id="p302" d="M1155 1089C1156 1090 1157 1095 1158 1097S1159 1104 1161 1106S1166 1110 1169 1111S1174 1113 1177 1114S1182 1117 1185 1119S1190 1124 1191 1126"/></g><use href="#p302" class="iw"/><g transform="translate(976 1008)rotate(10)"><rect class="cw" x="-27" y="-8" width="54" height="15" rx="4.6"/><ellipse class="ew" cx="24" rx="3.4" ry="7.6"/></g><g transform="translate(873 1035)rotate(139)"><rect class="cw" x="-38" y="-9" width="75" height="17" rx="5.2"/><ellipse class="ew" cx="34" rx="3.8" ry="8.7"/></g><g class="ow"><path id="p303" d="M890 1271C892 1272 895 1274 897 1277S901 1282 901 1285S903 1291 903 1293S901 1299 900 1302S899 1308 899 1311S898 1317 899 1320S902 1325 903 1328S906 1335 906 1336"/></g><use href="#p303" class="iw"/><g class="ow"><path id="p304" d="M993 1047C994 1047 999 1047 1002 1046S1005 1041 1008 1039S1014 1037 1016 1035S1020 1030 1020 1027S1019 1021 1018 1018S1016 1013 1014 1010S1009 1007 1007 1004S1007 997 1006 995"/></g><use href="#p304" class="iw"/><g class="ow"><path id="p305" d="M1041 1116C1040 1115 1041 1110 1040 1107S1037 1102 1037 1099S1038 1093 1038 1090S1037 1084 1036 1081S1031 1076 1031 1074S1030 1067 1032 1065S1036 1060 1039 1060S1045 1059 1048 1060S1054 1062 1056 1064S1060 1071 1061 1072"/></g><use href="#p305" class="iw"/><g class="ow"><path id="p306" d="M817 1146C816 1148 814 1152 813 1155S815 1160 816 1163S818 1169 820 1171S825 1175 828 1176S836 1177 837 1177"/></g><use href="#p306" class="iw"/><g class="ow"><path id="p307" d="M1076 1052C1074 1052 1070 1054 1068 1056S1065 1061 1063 1063S1057 1066 1055 1068S1055 1075 1054 1077S1049 1082 1046 1082S1041 1079 1038 1078S1032 1080 1029 1081S1023 1082 1020 1081S1013 1080 1011 1080"/></g><use href="#p307" class="iw"/><g transform="translate(891 1180)rotate(61)"><rect class="cw" x="-33" y="-10" width="67" height="20" rx="6"/><ellipse class="ew" cx="29" rx="4.4" ry="9.9"/></g><g class="ow"><path id="p308" d="M934 1185C934 1187 932 1191 930 1193S924 1194 921 1196S918 1201 916 1203S910 1206 908 1207S901 1207 899 1209S895 1213 893 1216S891 1223 891 1224"/></g><use href="#p308" class="iw"/><g transform="translate(848 1167)rotate(67)"><rect class="cw" x="-39" y="-8" width="77" height="16" rx="4.7"/><ellipse class="ew" cx="35" rx="3.5" ry="7.9"/></g><g class="ow"><path id="p309" d="M857 997C856 996 855 991 853 989S850 984 848 981S845 975 843 974S837 974 834 973S829 970 826 969S819 967 817 967"/></g><use href="#p309" class="iw"/><g class="ow"><path id="p310" d="M983 955C984 956 988 959 990 960S996 961 999 961S1005 963 1008 962S1013 959 1016 957S1021 954 1023 952S1028 947 1029 945S1029 938 1028 936S1025 930 1023 929S1017 927 1014 925S1009 920 1008 919"/></g><use href="#p310" class="iw"/><g class="ow"><path id="p311" d="M992 1172C991 1173 987 1176 985 1178S983 1184 981 1186S977 1191 976 1194S979 1200 978 1202S976 1208 974 1210S966 1212 965 1213"/></g><use href="#p311" class="iw"/><g class="ow"><path id="p312" d="M1150 1079C1151 1080 1154 1083 1156 1085S1162 1088 1164 1090S1166 1096 1168 1098S1172 1103 1174 1104S1181 1105 1183 1104S1188 1100 1190 1098S1196 1096 1198 1094S1202 1089 1203 1086S1205 1080 1204 1077S1201 1071 1200 1070"/></g><use href="#p312" class="iw"/><g class="ow"><path id="p313" d="M954 897C955 898 958 901 960 903S963 909 965 911S971 914 974 913S980 910 981 908S980 901 982 899S986 895 989 893S994 890 997 890S1003 889 1006 890S1012 894 1013 895"/></g><use href="#p313" class="iw"/><g class="ow"><path id="p314" d="M937 971C936 973 933 977 931 978S925 980 922 981S916 983 914 984S909 988 908 991S908 997 907 1000S903 1006 903 1008"/></g><use href="#p314" class="iw"/><g transform="translate(872 1207)rotate(133)"><rect class="cw" x="-33" y="-10" width="65" height="19" rx="5.8"/><ellipse class="ew" cx="28" rx="4.3" ry="9.7"/></g><g class="ow"><path id="p315" d="M862 1144C862 1145 863 1150 863 1153S863 1159 865 1161S869 1165 871 1167S877 1171 878 1174S878 1180 879 1182S884 1186 886 1188S891 1191 894 1192S900 1194 903 1193S907 1188 910 1187S916 1183 917 1183"/></g><use href="#p315" class="iw"/><g class="ow"><path id="p316" d="M999 1075C1000 1076 1003 1080 1006 1080S1012 1080 1015 1081S1021 1083 1024 1084S1029 1086 1032 1088S1036 1092 1037 1095S1039 1102 1039 1104"/></g><use href="#p316" class="iw"/><g transform="translate(979 1033)rotate(81)"><rect class="cw" x="-49" y="-8" width="98" height="17" rx="5"/><ellipse class="ew" cx="45" rx="3.6" ry="8.3"/></g><g class="ow"><path id="p317" d="M1019 1114C1021 1113 1025 1111 1028 1111S1034 1112 1037 1113S1043 1113 1045 1114S1050 1119 1052 1121S1056 1125 1058 1127S1064 1132 1065 1133"/></g><use href="#p317" class="iw"/><g class="ow"><path id="p318" d="M947 889C948 888 950 883 952 881S958 879 961 878S967 876 969 876S975 879 977 881S980 887 982 888S988 889 991 890S998 891 1000 890S1005 887 1007 884S1009 878 1011 876S1018 873 1019 873"/></g><use href="#p318" class="iw"/><g transform="translate(907 1129)rotate(59)"><rect class="cd" x="-28" y="-8" width="56" height="17" rx="5"/><ellipse class="ed" cx="24" rx="3.7" ry="8.3"/></g><g class="ow"><path id="p319" d="M1154 996C1155 997 1158 1000 1160 1002S1162 1008 1163 1010S1168 1015 1168 1018S1168 1024 1168 1027S1167 1033 1168 1036S1170 1042 1170 1045S1169 1051 1169 1054S1169 1060 1170 1063S1171 1069 1171 1072S1168 1079 1168 1080"/></g><use href="#p319" class="iw"/><g class="ow"><path id="p320" d="M850 1183C849 1182 848 1178 847 1175S847 1168 846 1166S841 1162 838 1161S832 1161 829 1161S823 1164 822 1167S819 1173 820 1176S824 1180 825 1183S827 1189 829 1191S833 1197 834 1198"/></g><use href="#p320" class="iw"/><g transform="translate(877 869)rotate(48)"><rect class="cw" x="-30" y="-9" width="61" height="18" rx="5.3"/><ellipse class="ew" cx="27" rx="3.9" ry="8.8"/></g><g class="ow"><path id="p321" d="M986 893C985 893 980 896 978 896S972 893 969 893S963 895 960 896S954 895 952 894S948 889 946 887S939 884 938 883"/></g><use href="#p321" class="iw"/><g transform="translate(1079 1026)rotate(15)"><rect class="cw" x="-22" y="-8" width="43" height="16" rx="4.7"/><ellipse class="ew" cx="18" rx="3.4" ry="7.8"/></g><g transform="translate(950 1075)rotate(113)"><rect class="cw" x="-26" y="-8" width="51" height="17" rx="5"/><ellipse class="ew" cx="22" rx="3.7" ry="8.4"/></g><g class="ow"><path id="p322" d="M1141 1026C1139 1026 1134 1027 1132 1026S1127 1022 1125 1020S1121 1016 1119 1013S1114 1009 1113 1007S1114 1000 1113 998S1107 994 1106 991S1106 985 1106 982S1106 976 1105 973S1103 968 1101 965S1095 960 1094 959"/></g><use href="#p322" class="iw"/><g transform="translate(1013 1107)rotate(170)"><rect class="cd" x="-27" y="-9" width="55" height="18" rx="5.3"/><ellipse class="ed" cx="23" rx="3.9" ry="8.9"/></g><g transform="translate(972 1191)rotate(127)"><rect class="cw" x="-48" y="-9" width="97" height="18" rx="5.5"/><ellipse class="ew" cx="44" rx="4.1" ry="9.2"/></g><g transform="translate(937 1203)rotate(3)"><rect class="cw" x="-39" y="-9" width="77" height="18" rx="5.4"/><ellipse class="ew" cx="35" rx="3.9" ry="8.9"/></g><g class="ow"><path id="p323" d="M859 981C858 982 854 985 851 986S845 984 843 984S836 984 834 985S828 987 825 988S819 990 817 990S811 994 808 993S801 990 800 989"/></g><use href="#p323" class="iw"/><g class="ow"><path id="p324" d="M843 1071C844 1072 845 1077 848 1079S854 1079 857 1080S862 1082 865 1083S871 1084 874 1085S880 1087 883 1087S889 1085 891 1083S894 1076 895 1075"/></g><use href="#p324" class="iw"/><g class="ow"><path id="p325" d="M955 1100C955 1102 953 1106 953 1109S958 1114 958 1117S956 1123 954 1125S951 1131 949 1133S943 1134 940 1134S935 1131 932 1131S926 1133 923 1133S916 1135 914 1135"/></g><use href="#p325" class="iw"/><g class="ow"><path id="p326" d="M1055 1071C1054 1070 1050 1069 1047 1068S1041 1067 1038 1067S1032 1068 1029 1069S1023 1070 1020 1072S1017 1077 1014 1078S1007 1081 1006 1081"/></g><use href="#p326" class="iw"/><g class="ow"><path id="p327" d="M880 879C879 880 875 883 873 885S869 890 867 892S863 896 861 899S860 905 860 908S863 914 863 916S860 922 858 924S854 930 853 931"/></g><use href="#p327" class="iw"/><g class="ow"><path id="p328" d="M1143 1108C1143 1107 1141 1102 1138 1101S1132 1100 1129 1100S1123 1103 1121 1103S1116 1099 1113 1099S1107 1100 1104 1101S1098 1100 1095 1101S1090 1104 1087 1105S1081 1107 1078 1107S1072 1106 1069 1106S1063 1110 1062 1111"/></g><use href="#p328" class="iw"/><g class="ow"><path id="p329" d="M946 1211C945 1213 945 1217 944 1220S940 1224 938 1226S935 1232 933 1234S931 1240 929 1242S925 1247 923 1249S919 1253 916 1255S910 1254 907 1256S902 1259 901 1262S900 1268 901 1271S902 1278 902 1279"/></g><use href="#p329" class="iw"/><g transform="translate(851 970)rotate(135)"><rect class="cw" x="-48" y="-10" width="95" height="20" rx="6"/><ellipse class="ew" cx="43" rx="4.4" ry="10"/></g><g class="ow"><path id="p330" d="M853 1085C854 1086 859 1087 861 1089S864 1094 866 1096S873 1097 875 1099S880 1103 881 1106S879 1112 880 1114S884 1121 885 1122"/></g><use href="#p330" class="iw"/></g><path d="M867.6 965.7 C872 960 876 958 881.4 957 C895 955 905 955 916 955.3 C928 956 938 956 944 958.8 C950 962 953 967 952.6 972.7 C952 980 950 984 947.4 986.6 C940 992 934 995 926.6 997 C918 1000 912 1002 905.7 1002.2 C898 1002 890 1002 885 1000.4 C880 998 877 994 874.5 990 C871 984 868 980 867.6 976 C867 972 866 968 867.6 965.7 Z" fill="none" stroke="#3a3a3a" stroke-width="2" stroke-dasharray="6 3.5"/><g fill="none" stroke-linecap="round" stroke-linejoin="round"><path d="M908 1012 C912 1020 914 1026 918 1030" stroke="#e8b0a0" stroke-width="3" opacity="0.7"/><path d="M880 1058 L886 1072" stroke="#e040e0" stroke-width="6" opacity="0.8"/><path d="M858 1090 C866 1094 864 1104 858 1110 C856 1116 862 1122 868 1122" stroke="#30d0e0" stroke-width="3"/><path d="M885 1104.5 L905.7 1102.8 L909 1122 L923 1118.4 L919.6 1097.6" stroke="#f0e000" stroke-width="3"/><path d="M913 1120 C918 1112 924 1108 928 1102 C930 1110 932 1116 926 1120" stroke="#9a30e0" stroke-width="3"/><path d="M905.7 1042 C898 1050 892 1058 891.9 1063 C888 1075 884 1088 885 1097.6" stroke="#555555" stroke-width="3"/></g><path d="M862 1106 L884 1100 L890 1116 L868 1124 Z" fill="#f4b478" stroke="#c88850" stroke-width="0.8"/><path d="M888 1152 L912 1128 L926 1140 L902 1166 Z" fill="#f0ec30" stroke="#c8c020" stroke-width="0.8" opacity="0.85"/><circle cx="906" cy="917" r="6.5" fill="url(#gR)" stroke="#1d5716" stroke-width="0.6"/><circle cx="914" cy="915" r="6.5" fill="url(#gR)" stroke="#1d5716" stroke-width="0.6"/><circle cx="912" cy="925" r="6.5" fill="url(#gR)" stroke="#1d5716" stroke-width="0.6"/><circle cx="903" cy="927" r="6.5" fill="url(#gR)" stroke="#1d5716" stroke-width="0.6"/><circle cx="916" cy="932" r="6.5" fill="url(#gR)" stroke="#1d5716" stroke-width="0.6"/><circle cx="898" cy="938" r="6.5" fill="url(#gR)" stroke="#1d5716" stroke-width="0.6"/><circle cx="907" cy="940" r="6.5" fill="url(#gR)" stroke="#1d5716" stroke-width="0.6"/><circle cx="895" cy="946" r="6.5" fill="url(#gR)" stroke="#1d5716" stroke-width="0.6"/><circle cx="904" cy="948" r="6.5" fill="url(#gR)" stroke="#1d5716" stroke-width="0.6"/><circle cx="882" cy="1070" r="6.5" fill="url(#gR)" stroke="#1d5716" stroke-width="0.6"/><circle cx="893" cy="1066" r="6.5" fill="url(#gR)" stroke="#1d5716" stroke-width="0.6"/><circle cx="903" cy="1068" r="6.5" fill="url(#gR)" stroke="#1d5716" stroke-width="0.6"/><circle cx="910" cy="1073" r="6.5" fill="url(#gR)" stroke="#1d5716" stroke-width="0.6"/><circle cx="876" cy="1079" r="6.5" fill="url(#gR)" stroke="#1d5716" stroke-width="0.6"/><circle cx="887" cy="1079" r="6.5" fill="url(#gR)" stroke="#1d5716" stroke-width="0.6"/><circle cx="898" cy="1081" r="6.5" fill="url(#gR)" stroke="#1d5716" stroke-width="0.6"/><circle cx="880" cy="1088" r="6.5" fill="url(#gR)" stroke="#1d5716" stroke-width="0.6"/><circle cx="891" cy="1089" r="6.5" fill="url(#gR)" stroke="#1d5716" stroke-width="0.6"/><path d="M923 835.6 C928 852 929 866 926.6 872 C922 888 918 900 916 906.7 C908 916 898 920 891.9 924 C884 929 878 934 878 940" fill="none" stroke="#231815" stroke-width="2" marker-end="url(#ah)"/><path d="M924 1047 C928 1044 931 1052 935 1049 L947 1049" fill="none" stroke="#6b3c14" stroke-width="2"/><text x="934" y="884" font-size="19.2" font-weight="normal" fill="#231815" text-anchor="start">5&#8217; hook-binding pocket&#160;&#160;entry tunnel</text><text x="934" y="937" font-size="19.2" font-weight="bold" fill="#3f8a2a" text-anchor="start" stroke="#2a6a1a" stroke-width="0.4" paint-order="stroke">Ribavirin or its triphosphate</text><text x="647.8" y="1020.5" font-size="21.3" font-weight="bold" fill="#6e6e6e" text-anchor="start">5&#8217; hook-binding pocket</text><text x="948.6" y="1057.7" font-size="19.3" font-weight="bold" fill="#6b3c14" text-anchor="start" stroke="#4a2a0e" stroke-width="0.4" paint-order="stroke">Disordered fingertips (motif F)</text><text x="923" y="1089.4" font-size="19.2" font-weight="bold" fill="#3f8a2a" text-anchor="start" stroke="#2a6a1a" stroke-width="0.4" paint-order="stroke">Ribavirin or its triphosphate</text><text x="658.5" y="1167.7" font-weight="bold" fill="#231815"><tspan font-size="21">Target 2:</tspan><tspan font-size="19" dx="4">Enzyme</tspan></text><text x="740.5" y="1193.7" font-size="19.1" font-weight="bold" fill="#231815" text-anchor="middle">active center</text><text x="952" y="1462.8" font-size="23.4" font-weight="bold" fill="#231815" text-anchor="middle">Inactive TSWV L locking</text><clipPath id="cS1"><circle cx="121" cy="838" r="91.5"/></clipPath><g clip-path="url(#cS1)"><rect x="29" y="746" width="184" height="184" fill="#ffffff"/><g fill="none" stroke="#9a9a9a" stroke-width="0.9"><path d="M60 760 C70 770 80 775 95 772 M45 800 C60 805 70 820 66 840 M40 850 C55 860 60 880 70 900 M150 780 C170 790 190 800 200 820 M170 810 C185 805 200 812 210 830 M60 880 C80 890 95 905 100 925 M100 850 C110 870 115 890 112 920 M200 860 C195 880 190 900 185 925 M30 880 L60 920"/><path d="M176 836 C186 832 196 836 200 846 C204 856 198 866 188 866" stroke-width="6" stroke="#b8b8b8"/><path d="M176 836 C186 832 196 836 200 846 C204 856 198 866 188 866" stroke-width="4" stroke="#ffffff"/></g><g transform="translate(169 870) rotate(2)"><rect x="-16" y="-55" width="32" height="120" fill="url(#gV)" stroke="#9a9a9a" stroke-width="0.8"/><ellipse cx="0" cy="-53" rx="16" ry="5" fill="#f0f0f0" stroke="#9a9a9a" stroke-width="0.8"/></g><path d="M30 774 C48 788 68 800 91 800 C115 800 140 790 160 776 C172 768 182 760 204 744" fill="none" stroke="#1fa81f" stroke-width="16" stroke-linecap="round"/><path d="M30 772 C48 786 68 798 91 798 C115 798 140 788 160 774 C172 766 182 758 204 742" fill="none" stroke="#3de83d" stroke-width="11.5" stroke-linecap="round"/><path d="M150 800 C160 788 180 786 196 790 C206 794 208 806 204 816 C200 824 192 826 188 822" fill="none" stroke="#a8a8a8" stroke-width="7" stroke-linecap="round"/><path d="M150 800 C160 788 180 786 196 790 C206 794 208 806 204 816 C200 824 192 826 188 822" fill="none" stroke="#ffffff" stroke-width="5" stroke-linecap="round"/><g fill="none" stroke-linecap="round" stroke-linejoin="round" stroke-width="4"><path d="M84 794 L90 762 L100 750 M92 772 L108 764 L110 754 M132 786 L120 754 M108 762 L112 747" stroke="#2fd02f" stroke-width="5"/><path d="M72 783 L80 785" stroke="#d02020"/><path d="M93 772 L95 778" stroke="#2040d0" stroke-width="3"/><path d="M91 779 L93 786" stroke="#d02020"/><path d="M121 800 L120 812" stroke="#d02020"/><path d="M120 812 L118 826" stroke="#b8a020"/><path d="M118 826 L126 829 L131 832 L131 845 L141 857" stroke="#7a4414" stroke-width="3.5"/><path d="M131 853 L129 858" stroke="#d02020" stroke-width="3"/></g><path d="M126 909 C126 900 129 894 128.7 892.4 C124 886 119 880 121 874 C122 868 126 862 131 859.6 C140 858 146 861 151.4 862 C158 866 162 870 166.6 872 C172 875 176 876 181.7 877 C188 878 192 879 191.8 882 C191 886 188 890 186.7 892.4 C184 894 182 896 180 898" fill="none" stroke="#6a3a0c" stroke-width="8.5" stroke-linecap="round"/><path d="M126 909 C126 900 129 894 128.7 892.4 C124 886 119 880 121 874 C122 868 126 862 131 859.6 C140 858 146 861 151.4 862 C158 866 162 870 166.6 872 C172 875 176 876 181.7 877 C188 878 192 879 191.8 882 C191 886 188 890 186.7 892.4 C184 894 182 896 180 898" fill="none" stroke="#a05e1c" stroke-width="5" stroke-linecap="round"/></g><circle cx="121" cy="838" r="91.5" fill="none" stroke="#5b86d4" stroke-width="1.8"/><text x="36.6" y="820.4" font-size="16.4" font-weight="bold" fill="#2fbf2f" text-anchor="start" stroke="#1a8a1a" stroke-width="0.4" paint-order="stroke">5&#8217; &#8220;hook&#8221;</text><text x="35.3" y="840.6" font-size="16.4" font-weight="bold" fill="#2fbf2f" text-anchor="start" stroke="#1a8a1a" stroke-width="0.4" paint-order="stroke">(activator)</text><text x="135" y="810.3" font-size="17.7" font-weight="bold" fill="#2fbf2f" text-anchor="start" stroke="#1a8a1a" stroke-width="0.4" paint-order="stroke">C5</text><text x="149" y="850.7" font-size="18" font-weight="bold" fill="#5a3410" text-anchor="start" stroke="#3a200a" stroke-width="0.3" paint-order="stroke">K1291</text><text x="42.4" y="869.7" font-size="16.2" font-weight="bold" fill="#5a3410" text-anchor="start" stroke="#3a200a" stroke-width="0.3" paint-order="stroke">Fingertips</text><text x="49.2" y="889.8" font-size="16.2" font-weight="bold" fill="#5a3410" text-anchor="start" stroke="#3a200a" stroke-width="0.3" paint-order="stroke">(sensor)</text><clipPath id="cS2"><circle cx="97.5" cy="1276.8" r="90"/></clipPath><g clip-path="url(#cS2)"><rect x="7" y="1186" width="182" height="182" fill="#ffffff"/><g transform="translate(102 1215)"><rect x="-15" y="-30" width="30" height="70" fill="url(#gV)" stroke="#aaaaaa" stroke-width="0.8"/></g><g transform="translate(165 1300) rotate(8)"><rect x="-14" y="-40" width="28" height="90" fill="url(#gV)" stroke="#aaaaaa" stroke-width="0.8"/></g><path d="M120 1362 C130 1356 140 1358 146 1364" fill="none" stroke="#aaaaaa" stroke-width="0.8"/><g fill="none" stroke-linecap="round" stroke-linejoin="round"><path d="M136.3 1190 C140 1205 145 1214 150 1218 C156 1221 162 1222 164.7 1228 C166 1234 164 1238 166 1242 C168 1248 170 1252 170.4 1256" stroke="#b86a5c" stroke-width="7"/><path d="M136.3 1190 C140 1205 145 1214 150 1218 C156 1221 162 1222 164.7 1228 C166 1234 164 1238 166 1242 C168 1248 170 1252 170.4 1256" stroke="#e89080" stroke-width="4.5"/><path d="M60 1244 C62 1232 66 1226 72 1222 C80 1218 90 1220 98 1230 C104 1238 108 1244 114 1242 C118 1236 120 1230 125 1234 C128 1240 124 1248 120 1251" stroke="#5a300a" stroke-width="10"/><path d="M62 1238 C64 1230 68 1226 74 1223 C82 1220 90 1222 97 1230" stroke="#c89868" stroke-width="6.5"/><path d="M99 1232 C104 1238 108 1244 114 1242 C118 1236 120 1230 125 1234 C128 1240 124 1248 120 1251" stroke="#8a4c14" stroke-width="6.5"/><path d="M60 1244 C68 1248 74 1252 75.7 1258 C76 1265 74 1270 66.3 1273.6 M73 1258 L76 1276 L72 1286 L60.6 1296.3" stroke="#7a4414" stroke-width="3.5"/><path d="M66 1272 L62 1278" stroke="#f0f0f0" stroke-width="4"/><path d="M60.6 1296.3 L50 1300 M60.6 1296.3 L55 1287" stroke="#2850e0" stroke-width="3"/><path d="M132.5 1243.3 C136 1248 140 1252 140 1256 C142 1262 146 1266 145.8 1270 L143.9 1277.4 M143.9 1277.4 L136.3 1283 M143.9 1277.4 L145.8 1290" stroke="#7a4414" stroke-width="3.5"/><path d="M136.3 1283 L134 1286 M145.8 1288 L146 1292 M143.9 1277.4 L148 1272" stroke="#2850e0" stroke-width="3"/><path d="M26.5 1317 L45.4 1303.9 M149.5 1269.8 L172.3 1256.5" stroke="#e8d800" stroke-width="4" stroke-dasharray="2 1.2"/><path d="M10 1330 C20 1326 34 1330 43.5 1326.6 C48 1325 50 1326 49.2 1330 C48 1334 47 1336 47.3 1340" stroke="#e8e000" stroke-width="3"/><path d="M0 1338 C15 1338 30 1340 40 1346 C50 1352 56 1358 62.5 1366" stroke="#e8e000" stroke-width="10"/><path d="M22 1318 L27 1322" stroke="#d02020" stroke-width="3"/></g></g><circle cx="97.5" cy="1276.8" r="90" fill="none" stroke="#c8203a" stroke-width="2"/><circle cx="55.3" cy="1217.7" r="10.6" fill="#7a4012" stroke="none" stroke-width="0.8"/><text x="55.3" y="1222.7" font-size="14" font-weight="bold" fill="#ffffff" text-anchor="middle">F</text><circle cx="122.1" cy="1210.2" r="10.6" fill="#e08878" stroke="none" stroke-width="0.8"/><text x="122.1" y="1215.2" font-size="14" font-weight="bold" fill="#231815" text-anchor="middle">I</text><circle cx="26.5" cy="1297.2" r="11" fill="#f5f50a" stroke="none" stroke-width="0.8"/><text x="26.5" y="1302.2" font-size="14" font-weight="bold" fill="#231815" text-anchor="middle">B</text><text x="121" y="1243.3" font-size="14.3" font-weight="bold" fill="#e0a0a0" text-anchor="start" stroke="#a06060" stroke-width="0.4" paint-order="stroke">K1008</text><text x="12.3" y="1280.2" font-size="14.5" font-weight="bold" fill="#4a3018" text-anchor="start">R1294</text><text x="90.9" y="1275.1" font-size="14.4" font-weight="bold" fill="#4a3018" text-anchor="start">R1289</text><text x="129.7" y="1307.6" font-size="16" font-weight="bold" fill="#5a3410" text-anchor="middle">Fingertips</text><text x="129.2" y="1326.6" font-size="16.3" font-weight="bold" fill="#5a3410" text-anchor="middle">(adptor)</text><text x="53" y="1337.5" font-size="14.8" font-weight="bold" fill="#e8e050" text-anchor="start" stroke="#8a8a10" stroke-width="0.5" paint-order="stroke">Q1455</text><clipPath id="cT1"><circle cx="757.9" cy="873.8" r="93"/></clipPath><g clip-path="url(#cT1)"><rect x="664" y="780" width="188" height="188" fill="#efefef"/><g><path d="M714 800C713 803 712 812 709 816S700 825 695 826S683 824 678 821S666 813 666 809S672 799 674 794S676 785 679 782S690 774 695 774S704 781 708 785S714 795 714 800S712 812 709 816S697 824 695 826" fill="#fcfcfc" stroke="#a3a3a3" stroke-width="0.9"/><path d="M758 795C758 797 757 805 754 807S746 808 742 809S735 810 732 809S727 804 725 801S719 791 720 788S726 779 730 777S738 779 743 780S753 779 756 782S759 791 758 795S757 805 754 807S744 808 742 809" fill="#fcfcfc" stroke="#a3a3a3" stroke-width="0.9"/><path d="M818 800C817 801 813 806 810 809S806 812 802 813S794 818 790 817S783 810 783 806S785 799 787 795S788 785 791 784S799 783 803 784S810 787 813 789S819 797 818 800S813 806 810 809S804 813 802 813" fill="#fcfcfc" stroke="#a3a3a3" stroke-width="0.9"/><path d="M870 840C868 842 862 851 857 855S849 862 844 863S833 861 829 858S822 851 820 847S820 838 821 833S825 823 829 820S840 813 845 814S851 823 855 828S869 836 870 840S862 851 857 855S846 862 844 863" fill="#fcfcfc" stroke="#a3a3a3" stroke-width="0.9"/><path d="M703 840C702 842 700 850 697 854S689 862 684 863S671 865 667 862S665 852 662 846S652 834 653 830S666 827 671 824S680 814 685 814S698 818 701 822S704 835 703 840S700 850 697 854S686 861 684 863" fill="#fcfcfc" stroke="#a3a3a3" stroke-width="0.9"/><path d="M716 890C716 892 715 898 713 901S707 906 703 908S691 914 687 912S684 901 683 896S677 887 678 882S683 871 687 868S700 863 704 865S713 873 715 877S717 886 716 890S715 898 713 901S705 907 703 908" fill="#fcfcfc" stroke="#a3a3a3" stroke-width="0.9"/><path d="M849 900C848 902 847 909 845 912S837 919 833 919S827 913 823 911S812 910 811 907S815 899 817 895S820 889 822 887S829 883 833 883S843 884 845 887S849 896 849 900S847 909 845 912S835 918 833 919" fill="#fcfcfc" stroke="#a3a3a3" stroke-width="0.9"/><path d="M707 940C706 942 705 948 702 950S696 954 693 955S686 955 682 954S673 950 671 947S667 936 668 932S678 927 682 926S688 926 693 925S705 923 707 925S708 936 707 940S705 948 702 950S694 954 693 955" fill="#fcfcfc" stroke="#a3a3a3" stroke-width="0.9"/><path d="M765 960C763 962 760 970 756 973S748 980 744 980S736 977 731 975S717 972 716 969S722 959 724 954S726 945 729 942S740 934 744 936S750 945 754 949S764 956 765 960S760 970 756 973S746 979 744 980" fill="#fcfcfc" stroke="#a3a3a3" stroke-width="0.9"/><path d="M819 950C819 952 820 961 817 965S809 968 803 969S790 975 787 973S782 962 780 957S778 948 779 942S781 928 786 925S799 922 805 923S819 927 822 932S820 945 819 950S820 961 817 965S806 968 803 969" fill="#fcfcfc" stroke="#a3a3a3" stroke-width="0.9"/><path d="M858 950C858 952 857 960 855 962S847 966 843 967S835 968 830 967S819 963 817 958S815 946 817 942S825 933 829 931S839 929 844 930S852 935 854 938S858 946 858 950S857 960 855 962S845 966 843 967" fill="#fcfcfc" stroke="#a3a3a3" stroke-width="0.9"/><path d="M693 900C692 903 694 913 691 918S680 926 675 927S662 926 657 923S648 914 646 909S643 896 645 891S654 883 659 880S670 873 675 874S684 882 687 886S692 895 693 900S694 913 691 918S677 925 675 927" fill="#fcfcfc" stroke="#a3a3a3" stroke-width="0.9"/><path d="M782 800C781 802 778 810 775 813S767 819 763 819S756 814 753 812S744 809 742 806S743 798 745 794S747 785 750 783S759 782 763 782S773 783 776 786S782 796 782 800S778 810 775 813S765 818 763 819" fill="#fcfcfc" stroke="#a3a3a3" stroke-width="0.9"/><path d="M844 870C843 873 843 883 839 886S829 889 824 890S812 894 807 892S798 884 796 879S796 867 798 862S802 850 807 847S820 842 825 844S834 851 837 856S844 865 844 870S843 883 839 886S826 889 824 890" fill="#fcfcfc" stroke="#a3a3a3" stroke-width="0.9"/><path d="M744 830C744 833 744 843 741 847S730 856 725 857S710 857 706 854S702 843 700 837S693 825 694 820S702 811 707 808S719 803 725 804S735 810 738 815S744 825 744 830S744 843 741 847S727 855 725 857" fill="#fcfcfc" stroke="#a3a3a3" stroke-width="0.9"/></g><path d="M700 850 C720 846 740 856 748 872 C756 890 770 900 790 905 C800 910 806 925 800 945 C780 952 750 950 735 940 C722 930 712 915 706 900 C700 888 696 866 700 850 Z" fill="#f7f7f7"/><path d="M734.6 865.7 C745 865 755 866 764.9 866.7 C772 867 780 868 785.7 871.4 C788 875 788 880 786.7 882.8 C782 886 776 888 772.5 889.4 C768 891 765 893 764 896 C763 900 764 906 764.9 909.3 C770 913 777 915 783.9 916.9 C789 919 794 921 795.2 924.4 C797 930 798 938 797.1 943.4 C792 946 788 946 783.9 945.3 C776 944 770 943 763 941.5 C756 940 748 939 742.2 937.7 C738 933 736 928 734.6 924.4 C732 920 730 916 727.1 913.1 C722 910 716 909 711.9 907.4 C709 905 707 902 708.1 899.8 C709 898 710 897 711.9 896 C716 893 722 890 727.1 888.5 C730 886 733 884 734.6 882.8 C735 878 734 874 733.7 871.4 Z" fill="none" stroke="#4a4a4a" stroke-width="1.8" stroke-dasharray="5 3"/><circle cx="752" cy="836" r="7" fill="url(#gR)" stroke="#1d5716" stroke-width="0.6"/><circle cx="760" cy="833" r="7" fill="url(#gR)" stroke="#1d5716" stroke-width="0.6"/><circle cx="764" cy="842" r="7" fill="url(#gR)" stroke="#1d5716" stroke-width="0.6"/><circle cx="751" cy="846" r="7" fill="url(#gR)" stroke="#1d5716" stroke-width="0.6"/><circle cx="758" cy="850" r="7" fill="url(#gR)" stroke="#1d5716" stroke-width="0.6"/><circle cx="766" cy="852" r="7" fill="url(#gR)" stroke="#1d5716" stroke-width="0.6"/><circle cx="748" cy="858" r="7" fill="url(#gR)" stroke="#1d5716" stroke-width="0.6"/><circle cx="757" cy="861" r="7" fill="url(#gR)" stroke="#1d5716" stroke-width="0.6"/><circle cx="766" cy="862" r="7" fill="url(#gR)" stroke="#1d5716" stroke-width="0.6"/><circle cx="753" cy="868" r="7" fill="url(#gR)" stroke="#1d5716" stroke-width="0.6"/><path d="M782 806 L767.5 880" stroke="#231815" stroke-width="2"/><path d="M760.5 872 L773.5 875 L765.9 889 Z" fill="#231815"/><path d="M767 828 L784 846 M767 846 L786 828 M770 836 L784 840" stroke="#e02828" stroke-width="2"/></g><circle cx="757.9" cy="873.8" r="93" fill="none" stroke="#231815" stroke-width="2.4"/><clipPath id="cT2"><circle cx="739" cy="1295" r="92.5"/></clipPath><g clip-path="url(#cT2)"><rect x="646" y="1202" width="186" height="186" fill="#ffffff"/><g fill="url(#gV)" stroke="#9a9a9a" stroke-width="0.8"><path d="M652 1215 L674 1210 L700 1320 L678 1326 Z"/><path d="M700 1210 L724 1206 L744 1260 L722 1266 Z"/><path d="M760 1330 L790 1330 L800 1390 L770 1390 Z"/></g><g fill="none" stroke-linecap="round" stroke-linejoin="round"><path d="M660 1245 C668 1255 656 1265 664 1275 C672 1285 658 1295 664 1305 C668 1312 660 1318 656 1325" stroke="#666666" stroke-width="5"/><path d="M660 1245 C668 1255 656 1265 664 1275 C672 1285 658 1295 664 1305 C668 1312 660 1318 656 1325" stroke="#9a9a9a" stroke-width="2.5"/><path d="M699 1240 C705 1232 712 1236 716 1240 C722 1246 728 1238 734 1232" stroke="#6a3a0c" stroke-width="4"/><path d="M749 1210 C754 1205 762 1208 764 1216 C766 1224 770 1230 772 1232" stroke="#e88878" stroke-width="3.5"/><path d="M795 1242 C800 1260 812 1280 826 1300" stroke="#e050e0" stroke-width="2"/><path d="M810 1300 C822 1300 826 1310 824 1320 C822 1328 814 1330 808 1326" stroke="#8a20d8" stroke-width="4"/><path d="M760 1320 C772 1306 790 1310 800 1318 C808 1324 816 1326 826 1322" stroke="#50c0c0" stroke-width="3"/><path d="M748 1330 C760 1318 778 1318 788 1330 C798 1340 808 1338 820 1334" stroke="#90c890" stroke-width="3"/><path d="M690 1320 C696 1310 706 1306 714 1312 C720 1316 726 1320 734 1316" stroke="#e8e000" stroke-width="3"/><path d="M700 1312 C706 1302 716 1300 724 1308" stroke="#f4b478" stroke-width="3"/><path d="M718 1336 C730 1354 746 1374 760 1392" stroke="#d8d000" stroke-width="15" stroke-linecap="butt"/><path d="M718 1336 C730 1354 746 1374 760 1392" stroke="#f4f040" stroke-width="9" stroke-linecap="butt"/><path d="M722 1278 L736 1294 M736 1278 L722 1294" stroke="#d02020" stroke-width="2"/></g><path d="M710 1316 C716 1304 728 1304 734 1312 L730 1326 L712 1328 Z" fill="#f4b478" stroke="#c08050" stroke-width="0.6"/><g transform="translate(813 1279) rotate(-60)"><rect x="-12" y="-7" width="24" height="14" fill="#f070f0" stroke="#c040c0" stroke-width="0.6"/></g><circle cx="758" cy="1272" r="6.5" fill="url(#gR)" stroke="#1d5716" stroke-width="0.6"/><circle cx="766" cy="1270" r="6.5" fill="url(#gR)" stroke="#1d5716" stroke-width="0.6"/><circle cx="762" cy="1280" r="6.5" fill="url(#gR)" stroke="#1d5716" stroke-width="0.6"/><circle cx="752" cy="1282" r="6.5" fill="url(#gR)" stroke="#1d5716" stroke-width="0.6"/><circle cx="770" cy="1284" r="6.5" fill="url(#gR)" stroke="#1d5716" stroke-width="0.6"/><circle cx="756" cy="1292" r="6.5" fill="url(#gR)" stroke="#1d5716" stroke-width="0.6"/><circle cx="765" cy="1294" r="6.5" fill="url(#gR)" stroke="#1d5716" stroke-width="0.6"/><circle cx="752" cy="1300" r="6.5" fill="url(#gR)" stroke="#1d5716" stroke-width="0.6"/><circle cx="760" cy="1304" r="6.5" fill="url(#gR)" stroke="#1d5716" stroke-width="0.6"/><circle cx="681.5" cy="1265" r="11" fill="#888888" stroke="none" stroke-width="0.8"/><text x="681.5" y="1270.2" font-size="14.5" font-weight="bold" fill="#ffffff" text-anchor="middle">H</text><circle cx="718" cy="1260" r="11" fill="#7a4012" stroke="none" stroke-width="0.8"/><text x="718" y="1265.2" font-size="14.5" font-weight="bold" fill="#ffffff" text-anchor="middle">F</text><circle cx="765" cy="1242.5" r="11" fill="#e08878" stroke="none" stroke-width="0.8"/><text x="765" y="1247.7" font-size="14.5" font-weight="bold" fill="#231815" text-anchor="middle">I</text><circle cx="801.5" cy="1255" r="11" fill="#e020e0" stroke="none" stroke-width="0.8"/><text x="801.5" y="1260.2" font-size="14.5" font-weight="bold" fill="#231815" text-anchor="middle">G</text><circle cx="783" cy="1286.5" r="11" fill="#20e0f0" stroke="none" stroke-width="0.8"/><text x="783" y="1291.7" font-size="14.5" font-weight="bold" fill="#231815" text-anchor="middle">D</text><circle cx="799" cy="1340" r="11" fill="#9020e0" stroke="none" stroke-width="0.8"/><text x="799" y="1345.2" font-size="14.5" font-weight="bold" fill="#ffffff" text-anchor="middle">E</text><circle cx="737.5" cy="1332.5" r="11" fill="#f0b080" stroke="none" stroke-width="0.8"/><text x="737.5" y="1337.7" font-size="14.5" font-weight="bold" fill="#231815" text-anchor="middle">A</text><circle cx="693" cy="1342.5" r="11" fill="#f5f50a" stroke="none" stroke-width="0.8"/><text x="693" y="1347.7" font-size="14.5" font-weight="bold" fill="#231815" text-anchor="middle">B</text><circle cx="759" cy="1355" r="11" fill="#90c890" stroke="none" stroke-width="0.8"/><text x="759" y="1360.2" font-size="14.5" font-weight="bold" fill="#231815" text-anchor="middle">C</text></g><circle cx="739" cy="1295" r="92.5" fill="none" stroke="#231815" stroke-width="2.4"/></svg></body></html>
